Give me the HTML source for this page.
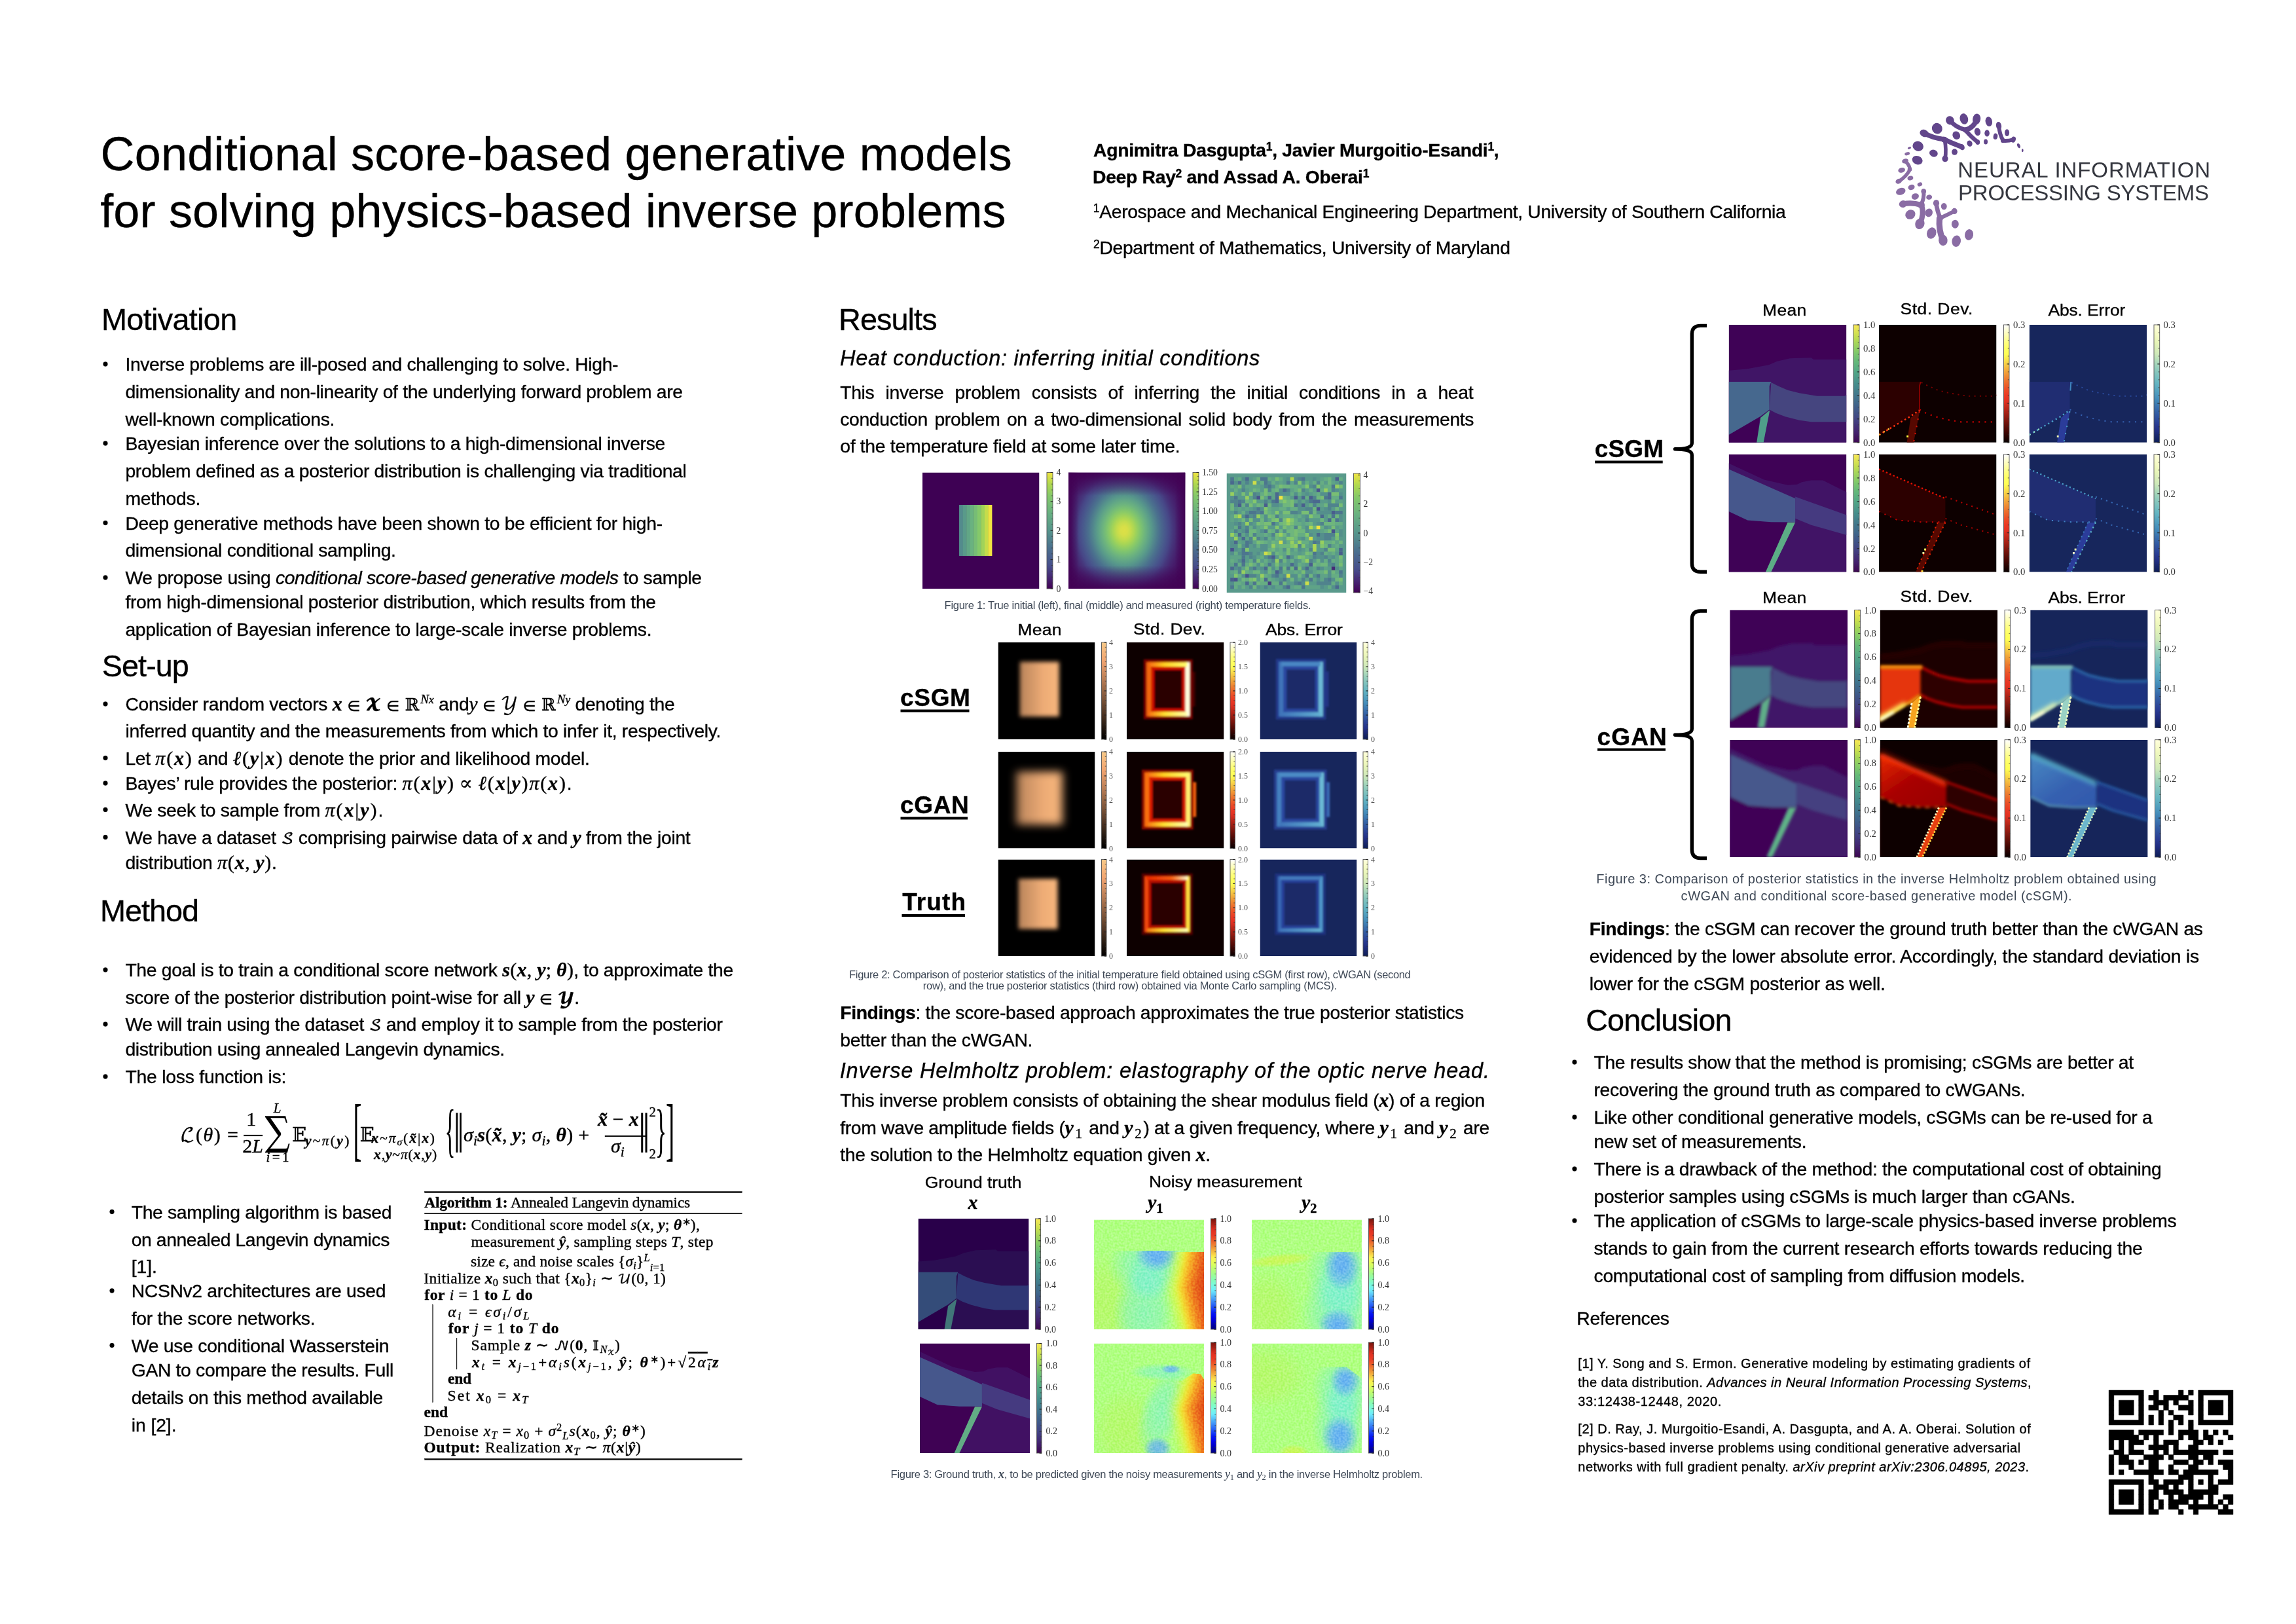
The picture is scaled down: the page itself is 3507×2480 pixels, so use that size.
<!DOCTYPE html><html lang="en"><head><meta charset="utf-8"><title>Conditional score-based generative models for solving physics-based inverse problems</title><style>html,body{margin:0;padding:0;background:#fff}body{width:3507px;height:2480px;position:relative;overflow:hidden}</style></head><body><svg width="3507" height="2480" viewBox="0 0 3507 2480" style="position:absolute;left:0;top:0;display:block" xml:space="preserve"><defs><linearGradient id="cm_viridis" x1="0" y1="1" x2="0" y2="0"><stop offset="0.0" stop-color="#3e0751"/><stop offset="0.05" stop-color="#401660"/><stop offset="0.1" stop-color="#432671"/><stop offset="0.15" stop-color="#41357a"/><stop offset="0.2" stop-color="#424483"/><stop offset="0.25" stop-color="#405186"/><stop offset="0.3" stop-color="#3f5e89"/><stop offset="0.35" stop-color="#406b8b"/><stop offset="0.4" stop-color="#41768c"/><stop offset="0.45" stop-color="#43828c"/><stop offset="0.5" stop-color="#468e8c"/><stop offset="0.55" stop-color="#4c9a89"/><stop offset="0.6" stop-color="#51a686"/><stop offset="0.65" stop-color="#5cb17f"/><stop offset="0.7" stop-color="#67bb78"/><stop offset="0.75" stop-color="#7ac66d"/><stop offset="0.8" stop-color="#8fcf63"/><stop offset="0.85" stop-color="#a8d658"/><stop offset="0.9" stop-color="#c4de50"/><stop offset="0.95" stop-color="#dee353"/><stop offset="1.0" stop-color="#f9e855"/></linearGradient><linearGradient id="cm_jet" x1="0" y1="1" x2="0" y2="0"><stop offset="0.0" stop-color="#00007b"/><stop offset="0.05" stop-color="#0000b2"/><stop offset="0.1" stop-color="#0000e9"/><stop offset="0.15" stop-color="#061af5"/><stop offset="0.2" stop-color="#204ff5"/><stop offset="0.25" stop-color="#3983f7"/><stop offset="0.3" stop-color="#53b7f9"/><stop offset="0.35" stop-color="#6debfc"/><stop offset="0.4" stop-color="#79fbdf"/><stop offset="0.45" stop-color="#88fcb5"/><stop offset="0.5" stop-color="#a1fc8f"/><stop offset="0.55" stop-color="#c0fd6e"/><stop offset="0.6" stop-color="#e4fe59"/><stop offset="0.65" stop-color="#fcf050"/><stop offset="0.7" stop-color="#f5bd41"/><stop offset="0.75" stop-color="#ef8b34"/><stop offset="0.8" stop-color="#ec5e2a"/><stop offset="0.85" stop-color="#ea3b24"/><stop offset="0.9" stop-color="#df3021"/><stop offset="0.95" stop-color="#aa2217"/><stop offset="1.0" stop-color="#75140c"/></linearGradient><linearGradient id="cm_hot" x1="0" y1="1" x2="0" y2="0"><stop offset="0.0" stop-color="#090000"/><stop offset="0.05" stop-color="#270301"/><stop offset="0.1" stop-color="#470804"/><stop offset="0.15" stop-color="#651009"/><stop offset="0.2" stop-color="#85180f"/><stop offset="0.25" stop-color="#a32015"/><stop offset="0.3" stop-color="#c2291b"/><stop offset="0.35" stop-color="#e13122"/><stop offset="0.4" stop-color="#ea3924"/><stop offset="0.45" stop-color="#eb4c27"/><stop offset="0.5" stop-color="#ec662b"/><stop offset="0.55" stop-color="#ee8332"/><stop offset="0.6" stop-color="#f1a239"/><stop offset="0.65" stop-color="#f5c242"/><stop offset="0.7" stop-color="#fae14b"/><stop offset="0.75" stop-color="#ffff55"/><stop offset="0.8" stop-color="#ffff62"/><stop offset="0.85" stop-color="#ffff80"/><stop offset="0.9" stop-color="#ffffa7"/><stop offset="0.95" stop-color="#ffffd2"/><stop offset="1.0" stop-color="#ffffff"/></linearGradient><linearGradient id="cm_copper" x1="0" y1="1" x2="0" y2="0"><stop offset="0.0" stop-color="#000000"/><stop offset="0.05" stop-color="#0f0a06"/><stop offset="0.1" stop-color="#1d140e"/><stop offset="0.15" stop-color="#2c1f15"/><stop offset="0.2" stop-color="#3c291b"/><stop offset="0.25" stop-color="#4b3222"/><stop offset="0.3" stop-color="#593d2a"/><stop offset="0.35" stop-color="#684730"/><stop offset="0.4" stop-color="#775137"/><stop offset="0.45" stop-color="#865b3f"/><stop offset="0.5" stop-color="#956645"/><stop offset="0.55" stop-color="#a4704c"/><stop offset="0.6" stop-color="#b37a54"/><stop offset="0.65" stop-color="#c2845a"/><stop offset="0.7" stop-color="#d08e61"/><stop offset="0.75" stop-color="#e09868"/><stop offset="0.8" stop-color="#efa26f"/><stop offset="0.85" stop-color="#f2ac75"/><stop offset="0.9" stop-color="#f4b57c"/><stop offset="0.95" stop-color="#f5c082"/><stop offset="1.0" stop-color="#f6c989"/></linearGradient><linearGradient id="cm_mut" x1="0" y1="1" x2="0" y2="0"><stop offset="0" stop-color="#420154"/><stop offset="0.08" stop-color="#46206e"/><stop offset="0.2" stop-color="#474f8c"/><stop offset="0.35" stop-color="#4b708e"/><stop offset="0.5" stop-color="#56958c"/><stop offset="0.65" stop-color="#68b082"/><stop offset="0.8" stop-color="#85c96a"/><stop offset="0.9" stop-color="#b0d850"/><stop offset="1" stop-color="#f0e442"/></linearGradient><linearGradient id="cm_ylgnbu" x1="0" y1="1" x2="0" y2="0"><stop offset="0.0" stop-color="#0d1d55"/><stop offset="0.05" stop-color="#18266c"/><stop offset="0.1" stop-color="#222f83"/><stop offset="0.15" stop-color="#293b92"/><stop offset="0.2" stop-color="#2e4c9b"/><stop offset="0.25" stop-color="#335da3"/><stop offset="0.3" stop-color="#3a70ad"/><stop offset="0.35" stop-color="#4185b6"/><stop offset="0.4" stop-color="#4b96bd"/><stop offset="0.45" stop-color="#57a5bf"/><stop offset="0.5" stop-color="#64b4c2"/><stop offset="0.55" stop-color="#75bdbf"/><stop offset="0.6" stop-color="#87c6bd"/><stop offset="0.65" stop-color="#9cd1bb"/><stop offset="0.7" stop-color="#b5ddba"/><stop offset="0.75" stop-color="#cee8b9"/><stop offset="0.8" stop-color="#dbeeb9"/><stop offset="0.85" stop-color="#e8f5b9"/><stop offset="0.9" stop-color="#f2f9c0"/><stop offset="0.95" stop-color="#f9fcce"/><stop offset="1.0" stop-color="#ffffdd"/></linearGradient><filter id="b1" filterUnits="userSpaceOnUse" x="-0.3" y="-0.3" width="1.6" height="1.6"><feGaussianBlur stdDeviation="0.012"/></filter><filter id="b2" filterUnits="userSpaceOnUse" x="-0.3" y="-0.3" width="1.6" height="1.6"><feGaussianBlur stdDeviation="0.022"/></filter><filter id="b3" filterUnits="userSpaceOnUse" x="-0.3" y="-0.3" width="1.6" height="1.6"><feGaussianBlur stdDeviation="0.045"/></filter><filter id="b4" filterUnits="userSpaceOnUse" x="-0.3" y="-0.3" width="1.6" height="1.6"><feGaussianBlur stdDeviation="0.08"/></filter><filter id="nz" x="0" y="0" width="100%" height="100%" color-interpolation-filters="sRGB"><feTurbulence type="fractalNoise" baseFrequency="55" numOctaves="1" seed="3"/><feColorMatrix type="matrix" values="2.6 0 0 0 -0.8  2.6 0 0 0 -0.8  2.6 0 0 0 -0.8  0 0 0 0 1"/></filter></defs><g id="figures"><svg x="1409" y="721.5" width="178.5" height="177.5" viewBox="0 0 1 1" preserveAspectRatio="none"><rect width="1" height="1" fill="#3e0154"/><rect x="0.314" y="0.279" width="0.033" height="0.439" fill="#538b8d" /><rect x="0.345" y="0.279" width="0.033" height="0.439" fill="#599a8a" /><rect x="0.376" y="0.279" width="0.033" height="0.439" fill="#61a686" /><rect x="0.407" y="0.279" width="0.033" height="0.439" fill="#6ab280" /><rect x="0.438" y="0.279" width="0.033" height="0.439" fill="#77bd75" /><rect x="0.470" y="0.279" width="0.033" height="0.439" fill="#85c96a" /><rect x="0.501" y="0.279" width="0.033" height="0.439" fill="#a1d359" /><rect x="0.532" y="0.279" width="0.033" height="0.439" fill="#c5dc4b" /><rect x="0.563" y="0.279" width="0.033" height="0.439" fill="#f0e442" /></svg><rect x="1599" y="721.5" width="9.00" height="177.50" fill="url(#cm_mut)" stroke="#555" stroke-width="0.9"/><path d="M1605.8 899.0h2.2M1605.8 890.1h2.2M1605.8 881.2h2.2M1605.8 872.4h2.2M1605.8 863.5h2.2M1605.8 854.6h2.2M1605.8 845.8h2.2M1605.8 836.9h2.2M1605.8 828.0h2.2M1605.8 819.1h2.2M1605.8 810.2h2.2M1605.8 801.4h2.2M1605.8 792.5h2.2M1605.8 783.6h2.2M1605.8 774.8h2.2M1605.8 765.9h2.2M1605.8 757.0h2.2M1605.8 748.1h2.2M1605.8 739.2h2.2M1605.8 730.4h2.2M1605.8 721.5h2.2" stroke="#333" stroke-width="0.7"/><path d="M1604.5 899.0h3.5M1604.5 854.6h3.5M1604.5 810.2h3.5M1604.5 765.9h3.5M1604.5 721.5h3.5" stroke="#222" stroke-width="0.9"/><g font-family="'Liberation Serif',serif" font-size="13.7" fill="#333"><text x="1613.5" y="903.5">0</text><text x="1613.5" y="859.1">1</text><text x="1613.5" y="814.8">2</text><text x="1613.5" y="770.4">3</text><text x="1613.5" y="726.0">4</text></g><svg x="1632" y="721.5" width="178.5" height="177.5" viewBox="0 0 1 1" preserveAspectRatio="none"><radialGradient id="f1g" cx="0" cy="0" r="0.9" gradientUnits="userSpaceOnUse" gradientTransform="translate(0.475 0.5) scale(0.8 1)"><stop offset="0.000" stop-color="#dde046"/><stop offset="0.042" stop-color="#d7df48"/><stop offset="0.083" stop-color="#c4dc4c"/><stop offset="0.125" stop-color="#aad654"/><stop offset="0.167" stop-color="#90cd63"/><stop offset="0.208" stop-color="#7cc271"/><stop offset="0.250" stop-color="#6db47e"/><stop offset="0.292" stop-color="#61a686"/><stop offset="0.333" stop-color="#57978b"/><stop offset="0.375" stop-color="#51848d"/><stop offset="0.417" stop-color="#4b728e"/><stop offset="0.458" stop-color="#49638d"/><stop offset="0.500" stop-color="#48558c"/><stop offset="0.542" stop-color="#474787"/><stop offset="0.583" stop-color="#46367c"/><stop offset="0.625" stop-color="#462973"/><stop offset="0.667" stop-color="#461e6c"/><stop offset="0.708" stop-color="#451665"/><stop offset="0.750" stop-color="#441060"/><stop offset="0.792" stop-color="#430b5c"/><stop offset="0.833" stop-color="#43085a"/><stop offset="0.875" stop-color="#430658"/><stop offset="0.917" stop-color="#420456"/><stop offset="0.958" stop-color="#420356"/><stop offset="1.000" stop-color="#420255"/></radialGradient><rect width="1" height="1" fill="url(#f1g)"/><linearGradient id="f1e0" x1="0" y1="0" x2="0" y2="0.2" gradientUnits="userSpaceOnUse"><stop offset="0" stop-color="#420154" stop-opacity="0.95"/><stop offset="1" stop-color="#420154" stop-opacity="0"/></linearGradient><rect width="1" height="1" fill="url(#f1e0)"/><linearGradient id="f1e1" x1="0" y1="1" x2="0" y2="0.8" gradientUnits="userSpaceOnUse"><stop offset="0" stop-color="#420154" stop-opacity="0.95"/><stop offset="1" stop-color="#420154" stop-opacity="0"/></linearGradient><rect width="1" height="1" fill="url(#f1e1)"/><linearGradient id="f1e2" x1="0" y1="0" x2="0.09" y2="0" gradientUnits="userSpaceOnUse"><stop offset="0" stop-color="#420154" stop-opacity="0.95"/><stop offset="1" stop-color="#420154" stop-opacity="0"/></linearGradient><rect width="1" height="1" fill="url(#f1e2)"/><linearGradient id="f1e3" x1="1" y1="0" x2="0.91" y2="0" gradientUnits="userSpaceOnUse"><stop offset="0" stop-color="#420154" stop-opacity="0.95"/><stop offset="1" stop-color="#420154" stop-opacity="0"/></linearGradient><rect width="1" height="1" fill="url(#f1e3)"/></svg><rect x="1822" y="721.5" width="9.00" height="177.50" fill="url(#cm_mut)" stroke="#555" stroke-width="0.9"/><path d="M1828.8 899.0h2.2M1828.8 893.1h2.2M1828.8 887.2h2.2M1828.8 881.2h2.2M1828.8 875.3h2.2M1828.8 869.4h2.2M1828.8 863.5h2.2M1828.8 857.6h2.2M1828.8 851.7h2.2M1828.8 845.8h2.2M1828.8 839.8h2.2M1828.8 833.9h2.2M1828.8 828.0h2.2M1828.8 822.1h2.2M1828.8 816.2h2.2M1828.8 810.2h2.2M1828.8 804.3h2.2M1828.8 798.4h2.2M1828.8 792.5h2.2M1828.8 786.6h2.2M1828.8 780.7h2.2M1828.8 774.8h2.2M1828.8 768.8h2.2M1828.8 762.9h2.2M1828.8 757.0h2.2M1828.8 751.1h2.2M1828.8 745.2h2.2M1828.8 739.2h2.2M1828.8 733.3h2.2M1828.8 727.4h2.2M1828.8 721.5h2.2" stroke="#333" stroke-width="0.7"/><path d="M1827.5 899.0h3.5M1827.5 869.4h3.5M1827.5 839.8h3.5M1827.5 810.2h3.5M1827.5 780.7h3.5M1827.5 751.1h3.5M1827.5 721.5h3.5" stroke="#222" stroke-width="0.9"/><g font-family="'Liberation Serif',serif" font-size="13.7" fill="#333"><text x="1836" y="903.5">0.00</text><text x="1836" y="873.9">0.25</text><text x="1836" y="844.4">0.50</text><text x="1836" y="814.8">0.75</text><text x="1836" y="785.2">1.00</text><text x="1836" y="755.6">1.25</text><text x="1836" y="726.0">1.50</text></g><svg x="1873.5" y="723" width="183" height="182" viewBox="0 0 1 1" preserveAspectRatio="none"><rect width="1" height="1" fill="#5a9a8c"/><path d="M0.8750 0.7812h0.0312v0.0312h-0.0312z" fill="#462a74"/><path d="M0.3438 0.9062h0.0312v0.0312h-0.0312z" fill="#473f81"/><path d="M0.7500 0.1250h0.0312v0.0312h-0.0312zM0.2500 0.1875h0.0312v0.0312h-0.0312zM0.7500 0.2812h0.0312v0.0312h-0.0312zM0.8750 0.4688h0.0312v0.0312h-0.0312zM0.0312 0.6250h0.0312v0.0312h-0.0312zM0.1562 0.8438h0.0312v0.0312h-0.0312zM0.0625 0.8750h0.0312v0.0312h-0.0312z" fill="#47518c"/><path d="M0.9062 0.0312h0.0312v0.0312h-0.0312zM0.5625 0.1875h0.0312v0.0312h-0.0312zM0.6875 0.1875h0.0312v0.0312h-0.0312zM0.0938 0.2500h0.0312v0.0312h-0.0312zM0.3125 0.2500h0.0312v0.0312h-0.0312zM0.6250 0.2500h0.0312v0.0312h-0.0312zM0.8750 0.3125h0.0312v0.0312h-0.0312zM0.9375 0.6562h0.0312v0.0312h-0.0312zM0.3750 0.6875h0.0312v0.0312h-0.0312zM0.6875 0.7500h0.0312v0.0312h-0.0312zM0.4062 0.8125h0.0312v0.0312h-0.0312zM0.0312 0.8750h0.0312v0.0312h-0.0312z" fill="#495d8d"/><path d="M0.1562 0.0312h0.0312v0.0312h-0.0312zM0.0312 0.0625h0.0312v0.0312h-0.0312zM0.0938 0.0625h0.0312v0.0312h-0.0312zM0.4688 0.1250h0.0312v0.0312h-0.0312zM0.4062 0.1562h0.0312v0.0312h-0.0312zM0.8438 0.1562h0.0312v0.0312h-0.0312zM0.3438 0.1875h0.0312v0.0312h-0.0312zM0.4062 0.1875h0.0312v0.0312h-0.0312zM0.6250 0.1875h0.0312v0.0312h-0.0312zM0.8438 0.1875h0.0312v0.0312h-0.0312zM0.4062 0.2188h0.0312v0.0312h-0.0312zM0.7188 0.2188h0.0312v0.0312h-0.0312zM0.7500 0.2188h0.0312v0.0312h-0.0312zM0.1562 0.3438h0.0312v0.0312h-0.0312zM0.7812 0.3438h0.0312v0.0312h-0.0312zM0.8438 0.3750h0.0312v0.0312h-0.0312zM0.0938 0.5000h0.0312v0.0312h-0.0312zM0.7500 0.5000h0.0312v0.0312h-0.0312zM0.1250 0.5312h0.0312v0.0312h-0.0312zM0.0625 0.5625h0.0312v0.0312h-0.0312zM0.9375 0.6250h0.0312v0.0312h-0.0312zM0.5000 0.6875h0.0312v0.0312h-0.0312zM0.1250 0.7188h0.0312v0.0312h-0.0312zM0.5312 0.7500h0.0312v0.0312h-0.0312zM0.0312 0.7812h0.0312v0.0312h-0.0312zM0.3125 0.7812h0.0312v0.0312h-0.0312zM0.5625 0.7812h0.0312v0.0312h-0.0312zM0.6562 0.7812h0.0312v0.0312h-0.0312zM0.3125 0.8750h0.0312v0.0312h-0.0312zM0.1562 0.9062h0.0312v0.0312h-0.0312zM0.5000 0.9375h0.0312v0.0312h-0.0312zM0.9062 0.9375h0.0312v0.0312h-0.0312z" fill="#4a688e"/><path d="M0.0312 0.0312h0.0312v0.0312h-0.0312zM0.2812 0.0312h0.0312v0.0312h-0.0312zM0.3125 0.0312h0.0312v0.0312h-0.0312zM0.6250 0.0312h0.0312v0.0312h-0.0312zM0.3125 0.0625h0.0312v0.0312h-0.0312zM0.5000 0.0625h0.0312v0.0312h-0.0312zM0.3438 0.0938h0.0312v0.0312h-0.0312zM0.8750 0.0938h0.0312v0.0312h-0.0312zM0.0625 0.1875h0.0312v0.0312h-0.0312zM0.8125 0.1875h0.0312v0.0312h-0.0312zM0.9375 0.1875h0.0312v0.0312h-0.0312zM0.0938 0.2188h0.0312v0.0312h-0.0312zM0.3750 0.2188h0.0312v0.0312h-0.0312zM0.6875 0.2188h0.0312v0.0312h-0.0312zM0.5625 0.2500h0.0312v0.0312h-0.0312zM0.2500 0.2812h0.0312v0.0312h-0.0312zM0.1875 0.3125h0.0312v0.0312h-0.0312zM0.2188 0.3125h0.0312v0.0312h-0.0312zM0.2812 0.3125h0.0312v0.0312h-0.0312zM0.9062 0.3125h0.0312v0.0312h-0.0312zM0.9375 0.3125h0.0312v0.0312h-0.0312zM0.8750 0.3438h0.0312v0.0312h-0.0312zM0.9062 0.3750h0.0312v0.0312h-0.0312zM0.3750 0.4062h0.0312v0.0312h-0.0312zM0.0938 0.4375h0.0312v0.0312h-0.0312zM0.1562 0.4688h0.0312v0.0312h-0.0312zM0.3125 0.4688h0.0312v0.0312h-0.0312zM0.1562 0.5625h0.0312v0.0312h-0.0312zM0.7188 0.5625h0.0312v0.0312h-0.0312zM0.1562 0.5938h0.0312v0.0312h-0.0312zM0.1250 0.6250h0.0312v0.0312h-0.0312zM0.1250 0.6562h0.0312v0.0312h-0.0312zM0.1562 0.6562h0.0312v0.0312h-0.0312zM0.7188 0.6562h0.0312v0.0312h-0.0312zM0.1250 0.6875h0.0312v0.0312h-0.0312zM0.3438 0.6875h0.0312v0.0312h-0.0312zM0.0625 0.7500h0.0312v0.0312h-0.0312zM0.1250 0.7500h0.0312v0.0312h-0.0312zM0.3438 0.7500h0.0312v0.0312h-0.0312zM0.2188 0.7812h0.0312v0.0312h-0.0312zM0.4375 0.7812h0.0312v0.0312h-0.0312zM0.5000 0.7812h0.0312v0.0312h-0.0312zM0.9375 0.8125h0.0312v0.0312h-0.0312zM0.4062 0.8438h0.0312v0.0312h-0.0312zM0.6562 0.8438h0.0312v0.0312h-0.0312zM0.7500 0.8438h0.0312v0.0312h-0.0312zM0.4688 0.8750h0.0312v0.0312h-0.0312zM0.6875 0.8750h0.0312v0.0312h-0.0312zM0.8438 0.8750h0.0312v0.0312h-0.0312zM0.2188 0.9062h0.0312v0.0312h-0.0312zM0.4375 0.9062h0.0312v0.0312h-0.0312zM0.5938 0.9062h0.0312v0.0312h-0.0312zM0.0312 0.9375h0.0312v0.0312h-0.0312zM0.6250 0.9375h0.0312v0.0312h-0.0312z" fill="#4c758e"/><path d="M0.5938 0.0312h0.0312v0.0312h-0.0312zM0.1562 0.0625h0.0312v0.0312h-0.0312zM0.5625 0.0625h0.0312v0.0312h-0.0312zM0.7500 0.0625h0.0312v0.0312h-0.0312zM0.9375 0.0625h0.0312v0.0312h-0.0312zM0.3125 0.0938h0.0312v0.0312h-0.0312zM0.7188 0.0938h0.0312v0.0312h-0.0312zM0.1250 0.1250h0.0312v0.0312h-0.0312zM0.3438 0.1250h0.0312v0.0312h-0.0312zM0.5000 0.1250h0.0312v0.0312h-0.0312zM0.6250 0.1250h0.0312v0.0312h-0.0312zM0.8750 0.1250h0.0312v0.0312h-0.0312zM0.2188 0.1562h0.0312v0.0312h-0.0312zM0.2188 0.1875h0.0312v0.0312h-0.0312zM0.7188 0.1875h0.0312v0.0312h-0.0312zM0.0312 0.2188h0.0312v0.0312h-0.0312zM0.0625 0.2188h0.0312v0.0312h-0.0312zM0.1250 0.2188h0.0312v0.0312h-0.0312zM0.3125 0.2188h0.0312v0.0312h-0.0312zM0.0625 0.2500h0.0312v0.0312h-0.0312zM0.1562 0.2500h0.0312v0.0312h-0.0312zM0.7188 0.2500h0.0312v0.0312h-0.0312zM0.8438 0.2500h0.0312v0.0312h-0.0312zM0.8750 0.2500h0.0312v0.0312h-0.0312zM0.9062 0.2500h0.0312v0.0312h-0.0312zM0.6562 0.2812h0.0312v0.0312h-0.0312zM0.6875 0.2812h0.0312v0.0312h-0.0312zM0.8438 0.2812h0.0312v0.0312h-0.0312zM0.0625 0.3125h0.0312v0.0312h-0.0312zM0.2500 0.3125h0.0312v0.0312h-0.0312zM0.5312 0.3125h0.0312v0.0312h-0.0312zM0.5625 0.3125h0.0312v0.0312h-0.0312zM0.6875 0.3125h0.0312v0.0312h-0.0312zM0.2188 0.3438h0.0312v0.0312h-0.0312zM0.4062 0.3438h0.0312v0.0312h-0.0312zM0.4375 0.3750h0.0312v0.0312h-0.0312zM0.6562 0.3750h0.0312v0.0312h-0.0312zM0.0938 0.4062h0.0312v0.0312h-0.0312zM0.7812 0.4062h0.0312v0.0312h-0.0312zM0.1562 0.4375h0.0312v0.0312h-0.0312zM0.5625 0.4375h0.0312v0.0312h-0.0312zM0.0625 0.4688h0.0312v0.0312h-0.0312zM0.4062 0.4688h0.0312v0.0312h-0.0312zM0.2188 0.5000h0.0312v0.0312h-0.0312zM0.3750 0.5000h0.0312v0.0312h-0.0312zM0.8125 0.5000h0.0312v0.0312h-0.0312zM0.8438 0.5000h0.0312v0.0312h-0.0312zM0.8750 0.5000h0.0312v0.0312h-0.0312zM0.1875 0.5312h0.0312v0.0312h-0.0312zM0.2500 0.5312h0.0312v0.0312h-0.0312zM0.3125 0.5312h0.0312v0.0312h-0.0312zM0.8125 0.5312h0.0312v0.0312h-0.0312zM0.8438 0.5312h0.0312v0.0312h-0.0312zM0.1875 0.5625h0.0312v0.0312h-0.0312zM0.7500 0.5625h0.0312v0.0312h-0.0312zM0.5938 0.5938h0.0312v0.0312h-0.0312zM0.8438 0.5938h0.0312v0.0312h-0.0312zM0.6875 0.6250h0.0312v0.0312h-0.0312zM0.8125 0.6250h0.0312v0.0312h-0.0312zM0.1875 0.6562h0.0312v0.0312h-0.0312zM0.7812 0.6562h0.0312v0.0312h-0.0312zM0.1875 0.6875h0.0312v0.0312h-0.0312zM0.7188 0.6875h0.0312v0.0312h-0.0312zM0.8125 0.6875h0.0312v0.0312h-0.0312zM0.2188 0.7188h0.0312v0.0312h-0.0312zM0.3750 0.7188h0.0312v0.0312h-0.0312zM0.4375 0.7188h0.0312v0.0312h-0.0312zM0.6875 0.7188h0.0312v0.0312h-0.0312zM0.8438 0.7188h0.0312v0.0312h-0.0312zM0.8750 0.7500h0.0312v0.0312h-0.0312zM0.0938 0.7812h0.0312v0.0312h-0.0312zM0.7500 0.7812h0.0312v0.0312h-0.0312zM0.0938 0.8125h0.0312v0.0312h-0.0312zM0.4375 0.8125h0.0312v0.0312h-0.0312zM0.1875 0.8438h0.0312v0.0312h-0.0312zM0.2188 0.8438h0.0312v0.0312h-0.0312zM0.3750 0.8438h0.0312v0.0312h-0.0312zM0.9375 0.8438h0.0312v0.0312h-0.0312zM0.6250 0.8750h0.0312v0.0312h-0.0312zM0.8125 0.8750h0.0312v0.0312h-0.0312zM0.5625 0.9062h0.0312v0.0312h-0.0312zM0.7500 0.9062h0.0312v0.0312h-0.0312zM0.7812 0.9062h0.0312v0.0312h-0.0312zM0.8125 0.9062h0.0312v0.0312h-0.0312zM0.8438 0.9062h0.0312v0.0312h-0.0312zM0.1875 0.9375h0.0312v0.0312h-0.0312zM0.3125 0.9375h0.0312v0.0312h-0.0312zM0.4688 0.9375h0.0312v0.0312h-0.0312z" fill="#50828d"/><path d="M0.1250 0.0312h0.0312v0.0312h-0.0312zM0.5000 0.0312h0.0312v0.0312h-0.0312zM0.5625 0.0312h0.0312v0.0312h-0.0312zM0.7188 0.0312h0.0312v0.0312h-0.0312zM0.0625 0.0625h0.0312v0.0312h-0.0312zM0.3438 0.0625h0.0312v0.0312h-0.0312zM0.6250 0.0625h0.0312v0.0312h-0.0312zM0.1250 0.0938h0.0312v0.0312h-0.0312zM0.3750 0.0938h0.0312v0.0312h-0.0312zM0.6875 0.0938h0.0312v0.0312h-0.0312zM0.4375 0.1250h0.0312v0.0312h-0.0312zM0.9062 0.1250h0.0312v0.0312h-0.0312zM0.2500 0.1562h0.0312v0.0312h-0.0312zM0.4375 0.1562h0.0312v0.0312h-0.0312zM0.4688 0.1562h0.0312v0.0312h-0.0312zM0.5000 0.1562h0.0312v0.0312h-0.0312zM0.5625 0.1562h0.0312v0.0312h-0.0312zM0.6562 0.1562h0.0312v0.0312h-0.0312zM0.7812 0.1562h0.0312v0.0312h-0.0312zM0.8125 0.1562h0.0312v0.0312h-0.0312zM0.9375 0.1562h0.0312v0.0312h-0.0312zM0.0312 0.1875h0.0312v0.0312h-0.0312zM0.5938 0.2188h0.0312v0.0312h-0.0312zM0.6562 0.2188h0.0312v0.0312h-0.0312zM0.8438 0.2188h0.0312v0.0312h-0.0312zM0.3750 0.2500h0.0312v0.0312h-0.0312zM0.4062 0.2500h0.0312v0.0312h-0.0312zM0.5938 0.2500h0.0312v0.0312h-0.0312zM0.2188 0.2812h0.0312v0.0312h-0.0312zM0.2812 0.2812h0.0312v0.0312h-0.0312zM0.5938 0.2812h0.0312v0.0312h-0.0312zM0.6250 0.2812h0.0312v0.0312h-0.0312zM0.8125 0.2812h0.0312v0.0312h-0.0312zM0.1562 0.3125h0.0312v0.0312h-0.0312zM0.5938 0.3125h0.0312v0.0312h-0.0312zM0.7500 0.3125h0.0312v0.0312h-0.0312zM0.7812 0.3125h0.0312v0.0312h-0.0312zM0.8125 0.3125h0.0312v0.0312h-0.0312zM0.8438 0.3125h0.0312v0.0312h-0.0312zM0.1250 0.3438h0.0312v0.0312h-0.0312zM0.1875 0.3438h0.0312v0.0312h-0.0312zM0.3125 0.3438h0.0312v0.0312h-0.0312zM0.6562 0.3438h0.0312v0.0312h-0.0312zM0.9375 0.3438h0.0312v0.0312h-0.0312zM0.1562 0.3750h0.0312v0.0312h-0.0312zM0.2188 0.3750h0.0312v0.0312h-0.0312zM0.2500 0.3750h0.0312v0.0312h-0.0312zM0.3125 0.3750h0.0312v0.0312h-0.0312zM0.9375 0.3750h0.0312v0.0312h-0.0312zM0.0625 0.4062h0.0312v0.0312h-0.0312zM0.1875 0.4062h0.0312v0.0312h-0.0312zM0.7500 0.4062h0.0312v0.0312h-0.0312zM0.2188 0.4375h0.0312v0.0312h-0.0312zM0.6562 0.4375h0.0312v0.0312h-0.0312zM0.8125 0.4375h0.0312v0.0312h-0.0312zM0.1250 0.4688h0.0312v0.0312h-0.0312zM0.2812 0.4688h0.0312v0.0312h-0.0312zM0.4688 0.4688h0.0312v0.0312h-0.0312zM0.6562 0.4688h0.0312v0.0312h-0.0312zM0.9375 0.4688h0.0312v0.0312h-0.0312zM0.1562 0.5000h0.0312v0.0312h-0.0312zM0.6875 0.5000h0.0312v0.0312h-0.0312zM0.7812 0.5000h0.0312v0.0312h-0.0312zM0.9375 0.5000h0.0312v0.0312h-0.0312zM0.6250 0.5312h0.0312v0.0312h-0.0312zM0.7500 0.5312h0.0312v0.0312h-0.0312zM0.7812 0.5312h0.0312v0.0312h-0.0312zM0.0312 0.5625h0.0312v0.0312h-0.0312zM0.0312 0.5938h0.0312v0.0312h-0.0312zM0.0625 0.5938h0.0312v0.0312h-0.0312zM0.1250 0.5938h0.0312v0.0312h-0.0312zM0.2188 0.5938h0.0312v0.0312h-0.0312zM0.2812 0.5938h0.0312v0.0312h-0.0312zM0.3125 0.5938h0.0312v0.0312h-0.0312zM0.0625 0.6250h0.0312v0.0312h-0.0312zM0.2812 0.6250h0.0312v0.0312h-0.0312zM0.3125 0.6250h0.0312v0.0312h-0.0312zM0.4688 0.6250h0.0312v0.0312h-0.0312zM0.5938 0.6250h0.0312v0.0312h-0.0312zM0.0312 0.6562h0.0312v0.0312h-0.0312zM0.0938 0.6562h0.0312v0.0312h-0.0312zM0.2500 0.6562h0.0312v0.0312h-0.0312zM0.3750 0.6562h0.0312v0.0312h-0.0312zM0.7500 0.6562h0.0312v0.0312h-0.0312zM0.2188 0.6875h0.0312v0.0312h-0.0312zM0.3125 0.6875h0.0312v0.0312h-0.0312zM0.5312 0.6875h0.0312v0.0312h-0.0312zM0.7500 0.6875h0.0312v0.0312h-0.0312zM0.7812 0.6875h0.0312v0.0312h-0.0312zM0.8750 0.6875h0.0312v0.0312h-0.0312zM0.0938 0.7188h0.0312v0.0312h-0.0312zM0.5625 0.7188h0.0312v0.0312h-0.0312zM0.7812 0.7188h0.0312v0.0312h-0.0312zM0.2500 0.7500h0.0312v0.0312h-0.0312zM0.5625 0.7500h0.0312v0.0312h-0.0312zM0.8438 0.7500h0.0312v0.0312h-0.0312zM0.0625 0.7812h0.0312v0.0312h-0.0312zM0.1875 0.7812h0.0312v0.0312h-0.0312zM0.2812 0.7812h0.0312v0.0312h-0.0312zM0.3750 0.7812h0.0312v0.0312h-0.0312zM0.6250 0.7812h0.0312v0.0312h-0.0312zM0.7812 0.7812h0.0312v0.0312h-0.0312zM0.9062 0.7812h0.0312v0.0312h-0.0312zM0.3125 0.8125h0.0312v0.0312h-0.0312zM0.6562 0.8125h0.0312v0.0312h-0.0312zM0.6875 0.8125h0.0312v0.0312h-0.0312zM0.8438 0.8125h0.0312v0.0312h-0.0312zM0.1250 0.8438h0.0312v0.0312h-0.0312zM0.4688 0.8438h0.0312v0.0312h-0.0312zM0.5312 0.8438h0.0312v0.0312h-0.0312zM0.5625 0.8438h0.0312v0.0312h-0.0312zM0.7188 0.8438h0.0312v0.0312h-0.0312zM0.8438 0.8438h0.0312v0.0312h-0.0312zM0.4375 0.8750h0.0312v0.0312h-0.0312zM0.5625 0.8750h0.0312v0.0312h-0.0312zM0.7500 0.8750h0.0312v0.0312h-0.0312zM0.8750 0.8750h0.0312v0.0312h-0.0312zM0.0312 0.9062h0.0312v0.0312h-0.0312zM0.6250 0.9062h0.0312v0.0312h-0.0312zM0.9062 0.9062h0.0312v0.0312h-0.0312zM0.2500 0.9375h0.0312v0.0312h-0.0312zM0.3750 0.9375h0.0312v0.0312h-0.0312zM0.7812 0.9375h0.0312v0.0312h-0.0312zM0.8750 0.9375h0.0312v0.0312h-0.0312z" fill="#548f8c"/><path d="M0.1875 0.0312h0.0312v0.0312h-0.0312zM0.4688 0.0312h0.0312v0.0312h-0.0312zM0.6562 0.0312h0.0312v0.0312h-0.0312zM0.6875 0.0312h0.0312v0.0312h-0.0312zM0.7500 0.0312h0.0312v0.0312h-0.0312zM0.8750 0.0312h0.0312v0.0312h-0.0312zM0.1250 0.0625h0.0312v0.0312h-0.0312zM0.1875 0.0625h0.0312v0.0312h-0.0312zM0.2500 0.0625h0.0312v0.0312h-0.0312zM0.4062 0.0625h0.0312v0.0312h-0.0312zM0.4688 0.0625h0.0312v0.0312h-0.0312zM0.6875 0.0625h0.0312v0.0312h-0.0312zM0.8125 0.0625h0.0312v0.0312h-0.0312zM0.9062 0.0625h0.0312v0.0312h-0.0312zM0.2812 0.0938h0.0312v0.0312h-0.0312zM0.0312 0.1250h0.0312v0.0312h-0.0312zM0.0938 0.1250h0.0312v0.0312h-0.0312zM0.1562 0.1250h0.0312v0.0312h-0.0312zM0.2812 0.1250h0.0312v0.0312h-0.0312zM0.6562 0.1250h0.0312v0.0312h-0.0312zM0.7188 0.1250h0.0312v0.0312h-0.0312zM0.9375 0.1250h0.0312v0.0312h-0.0312zM0.0938 0.1562h0.0312v0.0312h-0.0312zM0.1562 0.1562h0.0312v0.0312h-0.0312zM0.6250 0.1562h0.0312v0.0312h-0.0312zM0.6875 0.1562h0.0312v0.0312h-0.0312zM0.0938 0.1875h0.0312v0.0312h-0.0312zM0.1250 0.1875h0.0312v0.0312h-0.0312zM0.5312 0.1875h0.0312v0.0312h-0.0312zM0.5938 0.1875h0.0312v0.0312h-0.0312zM0.2500 0.2188h0.0312v0.0312h-0.0312zM0.2812 0.2188h0.0312v0.0312h-0.0312zM0.3438 0.2188h0.0312v0.0312h-0.0312zM0.7812 0.2188h0.0312v0.0312h-0.0312zM0.8125 0.2188h0.0312v0.0312h-0.0312zM0.9062 0.2188h0.0312v0.0312h-0.0312zM0.4375 0.2500h0.0312v0.0312h-0.0312zM0.6562 0.2500h0.0312v0.0312h-0.0312zM0.0625 0.2812h0.0312v0.0312h-0.0312zM0.1250 0.2812h0.0312v0.0312h-0.0312zM0.1875 0.2812h0.0312v0.0312h-0.0312zM0.5000 0.2812h0.0312v0.0312h-0.0312zM0.7812 0.2812h0.0312v0.0312h-0.0312zM0.8750 0.2812h0.0312v0.0312h-0.0312zM0.9375 0.2812h0.0312v0.0312h-0.0312zM0.0312 0.3125h0.0312v0.0312h-0.0312zM0.0938 0.3125h0.0312v0.0312h-0.0312zM0.4375 0.3125h0.0312v0.0312h-0.0312zM0.6250 0.3438h0.0312v0.0312h-0.0312zM0.8125 0.3438h0.0312v0.0312h-0.0312zM0.0625 0.3750h0.0312v0.0312h-0.0312zM0.5938 0.3750h0.0312v0.0312h-0.0312zM0.6875 0.3750h0.0312v0.0312h-0.0312zM0.7188 0.3750h0.0312v0.0312h-0.0312zM0.7500 0.3750h0.0312v0.0312h-0.0312zM0.8125 0.3750h0.0312v0.0312h-0.0312zM0.0312 0.4062h0.0312v0.0312h-0.0312zM0.1250 0.4062h0.0312v0.0312h-0.0312zM0.2188 0.4062h0.0312v0.0312h-0.0312zM0.4062 0.4062h0.0312v0.0312h-0.0312zM0.7188 0.4062h0.0312v0.0312h-0.0312zM0.0312 0.4375h0.0312v0.0312h-0.0312zM0.1250 0.4375h0.0312v0.0312h-0.0312zM0.3438 0.4375h0.0312v0.0312h-0.0312zM0.3750 0.4375h0.0312v0.0312h-0.0312zM0.4375 0.4375h0.0312v0.0312h-0.0312zM0.8438 0.4375h0.0312v0.0312h-0.0312zM0.9062 0.4375h0.0312v0.0312h-0.0312zM0.0938 0.4688h0.0312v0.0312h-0.0312zM0.6875 0.4688h0.0312v0.0312h-0.0312zM0.7188 0.4688h0.0312v0.0312h-0.0312zM0.7500 0.4688h0.0312v0.0312h-0.0312zM0.5000 0.5000h0.0312v0.0312h-0.0312zM0.7188 0.5000h0.0312v0.0312h-0.0312zM0.0312 0.5312h0.0312v0.0312h-0.0312zM0.0938 0.5312h0.0312v0.0312h-0.0312zM0.2812 0.5312h0.0312v0.0312h-0.0312zM0.3750 0.5312h0.0312v0.0312h-0.0312zM0.5938 0.5312h0.0312v0.0312h-0.0312zM0.7188 0.5312h0.0312v0.0312h-0.0312zM0.8750 0.5312h0.0312v0.0312h-0.0312zM0.9375 0.5312h0.0312v0.0312h-0.0312zM0.1250 0.5625h0.0312v0.0312h-0.0312zM0.4688 0.5625h0.0312v0.0312h-0.0312zM0.6875 0.5625h0.0312v0.0312h-0.0312zM0.1875 0.5938h0.0312v0.0312h-0.0312zM0.6875 0.5938h0.0312v0.0312h-0.0312zM0.7500 0.5938h0.0312v0.0312h-0.0312zM0.9375 0.5938h0.0312v0.0312h-0.0312zM0.0938 0.6250h0.0312v0.0312h-0.0312zM0.1875 0.6250h0.0312v0.0312h-0.0312zM0.2188 0.6250h0.0312v0.0312h-0.0312zM0.2500 0.6250h0.0312v0.0312h-0.0312zM0.5312 0.6250h0.0312v0.0312h-0.0312zM0.6250 0.6250h0.0312v0.0312h-0.0312zM0.7500 0.6250h0.0312v0.0312h-0.0312zM0.7812 0.6250h0.0312v0.0312h-0.0312zM0.2188 0.6562h0.0312v0.0312h-0.0312zM0.5938 0.6562h0.0312v0.0312h-0.0312zM0.9062 0.6562h0.0312v0.0312h-0.0312zM0.1562 0.6875h0.0312v0.0312h-0.0312zM0.4062 0.6875h0.0312v0.0312h-0.0312zM0.8438 0.6875h0.0312v0.0312h-0.0312zM0.1562 0.7188h0.0312v0.0312h-0.0312zM0.2812 0.7188h0.0312v0.0312h-0.0312zM0.3438 0.7188h0.0312v0.0312h-0.0312zM0.5000 0.7188h0.0312v0.0312h-0.0312zM0.5938 0.7188h0.0312v0.0312h-0.0312zM0.7188 0.7188h0.0312v0.0312h-0.0312zM0.3750 0.7500h0.0312v0.0312h-0.0312zM0.4375 0.7500h0.0312v0.0312h-0.0312zM0.5000 0.7500h0.0312v0.0312h-0.0312zM0.6562 0.7500h0.0312v0.0312h-0.0312zM0.2500 0.7812h0.0312v0.0312h-0.0312zM0.6875 0.7812h0.0312v0.0312h-0.0312zM0.8438 0.7812h0.0312v0.0312h-0.0312zM0.2812 0.8125h0.0312v0.0312h-0.0312zM0.0312 0.8438h0.0312v0.0312h-0.0312zM0.2500 0.8438h0.0312v0.0312h-0.0312zM0.4375 0.8438h0.0312v0.0312h-0.0312zM0.6250 0.8438h0.0312v0.0312h-0.0312zM0.0938 0.8750h0.0312v0.0312h-0.0312zM0.2500 0.8750h0.0312v0.0312h-0.0312zM0.4062 0.8750h0.0312v0.0312h-0.0312zM0.5000 0.8750h0.0312v0.0312h-0.0312zM0.5000 0.9062h0.0312v0.0312h-0.0312zM0.5312 0.9062h0.0312v0.0312h-0.0312zM0.6875 0.9062h0.0312v0.0312h-0.0312zM0.7188 0.9062h0.0312v0.0312h-0.0312zM0.0938 0.9375h0.0312v0.0312h-0.0312zM0.1562 0.9375h0.0312v0.0312h-0.0312zM0.2812 0.9375h0.0312v0.0312h-0.0312zM0.3438 0.9375h0.0312v0.0312h-0.0312zM0.8125 0.9375h0.0312v0.0312h-0.0312zM0.9375 0.9375h0.0312v0.0312h-0.0312z" fill="#599a8a"/><path d="M0.0625 0.0312h0.0312v0.0312h-0.0312zM0.2188 0.0312h0.0312v0.0312h-0.0312zM0.3750 0.0312h0.0312v0.0312h-0.0312zM0.7812 0.0312h0.0312v0.0312h-0.0312zM0.4375 0.0625h0.0312v0.0312h-0.0312zM0.5312 0.0625h0.0312v0.0312h-0.0312zM0.8750 0.0625h0.0312v0.0312h-0.0312zM0.0625 0.0938h0.0312v0.0312h-0.0312zM0.1562 0.0938h0.0312v0.0312h-0.0312zM0.1875 0.0938h0.0312v0.0312h-0.0312zM0.2188 0.0938h0.0312v0.0312h-0.0312zM0.2500 0.0938h0.0312v0.0312h-0.0312zM0.5938 0.0938h0.0312v0.0312h-0.0312zM0.7812 0.0938h0.0312v0.0312h-0.0312zM0.1875 0.1250h0.0312v0.0312h-0.0312zM0.5312 0.1250h0.0312v0.0312h-0.0312zM0.0625 0.1562h0.0312v0.0312h-0.0312zM0.3750 0.1562h0.0312v0.0312h-0.0312zM0.7188 0.1562h0.0312v0.0312h-0.0312zM0.1875 0.1875h0.0312v0.0312h-0.0312zM0.3125 0.1875h0.0312v0.0312h-0.0312zM0.3750 0.1875h0.0312v0.0312h-0.0312zM0.5625 0.2188h0.0312v0.0312h-0.0312zM0.6250 0.2188h0.0312v0.0312h-0.0312zM0.9375 0.2188h0.0312v0.0312h-0.0312zM0.2188 0.2500h0.0312v0.0312h-0.0312zM0.7500 0.2500h0.0312v0.0312h-0.0312zM0.7812 0.2500h0.0312v0.0312h-0.0312zM0.0938 0.2812h0.0312v0.0312h-0.0312zM0.1562 0.2812h0.0312v0.0312h-0.0312zM0.3750 0.2812h0.0312v0.0312h-0.0312zM0.4062 0.2812h0.0312v0.0312h-0.0312zM0.3750 0.3125h0.0312v0.0312h-0.0312zM0.0312 0.3438h0.0312v0.0312h-0.0312zM0.4375 0.3438h0.0312v0.0312h-0.0312zM0.5625 0.3438h0.0312v0.0312h-0.0312zM0.0312 0.3750h0.0312v0.0312h-0.0312zM0.0938 0.3750h0.0312v0.0312h-0.0312zM0.3438 0.3750h0.0312v0.0312h-0.0312zM0.6250 0.3750h0.0312v0.0312h-0.0312zM0.6250 0.4062h0.0312v0.0312h-0.0312zM0.2500 0.4375h0.0312v0.0312h-0.0312zM0.6250 0.4375h0.0312v0.0312h-0.0312zM0.9375 0.4375h0.0312v0.0312h-0.0312zM0.0312 0.4688h0.0312v0.0312h-0.0312zM0.2500 0.4688h0.0312v0.0312h-0.0312zM0.7812 0.4688h0.0312v0.0312h-0.0312zM0.9062 0.4688h0.0312v0.0312h-0.0312zM0.1250 0.5000h0.0312v0.0312h-0.0312zM0.2500 0.5000h0.0312v0.0312h-0.0312zM0.2812 0.5000h0.0312v0.0312h-0.0312zM0.3438 0.5000h0.0312v0.0312h-0.0312zM0.1562 0.5312h0.0312v0.0312h-0.0312zM0.4688 0.5312h0.0312v0.0312h-0.0312zM0.0938 0.5625h0.0312v0.0312h-0.0312zM0.2188 0.5625h0.0312v0.0312h-0.0312zM0.3438 0.5625h0.0312v0.0312h-0.0312zM0.9062 0.5625h0.0312v0.0312h-0.0312zM0.3438 0.5938h0.0312v0.0312h-0.0312zM0.6562 0.5938h0.0312v0.0312h-0.0312zM0.8750 0.5938h0.0312v0.0312h-0.0312zM0.4062 0.6250h0.0312v0.0312h-0.0312zM0.9062 0.6250h0.0312v0.0312h-0.0312zM0.2812 0.6562h0.0312v0.0312h-0.0312zM0.4688 0.6562h0.0312v0.0312h-0.0312zM0.5312 0.6562h0.0312v0.0312h-0.0312zM0.5625 0.6562h0.0312v0.0312h-0.0312zM0.6250 0.6562h0.0312v0.0312h-0.0312zM0.8438 0.6562h0.0312v0.0312h-0.0312zM0.0312 0.6875h0.0312v0.0312h-0.0312zM0.0625 0.6875h0.0312v0.0312h-0.0312zM0.0938 0.6875h0.0312v0.0312h-0.0312zM0.2500 0.6875h0.0312v0.0312h-0.0312zM0.4688 0.6875h0.0312v0.0312h-0.0312zM0.6875 0.6875h0.0312v0.0312h-0.0312zM0.9062 0.6875h0.0312v0.0312h-0.0312zM0.0625 0.7188h0.0312v0.0312h-0.0312zM0.9062 0.7188h0.0312v0.0312h-0.0312zM0.0312 0.7500h0.0312v0.0312h-0.0312zM0.3125 0.7500h0.0312v0.0312h-0.0312zM0.4688 0.7500h0.0312v0.0312h-0.0312zM0.6250 0.7500h0.0312v0.0312h-0.0312zM0.9062 0.7500h0.0312v0.0312h-0.0312zM0.1250 0.7812h0.0312v0.0312h-0.0312zM0.7188 0.7812h0.0312v0.0312h-0.0312zM0.8125 0.7812h0.0312v0.0312h-0.0312zM0.9375 0.7812h0.0312v0.0312h-0.0312zM0.0312 0.8125h0.0312v0.0312h-0.0312zM0.1875 0.8125h0.0312v0.0312h-0.0312zM0.3750 0.8125h0.0312v0.0312h-0.0312zM0.5000 0.8125h0.0312v0.0312h-0.0312zM0.5312 0.8125h0.0312v0.0312h-0.0312zM0.5938 0.8125h0.0312v0.0312h-0.0312zM0.7188 0.8125h0.0312v0.0312h-0.0312zM0.9062 0.8125h0.0312v0.0312h-0.0312zM0.3438 0.8438h0.0312v0.0312h-0.0312zM0.7812 0.8438h0.0312v0.0312h-0.0312zM0.8125 0.8438h0.0312v0.0312h-0.0312zM0.3750 0.8750h0.0312v0.0312h-0.0312zM0.5938 0.8750h0.0312v0.0312h-0.0312zM0.6562 0.8750h0.0312v0.0312h-0.0312zM0.7188 0.8750h0.0312v0.0312h-0.0312zM0.7812 0.8750h0.0312v0.0312h-0.0312zM0.1250 0.9062h0.0312v0.0312h-0.0312zM0.1875 0.9062h0.0312v0.0312h-0.0312zM0.4062 0.9375h0.0312v0.0312h-0.0312zM0.4375 0.9375h0.0312v0.0312h-0.0312zM0.5312 0.9375h0.0312v0.0312h-0.0312zM0.6562 0.9375h0.0312v0.0312h-0.0312zM0.6875 0.9375h0.0312v0.0312h-0.0312zM0.7188 0.9375h0.0312v0.0312h-0.0312zM0.7500 0.9375h0.0312v0.0312h-0.0312z" fill="#5fa387"/><path d="M0.0938 0.0312h0.0312v0.0312h-0.0312zM0.3438 0.0312h0.0312v0.0312h-0.0312zM0.4375 0.0312h0.0312v0.0312h-0.0312zM0.8125 0.0312h0.0312v0.0312h-0.0312zM0.9375 0.0312h0.0312v0.0312h-0.0312zM0.2812 0.0625h0.0312v0.0312h-0.0312zM0.3750 0.0625h0.0312v0.0312h-0.0312zM0.6562 0.0625h0.0312v0.0312h-0.0312zM0.7188 0.0625h0.0312v0.0312h-0.0312zM0.7812 0.0625h0.0312v0.0312h-0.0312zM0.0312 0.0938h0.0312v0.0312h-0.0312zM0.4062 0.0938h0.0312v0.0312h-0.0312zM0.5312 0.0938h0.0312v0.0312h-0.0312zM0.5625 0.0938h0.0312v0.0312h-0.0312zM0.6250 0.0938h0.0312v0.0312h-0.0312zM0.8125 0.0938h0.0312v0.0312h-0.0312zM0.8438 0.0938h0.0312v0.0312h-0.0312zM0.0625 0.1250h0.0312v0.0312h-0.0312zM0.2500 0.1250h0.0312v0.0312h-0.0312zM0.3750 0.1250h0.0312v0.0312h-0.0312zM0.5625 0.1250h0.0312v0.0312h-0.0312zM0.6875 0.1250h0.0312v0.0312h-0.0312zM0.7812 0.1250h0.0312v0.0312h-0.0312zM0.8438 0.1250h0.0312v0.0312h-0.0312zM0.2812 0.1562h0.0312v0.0312h-0.0312zM0.3438 0.1562h0.0312v0.0312h-0.0312zM0.5312 0.1562h0.0312v0.0312h-0.0312zM0.5938 0.1562h0.0312v0.0312h-0.0312zM0.7500 0.1562h0.0312v0.0312h-0.0312zM0.5000 0.1875h0.0312v0.0312h-0.0312zM0.6562 0.1875h0.0312v0.0312h-0.0312zM0.8750 0.1875h0.0312v0.0312h-0.0312zM0.9062 0.1875h0.0312v0.0312h-0.0312zM0.1875 0.2188h0.0312v0.0312h-0.0312zM0.1250 0.2500h0.0312v0.0312h-0.0312zM0.2812 0.2500h0.0312v0.0312h-0.0312zM0.6875 0.2500h0.0312v0.0312h-0.0312zM0.3438 0.2812h0.0312v0.0312h-0.0312zM0.4375 0.2812h0.0312v0.0312h-0.0312zM0.4688 0.2812h0.0312v0.0312h-0.0312zM0.5312 0.2812h0.0312v0.0312h-0.0312zM0.5625 0.2812h0.0312v0.0312h-0.0312zM0.1250 0.3125h0.0312v0.0312h-0.0312zM0.3438 0.3125h0.0312v0.0312h-0.0312zM0.2812 0.3438h0.0312v0.0312h-0.0312zM0.4688 0.3438h0.0312v0.0312h-0.0312zM0.5000 0.3438h0.0312v0.0312h-0.0312zM0.5312 0.3438h0.0312v0.0312h-0.0312zM0.5938 0.3438h0.0312v0.0312h-0.0312zM0.7188 0.3438h0.0312v0.0312h-0.0312zM0.7500 0.3438h0.0312v0.0312h-0.0312zM0.8438 0.3438h0.0312v0.0312h-0.0312zM0.5625 0.3750h0.0312v0.0312h-0.0312zM0.5625 0.4062h0.0312v0.0312h-0.0312zM0.5938 0.4062h0.0312v0.0312h-0.0312zM0.6562 0.4062h0.0312v0.0312h-0.0312zM0.9062 0.4062h0.0312v0.0312h-0.0312zM0.9375 0.4062h0.0312v0.0312h-0.0312zM0.0625 0.4375h0.0312v0.0312h-0.0312zM0.1875 0.4375h0.0312v0.0312h-0.0312zM0.2812 0.4375h0.0312v0.0312h-0.0312zM0.5000 0.4375h0.0312v0.0312h-0.0312zM0.7812 0.4375h0.0312v0.0312h-0.0312zM0.3750 0.4688h0.0312v0.0312h-0.0312zM0.8125 0.4688h0.0312v0.0312h-0.0312zM0.0625 0.5000h0.0312v0.0312h-0.0312zM0.3125 0.5000h0.0312v0.0312h-0.0312zM0.5938 0.5000h0.0312v0.0312h-0.0312zM0.6250 0.5000h0.0312v0.0312h-0.0312zM0.3438 0.5312h0.0312v0.0312h-0.0312zM0.4375 0.5312h0.0312v0.0312h-0.0312zM0.6562 0.5312h0.0312v0.0312h-0.0312zM0.3125 0.5625h0.0312v0.0312h-0.0312zM0.4062 0.5625h0.0312v0.0312h-0.0312zM0.5000 0.5625h0.0312v0.0312h-0.0312zM0.5625 0.5625h0.0312v0.0312h-0.0312zM0.6250 0.5625h0.0312v0.0312h-0.0312zM0.6562 0.5625h0.0312v0.0312h-0.0312zM0.8125 0.5625h0.0312v0.0312h-0.0312zM0.8438 0.5625h0.0312v0.0312h-0.0312zM0.2500 0.5938h0.0312v0.0312h-0.0312zM0.4062 0.5938h0.0312v0.0312h-0.0312zM0.9062 0.5938h0.0312v0.0312h-0.0312zM0.3438 0.6250h0.0312v0.0312h-0.0312zM0.4375 0.6250h0.0312v0.0312h-0.0312zM0.5625 0.6250h0.0312v0.0312h-0.0312zM0.6562 0.6250h0.0312v0.0312h-0.0312zM0.0625 0.6562h0.0312v0.0312h-0.0312zM0.4375 0.6562h0.0312v0.0312h-0.0312zM0.8125 0.6562h0.0312v0.0312h-0.0312zM0.8750 0.6562h0.0312v0.0312h-0.0312zM0.2812 0.6875h0.0312v0.0312h-0.0312zM0.5625 0.6875h0.0312v0.0312h-0.0312zM0.6562 0.6875h0.0312v0.0312h-0.0312zM0.0312 0.7188h0.0312v0.0312h-0.0312zM0.1875 0.7188h0.0312v0.0312h-0.0312zM0.3125 0.7188h0.0312v0.0312h-0.0312zM0.5312 0.7188h0.0312v0.0312h-0.0312zM0.8125 0.7188h0.0312v0.0312h-0.0312zM0.8750 0.7188h0.0312v0.0312h-0.0312zM0.0938 0.7500h0.0312v0.0312h-0.0312zM0.1562 0.7500h0.0312v0.0312h-0.0312zM0.2188 0.7500h0.0312v0.0312h-0.0312zM0.5938 0.7500h0.0312v0.0312h-0.0312zM0.7500 0.7500h0.0312v0.0312h-0.0312zM0.4062 0.7812h0.0312v0.0312h-0.0312zM0.0625 0.8125h0.0312v0.0312h-0.0312zM0.1562 0.8125h0.0312v0.0312h-0.0312zM0.4688 0.8125h0.0312v0.0312h-0.0312zM0.5625 0.8125h0.0312v0.0312h-0.0312zM0.7500 0.8125h0.0312v0.0312h-0.0312zM0.7812 0.8125h0.0312v0.0312h-0.0312zM0.0938 0.8438h0.0312v0.0312h-0.0312zM0.3125 0.8438h0.0312v0.0312h-0.0312zM0.8750 0.8438h0.0312v0.0312h-0.0312zM0.9062 0.8438h0.0312v0.0312h-0.0312zM0.1562 0.8750h0.0312v0.0312h-0.0312zM0.3438 0.8750h0.0312v0.0312h-0.0312zM0.0625 0.9062h0.0312v0.0312h-0.0312zM0.0938 0.9062h0.0312v0.0312h-0.0312zM0.2812 0.9062h0.0312v0.0312h-0.0312zM0.3125 0.9062h0.0312v0.0312h-0.0312zM0.3750 0.9062h0.0312v0.0312h-0.0312zM0.4062 0.9062h0.0312v0.0312h-0.0312zM0.8750 0.9062h0.0312v0.0312h-0.0312zM0.9375 0.9062h0.0312v0.0312h-0.0312zM0.0625 0.9375h0.0312v0.0312h-0.0312zM0.1250 0.9375h0.0312v0.0312h-0.0312zM0.5625 0.9375h0.0312v0.0312h-0.0312zM0.5938 0.9375h0.0312v0.0312h-0.0312zM0.8438 0.9375h0.0312v0.0312h-0.0312z" fill="#66ad83"/><path d="M0.2500 0.0312h0.0312v0.0312h-0.0312zM0.8438 0.0312h0.0312v0.0312h-0.0312zM0.8438 0.0625h0.0312v0.0312h-0.0312zM0.4688 0.0938h0.0312v0.0312h-0.0312zM0.5000 0.0938h0.0312v0.0312h-0.0312zM0.2188 0.1250h0.0312v0.0312h-0.0312zM0.4062 0.1250h0.0312v0.0312h-0.0312zM0.4688 0.1875h0.0312v0.0312h-0.0312zM0.7500 0.1875h0.0312v0.0312h-0.0312zM0.1562 0.2188h0.0312v0.0312h-0.0312zM0.4375 0.2188h0.0312v0.0312h-0.0312zM0.5000 0.2188h0.0312v0.0312h-0.0312zM0.0312 0.2500h0.0312v0.0312h-0.0312zM0.2500 0.2500h0.0312v0.0312h-0.0312zM0.3438 0.2500h0.0312v0.0312h-0.0312zM0.4688 0.2500h0.0312v0.0312h-0.0312zM0.5000 0.2500h0.0312v0.0312h-0.0312zM0.8125 0.2500h0.0312v0.0312h-0.0312zM0.0312 0.2812h0.0312v0.0312h-0.0312zM0.7188 0.2812h0.0312v0.0312h-0.0312zM0.9062 0.2812h0.0312v0.0312h-0.0312zM0.7188 0.3125h0.0312v0.0312h-0.0312zM0.3750 0.3438h0.0312v0.0312h-0.0312zM0.9062 0.3438h0.0312v0.0312h-0.0312zM0.1250 0.3750h0.0312v0.0312h-0.0312zM0.2812 0.3750h0.0312v0.0312h-0.0312zM0.7812 0.3750h0.0312v0.0312h-0.0312zM0.8750 0.3750h0.0312v0.0312h-0.0312zM0.2812 0.4062h0.0312v0.0312h-0.0312zM0.4375 0.4062h0.0312v0.0312h-0.0312zM0.6875 0.4062h0.0312v0.0312h-0.0312zM0.8125 0.4062h0.0312v0.0312h-0.0312zM0.8438 0.4062h0.0312v0.0312h-0.0312zM0.8750 0.4062h0.0312v0.0312h-0.0312zM0.5312 0.4375h0.0312v0.0312h-0.0312zM0.7188 0.4375h0.0312v0.0312h-0.0312zM0.1875 0.4688h0.0312v0.0312h-0.0312zM0.2188 0.4688h0.0312v0.0312h-0.0312zM0.3438 0.4688h0.0312v0.0312h-0.0312zM0.4375 0.4688h0.0312v0.0312h-0.0312zM0.5000 0.4688h0.0312v0.0312h-0.0312zM0.5312 0.4688h0.0312v0.0312h-0.0312zM0.5938 0.4688h0.0312v0.0312h-0.0312zM0.6250 0.4688h0.0312v0.0312h-0.0312zM0.1875 0.5000h0.0312v0.0312h-0.0312zM0.4688 0.5000h0.0312v0.0312h-0.0312zM0.5312 0.5000h0.0312v0.0312h-0.0312zM0.4062 0.5312h0.0312v0.0312h-0.0312zM0.5625 0.5312h0.0312v0.0312h-0.0312zM0.2812 0.5625h0.0312v0.0312h-0.0312zM0.3750 0.5625h0.0312v0.0312h-0.0312zM0.8750 0.5625h0.0312v0.0312h-0.0312zM0.9375 0.5625h0.0312v0.0312h-0.0312zM0.0938 0.5938h0.0312v0.0312h-0.0312zM0.4375 0.5938h0.0312v0.0312h-0.0312zM0.4688 0.5938h0.0312v0.0312h-0.0312zM0.5000 0.5938h0.0312v0.0312h-0.0312zM0.8125 0.5938h0.0312v0.0312h-0.0312zM0.3750 0.6250h0.0312v0.0312h-0.0312zM0.4062 0.6562h0.0312v0.0312h-0.0312zM0.6875 0.6562h0.0312v0.0312h-0.0312zM0.4688 0.7188h0.0312v0.0312h-0.0312zM0.6250 0.7188h0.0312v0.0312h-0.0312zM0.7500 0.7188h0.0312v0.0312h-0.0312zM0.9375 0.7188h0.0312v0.0312h-0.0312zM0.2812 0.7500h0.0312v0.0312h-0.0312zM0.7188 0.7500h0.0312v0.0312h-0.0312zM0.7812 0.7500h0.0312v0.0312h-0.0312zM0.8125 0.7500h0.0312v0.0312h-0.0312zM0.3438 0.7812h0.0312v0.0312h-0.0312zM0.4688 0.7812h0.0312v0.0312h-0.0312zM0.5312 0.7812h0.0312v0.0312h-0.0312zM0.2188 0.8125h0.0312v0.0312h-0.0312zM0.2500 0.8125h0.0312v0.0312h-0.0312zM0.3438 0.8125h0.0312v0.0312h-0.0312zM0.8750 0.8125h0.0312v0.0312h-0.0312zM0.5938 0.8438h0.0312v0.0312h-0.0312zM0.6875 0.8438h0.0312v0.0312h-0.0312zM0.1250 0.8750h0.0312v0.0312h-0.0312zM0.2812 0.8750h0.0312v0.0312h-0.0312zM0.5312 0.8750h0.0312v0.0312h-0.0312zM0.9062 0.8750h0.0312v0.0312h-0.0312zM0.2500 0.9062h0.0312v0.0312h-0.0312zM0.4688 0.9062h0.0312v0.0312h-0.0312zM0.2188 0.9375h0.0312v0.0312h-0.0312z" fill="#6fb67d"/><path d="M0.4062 0.0312h0.0312v0.0312h-0.0312zM0.0938 0.0938h0.0312v0.0312h-0.0312zM0.4375 0.0938h0.0312v0.0312h-0.0312zM0.9375 0.0938h0.0312v0.0312h-0.0312zM0.3125 0.1250h0.0312v0.0312h-0.0312zM0.5938 0.1250h0.0312v0.0312h-0.0312zM0.1250 0.1562h0.0312v0.0312h-0.0312zM0.3125 0.1562h0.0312v0.0312h-0.0312zM0.8750 0.1562h0.0312v0.0312h-0.0312zM0.9062 0.1562h0.0312v0.0312h-0.0312zM0.2812 0.1875h0.0312v0.0312h-0.0312zM0.7812 0.1875h0.0312v0.0312h-0.0312zM0.5312 0.2188h0.0312v0.0312h-0.0312zM0.8750 0.2188h0.0312v0.0312h-0.0312zM0.1875 0.2500h0.0312v0.0312h-0.0312zM0.5312 0.2500h0.0312v0.0312h-0.0312zM0.9375 0.2500h0.0312v0.0312h-0.0312zM0.3125 0.3125h0.0312v0.0312h-0.0312zM0.4688 0.3125h0.0312v0.0312h-0.0312zM0.5000 0.3125h0.0312v0.0312h-0.0312zM0.6250 0.3125h0.0312v0.0312h-0.0312zM0.6562 0.3125h0.0312v0.0312h-0.0312zM0.3438 0.3438h0.0312v0.0312h-0.0312zM0.1875 0.3750h0.0312v0.0312h-0.0312zM0.3750 0.3750h0.0312v0.0312h-0.0312zM0.4688 0.3750h0.0312v0.0312h-0.0312zM0.2500 0.4062h0.0312v0.0312h-0.0312zM0.3125 0.4062h0.0312v0.0312h-0.0312zM0.3438 0.4062h0.0312v0.0312h-0.0312zM0.4688 0.4062h0.0312v0.0312h-0.0312zM0.5312 0.4062h0.0312v0.0312h-0.0312zM0.4688 0.4375h0.0312v0.0312h-0.0312zM0.5938 0.4375h0.0312v0.0312h-0.0312zM0.8750 0.4375h0.0312v0.0312h-0.0312zM0.5625 0.4688h0.0312v0.0312h-0.0312zM0.8438 0.4688h0.0312v0.0312h-0.0312zM0.4062 0.5000h0.0312v0.0312h-0.0312zM0.5625 0.5000h0.0312v0.0312h-0.0312zM0.9062 0.5312h0.0312v0.0312h-0.0312zM0.2500 0.5625h0.0312v0.0312h-0.0312zM0.5000 0.6250h0.0312v0.0312h-0.0312zM0.8438 0.6250h0.0312v0.0312h-0.0312zM0.8750 0.6250h0.0312v0.0312h-0.0312zM0.5000 0.6562h0.0312v0.0312h-0.0312zM0.6562 0.6562h0.0312v0.0312h-0.0312zM0.4375 0.6875h0.0312v0.0312h-0.0312zM0.6250 0.6875h0.0312v0.0312h-0.0312zM0.9375 0.6875h0.0312v0.0312h-0.0312zM0.2500 0.7188h0.0312v0.0312h-0.0312zM0.1875 0.7500h0.0312v0.0312h-0.0312zM0.4062 0.7500h0.0312v0.0312h-0.0312zM0.9375 0.7500h0.0312v0.0312h-0.0312zM0.1562 0.7812h0.0312v0.0312h-0.0312zM0.5938 0.7812h0.0312v0.0312h-0.0312zM0.6250 0.8125h0.0312v0.0312h-0.0312zM0.8125 0.8125h0.0312v0.0312h-0.0312zM0.1875 0.8750h0.0312v0.0312h-0.0312zM0.9375 0.8750h0.0312v0.0312h-0.0312z" fill="#79be74"/><path d="M0.5938 0.0625h0.0312v0.0312h-0.0312zM0.6562 0.0938h0.0312v0.0312h-0.0312zM0.7500 0.0938h0.0312v0.0312h-0.0312zM0.1875 0.1562h0.0312v0.0312h-0.0312zM0.2188 0.2188h0.0312v0.0312h-0.0312zM0.4688 0.2188h0.0312v0.0312h-0.0312zM0.3125 0.2812h0.0312v0.0312h-0.0312zM0.4062 0.3125h0.0312v0.0312h-0.0312zM0.0625 0.3438h0.0312v0.0312h-0.0312zM0.6875 0.3438h0.0312v0.0312h-0.0312zM0.4062 0.3750h0.0312v0.0312h-0.0312zM0.5312 0.3750h0.0312v0.0312h-0.0312zM0.3125 0.4375h0.0312v0.0312h-0.0312zM0.4062 0.4375h0.0312v0.0312h-0.0312zM0.6562 0.5000h0.0312v0.0312h-0.0312zM0.9062 0.5000h0.0312v0.0312h-0.0312zM0.2188 0.5312h0.0312v0.0312h-0.0312zM0.5000 0.5312h0.0312v0.0312h-0.0312zM0.5312 0.5312h0.0312v0.0312h-0.0312zM0.5312 0.5938h0.0312v0.0312h-0.0312zM0.6250 0.5938h0.0312v0.0312h-0.0312zM0.7812 0.5938h0.0312v0.0312h-0.0312zM0.1562 0.6250h0.0312v0.0312h-0.0312zM0.5938 0.6875h0.0312v0.0312h-0.0312zM0.0625 0.8438h0.0312v0.0312h-0.0312zM0.2188 0.8750h0.0312v0.0312h-0.0312z" fill="#83c76c"/><path d="M0.9062 0.0938h0.0312v0.0312h-0.0312zM0.8125 0.1250h0.0312v0.0312h-0.0312zM0.0312 0.1562h0.0312v0.0312h-0.0312zM0.1562 0.1875h0.0312v0.0312h-0.0312zM0.2500 0.3438h0.0312v0.0312h-0.0312zM0.1562 0.4062h0.0312v0.0312h-0.0312zM0.5000 0.4062h0.0312v0.0312h-0.0312zM0.0312 0.5000h0.0312v0.0312h-0.0312zM0.4375 0.5000h0.0312v0.0312h-0.0312zM0.0625 0.5312h0.0312v0.0312h-0.0312zM0.5312 0.5625h0.0312v0.0312h-0.0312zM0.5938 0.5625h0.0312v0.0312h-0.0312zM0.7812 0.5625h0.0312v0.0312h-0.0312zM0.3750 0.5938h0.0312v0.0312h-0.0312zM0.5625 0.5938h0.0312v0.0312h-0.0312zM0.3438 0.6562h0.0312v0.0312h-0.0312zM0.4062 0.7188h0.0312v0.0312h-0.0312zM0.6562 0.7188h0.0312v0.0312h-0.0312zM0.1250 0.8125h0.0312v0.0312h-0.0312zM0.2812 0.8438h0.0312v0.0312h-0.0312z" fill="#97cf5f"/><path d="M0.5312 0.0312h0.0312v0.0312h-0.0312zM0.0938 0.3438h0.0312v0.0312h-0.0312zM0.5000 0.3750h0.0312v0.0312h-0.0312zM0.6875 0.4375h0.0312v0.0312h-0.0312zM0.7188 0.5938h0.0312v0.0312h-0.0312zM0.7188 0.6250h0.0312v0.0312h-0.0312z" fill="#aed751"/><path d="M0.2188 0.0625h0.0312v0.0312h-0.0312zM0.6875 0.5312h0.0312v0.0312h-0.0312zM0.4375 0.5625h0.0312v0.0312h-0.0312zM0.3125 0.6562h0.0312v0.0312h-0.0312zM0.5000 0.8438h0.0312v0.0312h-0.0312zM0.6562 0.9062h0.0312v0.0312h-0.0312z" fill="#cede49"/><path d="M0.4375 0.1875h0.0312v0.0312h-0.0312zM0.7500 0.4375h0.0312v0.0312h-0.0312z" fill="#f0e442"/></svg><rect x="2067.5" y="723" width="10.00" height="182.00" fill="url(#cm_mut)" stroke="#555" stroke-width="0.9"/><path d="M2075.3 905.0h2.2M2075.3 893.6h2.2M2075.3 882.2h2.2M2075.3 870.9h2.2M2075.3 859.5h2.2M2075.3 848.1h2.2M2075.3 836.8h2.2M2075.3 825.4h2.2M2075.3 814.0h2.2M2075.3 802.6h2.2M2075.3 791.2h2.2M2075.3 779.9h2.2M2075.3 768.5h2.2M2075.3 757.1h2.2M2075.3 745.8h2.2M2075.3 734.4h2.2M2075.3 723.0h2.2" stroke="#333" stroke-width="0.7"/><path d="M2074.0 902.7h3.5M2074.0 858.4h3.5M2074.0 814.0h3.5M2074.0 769.6h3.5M2074.0 725.3h3.5" stroke="#222" stroke-width="0.9"/><g font-family="'Liberation Serif',serif" font-size="13.7" fill="#333"><text x="2082.5" y="907.2">−4</text><text x="2082.5" y="862.9">−2</text><text x="2082.5" y="818.5">0</text><text x="2082.5" y="774.1">2</text><text x="2082.5" y="729.8">4</text></g><svg x="1524.5" y="981" width="148" height="148" viewBox="0 0 1 1" preserveAspectRatio="none"><rect width="1" height="1" fill="#000"/><linearGradient id="cpg" x1="0" y1="0" x2="1" y2="0"><stop offset="0" stop-color="#b8835a"/><stop offset="0.6" stop-color="#eeac76"/><stop offset="1" stop-color="#f7b67c"/></linearGradient><rect x="0.225" y="0.200" width="0.405" height="0.565" fill="url(#cpg)" filter="url(#b2)"/></svg><rect x="1682.5" y="981" width="7.50" height="148.00" fill="url(#cm_copper)" stroke="#555" stroke-width="0.9"/><path d="M1687.8 1129.0h2.2M1687.8 1121.6h2.2M1687.8 1114.2h2.2M1687.8 1106.8h2.2M1687.8 1099.4h2.2M1687.8 1092.0h2.2M1687.8 1084.6h2.2M1687.8 1077.2h2.2M1687.8 1069.8h2.2M1687.8 1062.4h2.2M1687.8 1055.0h2.2M1687.8 1047.6h2.2M1687.8 1040.2h2.2M1687.8 1032.8h2.2M1687.8 1025.4h2.2M1687.8 1018.0h2.2M1687.8 1010.6h2.2M1687.8 1003.2h2.2M1687.8 995.8h2.2M1687.8 988.4h2.2M1687.8 981.0h2.2" stroke="#333" stroke-width="0.7"/><path d="M1686.5 1129.0h3.5M1686.5 1092.0h3.5M1686.5 1055.0h3.5M1686.5 1018.0h3.5M1686.5 981.0h3.5" stroke="#222" stroke-width="0.9"/><g font-family="'Liberation Serif',serif" font-size="12" fill="#555"><text x="1694" y="1133.0">0</text><text x="1694" y="1096.0">1</text><text x="1694" y="1059.0">2</text><text x="1694" y="1022.0">3</text><text x="1694" y="985.0">4</text></g><svg x="1721" y="981" width="148.5" height="148" viewBox="0 0 1 1" preserveAspectRatio="none"><linearGradient id="hg1" x1="0" y1="0" x2="1" y2="0"><stop offset="0" stop-color="#f87010"/><stop offset="0.4" stop-color="#ffd020"/><stop offset="1" stop-color="#ffff70"/></linearGradient><linearGradient id="hg2" x1="0" y1="0" x2="1" y2="0"><stop offset="0" stop-color="#f87810"/><stop offset="0.4" stop-color="#ffe030"/><stop offset="1" stop-color="#ffffb0"/></linearGradient><linearGradient id="hg3" x1="0" y1="0" x2="1" y2="0"><stop offset="0" stop-color="#e82800"/><stop offset="0.6" stop-color="#f86010"/><stop offset="1" stop-color="#ffffd0"/></linearGradient><linearGradient id="bg1" x1="0" y1="0" x2="1" y2="0"><stop offset="0" stop-color="#3f74ba"/><stop offset="1" stop-color="#62b0d2"/></linearGradient><rect width="1" height="1" fill="#0d0000"/><g filter="url(#b1)"><rect x="0.648" y="0.305" width="0.060" height="0.357" fill="#3a0000" /><rect x="0.175" y="0.175" width="0.503" height="0.617" fill="#7a0400" /><rect x="0.205" y="0.205" width="0.443" height="0.557" fill="#cc1000" /><rect x="0.205" y="0.205" width="0.046" height="0.557" fill="#f06810" /><rect x="0.602" y="0.205" width="0.046" height="0.557" fill="#ffffe0" /><rect x="0.233" y="0.205" width="0.388" height="0.046" fill="url(#hg1)" /><rect x="0.233" y="0.716" width="0.388" height="0.046" fill="url(#hg2)" /><rect x="0.285" y="0.285" width="0.283" height="0.397" fill="#2a0000" /></g></svg><rect x="1879" y="981" width="7.50" height="148.00" fill="url(#cm_hot)" stroke="#555" stroke-width="0.9"/><path d="M1884.3 1129.0h2.2M1884.3 1121.6h2.2M1884.3 1114.2h2.2M1884.3 1106.8h2.2M1884.3 1099.4h2.2M1884.3 1092.0h2.2M1884.3 1084.6h2.2M1884.3 1077.2h2.2M1884.3 1069.8h2.2M1884.3 1062.4h2.2M1884.3 1055.0h2.2M1884.3 1047.6h2.2M1884.3 1040.2h2.2M1884.3 1032.8h2.2M1884.3 1025.4h2.2M1884.3 1018.0h2.2M1884.3 1010.6h2.2M1884.3 1003.2h2.2M1884.3 995.8h2.2M1884.3 988.4h2.2M1884.3 981.0h2.2" stroke="#333" stroke-width="0.7"/><path d="M1883.0 1129.0h3.5M1883.0 1092.0h3.5M1883.0 1055.0h3.5M1883.0 1018.0h3.5M1883.0 981.0h3.5" stroke="#222" stroke-width="0.9"/><g font-family="'Liberation Serif',serif" font-size="12" fill="#555"><text x="1891" y="1133.0">0.0</text><text x="1891" y="1096.0">0.5</text><text x="1891" y="1059.0">1.0</text><text x="1891" y="1022.0">1.5</text><text x="1891" y="985.0">2.0</text></g><svg x="1924.5" y="981" width="148" height="148" viewBox="0 0 1 1" preserveAspectRatio="none"><rect width="1" height="1" fill="#17265c"/><g filter="url(#b1)"><rect x="0.650" y="0.300" width="0.060" height="0.365" fill="#203684" /><rect x="0.165" y="0.170" width="0.515" height="0.625" fill="#22388a" /><rect x="0.195" y="0.200" width="0.455" height="0.565" fill="#2a46a0" /><rect x="0.195" y="0.200" width="0.046" height="0.565" fill="#3f74ba" /><rect x="0.604" y="0.200" width="0.046" height="0.565" fill="#6cbad6" /><rect x="0.223" y="0.200" width="0.400" height="0.046" fill="#4a88c4" /><rect x="0.223" y="0.719" width="0.400" height="0.046" fill="url(#bg1)" /><rect x="0.275" y="0.280" width="0.295" height="0.405" fill="#1b2968" /></g></svg><rect x="2082" y="981" width="7.50" height="148.00" fill="url(#cm_ylgnbu)" stroke="#555" stroke-width="0.9"/><path d="M2087.3 1129.0h2.2M2087.3 1121.6h2.2M2087.3 1114.2h2.2M2087.3 1106.8h2.2M2087.3 1099.4h2.2M2087.3 1092.0h2.2M2087.3 1084.6h2.2M2087.3 1077.2h2.2M2087.3 1069.8h2.2M2087.3 1062.4h2.2M2087.3 1055.0h2.2M2087.3 1047.6h2.2M2087.3 1040.2h2.2M2087.3 1032.8h2.2M2087.3 1025.4h2.2M2087.3 1018.0h2.2M2087.3 1010.6h2.2M2087.3 1003.2h2.2M2087.3 995.8h2.2M2087.3 988.4h2.2M2087.3 981.0h2.2" stroke="#333" stroke-width="0.7"/><path d="M2086.0 1129.0h3.5M2086.0 1092.0h3.5M2086.0 1055.0h3.5M2086.0 1018.0h3.5M2086.0 981.0h3.5" stroke="#222" stroke-width="0.9"/><g font-family="'Liberation Serif',serif" font-size="12" fill="#555"><text x="2094" y="1133.0">0</text><text x="2094" y="1096.0">1</text><text x="2094" y="1059.0">2</text><text x="2094" y="1022.0">3</text><text x="2094" y="985.0">4</text></g><svg x="1524.5" y="1148" width="148" height="147.5" viewBox="0 0 1 1" preserveAspectRatio="none"><rect width="1" height="1" fill="#000"/><linearGradient id="cpg" x1="0" y1="0" x2="1" y2="0"><stop offset="0" stop-color="#b8835a"/><stop offset="0.6" stop-color="#eeac76"/><stop offset="1" stop-color="#f7b67c"/></linearGradient><rect x="0.190" y="0.205" width="0.475" height="0.550" fill="url(#cpg)" filter="url(#b3)"/></svg><rect x="1682.5" y="1148" width="7.50" height="147.50" fill="url(#cm_copper)" stroke="#555" stroke-width="0.9"/><path d="M1687.8 1295.5h2.2M1687.8 1288.1h2.2M1687.8 1280.8h2.2M1687.8 1273.4h2.2M1687.8 1266.0h2.2M1687.8 1258.6h2.2M1687.8 1251.2h2.2M1687.8 1243.9h2.2M1687.8 1236.5h2.2M1687.8 1229.1h2.2M1687.8 1221.8h2.2M1687.8 1214.4h2.2M1687.8 1207.0h2.2M1687.8 1199.6h2.2M1687.8 1192.2h2.2M1687.8 1184.9h2.2M1687.8 1177.5h2.2M1687.8 1170.1h2.2M1687.8 1162.8h2.2M1687.8 1155.4h2.2M1687.8 1148.0h2.2" stroke="#333" stroke-width="0.7"/><path d="M1686.5 1295.5h3.5M1686.5 1258.6h3.5M1686.5 1221.8h3.5M1686.5 1184.9h3.5M1686.5 1148.0h3.5" stroke="#222" stroke-width="0.9"/><g font-family="'Liberation Serif',serif" font-size="12" fill="#555"><text x="1694" y="1299.5">0</text><text x="1694" y="1262.6">1</text><text x="1694" y="1225.7">2</text><text x="1694" y="1188.8">3</text><text x="1694" y="1152.0">4</text></g><svg x="1721" y="1148" width="148.5" height="147.5" viewBox="0 0 1 1" preserveAspectRatio="none"><rect width="1" height="1" fill="#0d0000"/><g filter="url(#b1)"><rect x="0.655" y="0.315" width="0.060" height="0.360" fill="#f06010" /><rect x="0.155" y="0.185" width="0.530" height="0.620" fill="#8a0800" /><rect x="0.185" y="0.215" width="0.470" height="0.560" fill="#d81400" /><rect x="0.185" y="0.215" width="0.046" height="0.560" fill="#f87010" /><rect x="0.609" y="0.215" width="0.046" height="0.560" fill="#fff070" /><rect x="0.213" y="0.215" width="0.415" height="0.046" fill="url(#hg1)" /><rect x="0.213" y="0.729" width="0.415" height="0.046" fill="url(#hg2)" /><rect x="0.265" y="0.295" width="0.310" height="0.400" fill="#2a0000" /></g></svg><rect x="1879" y="1148" width="7.50" height="147.50" fill="url(#cm_hot)" stroke="#555" stroke-width="0.9"/><path d="M1884.3 1295.5h2.2M1884.3 1288.1h2.2M1884.3 1280.8h2.2M1884.3 1273.4h2.2M1884.3 1266.0h2.2M1884.3 1258.6h2.2M1884.3 1251.2h2.2M1884.3 1243.9h2.2M1884.3 1236.5h2.2M1884.3 1229.1h2.2M1884.3 1221.8h2.2M1884.3 1214.4h2.2M1884.3 1207.0h2.2M1884.3 1199.6h2.2M1884.3 1192.2h2.2M1884.3 1184.9h2.2M1884.3 1177.5h2.2M1884.3 1170.1h2.2M1884.3 1162.8h2.2M1884.3 1155.4h2.2M1884.3 1148.0h2.2" stroke="#333" stroke-width="0.7"/><path d="M1883.0 1295.5h3.5M1883.0 1258.6h3.5M1883.0 1221.8h3.5M1883.0 1184.9h3.5M1883.0 1148.0h3.5" stroke="#222" stroke-width="0.9"/><g font-family="'Liberation Serif',serif" font-size="12" fill="#555"><text x="1891" y="1299.5">0.0</text><text x="1891" y="1262.6">0.5</text><text x="1891" y="1225.7">1.0</text><text x="1891" y="1188.8">1.5</text><text x="1891" y="1152.0">2.0</text></g><svg x="1924.5" y="1148" width="148" height="147.5" viewBox="0 0 1 1" preserveAspectRatio="none"><rect width="1" height="1" fill="#17265c"/><g filter="url(#b1)"><rect x="0.660" y="0.315" width="0.060" height="0.360" fill="#3a6cb6" /><rect x="0.145" y="0.185" width="0.545" height="0.620" fill="#253e90" /><rect x="0.175" y="0.215" width="0.485" height="0.560" fill="#2a46a0" /><rect x="0.175" y="0.215" width="0.046" height="0.560" fill="#4580c0" /><rect x="0.614" y="0.215" width="0.046" height="0.560" fill="#6cbad6" /><rect x="0.203" y="0.215" width="0.430" height="0.046" fill="#4c8cc6" /><rect x="0.203" y="0.729" width="0.430" height="0.046" fill="url(#bg1)" /><rect x="0.255" y="0.295" width="0.325" height="0.400" fill="#1b2968" /></g></svg><rect x="2082" y="1148" width="7.50" height="147.50" fill="url(#cm_ylgnbu)" stroke="#555" stroke-width="0.9"/><path d="M2087.3 1295.5h2.2M2087.3 1288.1h2.2M2087.3 1280.8h2.2M2087.3 1273.4h2.2M2087.3 1266.0h2.2M2087.3 1258.6h2.2M2087.3 1251.2h2.2M2087.3 1243.9h2.2M2087.3 1236.5h2.2M2087.3 1229.1h2.2M2087.3 1221.8h2.2M2087.3 1214.4h2.2M2087.3 1207.0h2.2M2087.3 1199.6h2.2M2087.3 1192.2h2.2M2087.3 1184.9h2.2M2087.3 1177.5h2.2M2087.3 1170.1h2.2M2087.3 1162.8h2.2M2087.3 1155.4h2.2M2087.3 1148.0h2.2" stroke="#333" stroke-width="0.7"/><path d="M2086.0 1295.5h3.5M2086.0 1258.6h3.5M2086.0 1221.8h3.5M2086.0 1184.9h3.5M2086.0 1148.0h3.5" stroke="#222" stroke-width="0.9"/><g font-family="'Liberation Serif',serif" font-size="12" fill="#555"><text x="2094" y="1299.5">0</text><text x="2094" y="1262.6">1</text><text x="2094" y="1225.7">2</text><text x="2094" y="1188.8">3</text><text x="2094" y="1152.0">4</text></g><svg x="1524.5" y="1312.5" width="148" height="147.5" viewBox="0 0 1 1" preserveAspectRatio="none"><rect width="1" height="1" fill="#000"/><linearGradient id="cpg" x1="0" y1="0" x2="1" y2="0"><stop offset="0" stop-color="#b8835a"/><stop offset="0.6" stop-color="#eeac76"/><stop offset="1" stop-color="#f7b67c"/></linearGradient><rect x="0.210" y="0.200" width="0.405" height="0.520" fill="url(#cpg)" filter="url(#b2)"/></svg><rect x="1682.5" y="1312.5" width="7.50" height="147.50" fill="url(#cm_copper)" stroke="#555" stroke-width="0.9"/><path d="M1687.8 1460.0h2.2M1687.8 1452.6h2.2M1687.8 1445.2h2.2M1687.8 1437.9h2.2M1687.8 1430.5h2.2M1687.8 1423.1h2.2M1687.8 1415.8h2.2M1687.8 1408.4h2.2M1687.8 1401.0h2.2M1687.8 1393.6h2.2M1687.8 1386.2h2.2M1687.8 1378.9h2.2M1687.8 1371.5h2.2M1687.8 1364.1h2.2M1687.8 1356.8h2.2M1687.8 1349.4h2.2M1687.8 1342.0h2.2M1687.8 1334.6h2.2M1687.8 1327.2h2.2M1687.8 1319.9h2.2M1687.8 1312.5h2.2" stroke="#333" stroke-width="0.7"/><path d="M1686.5 1460.0h3.5M1686.5 1423.1h3.5M1686.5 1386.2h3.5M1686.5 1349.4h3.5M1686.5 1312.5h3.5" stroke="#222" stroke-width="0.9"/><g font-family="'Liberation Serif',serif" font-size="12" fill="#555"><text x="1694" y="1464.0">0</text><text x="1694" y="1427.1">1</text><text x="1694" y="1390.2">2</text><text x="1694" y="1353.3">3</text><text x="1694" y="1316.5">4</text></g><svg x="1721" y="1312.5" width="148.5" height="147.5" viewBox="0 0 1 1" preserveAspectRatio="none"><rect width="1" height="1" fill="#0d0000"/><g filter="url(#b1)"><rect x="0.155" y="0.145" width="0.523" height="0.635" fill="#5a0200" /><rect x="0.185" y="0.175" width="0.463" height="0.575" fill="#b80c00" /><rect x="0.185" y="0.175" width="0.036" height="0.575" fill="#f04808" /><rect x="0.612" y="0.175" width="0.036" height="0.575" fill="#ffe040" /><rect x="0.207" y="0.175" width="0.420" height="0.036" fill="url(#hg3)" /><rect x="0.207" y="0.714" width="0.420" height="0.036" fill="url(#hg2)" /><rect x="0.251" y="0.241" width="0.331" height="0.443" fill="#2a0000" /></g></svg><rect x="1879" y="1312.5" width="7.50" height="147.50" fill="url(#cm_hot)" stroke="#555" stroke-width="0.9"/><path d="M1884.3 1460.0h2.2M1884.3 1452.6h2.2M1884.3 1445.2h2.2M1884.3 1437.9h2.2M1884.3 1430.5h2.2M1884.3 1423.1h2.2M1884.3 1415.8h2.2M1884.3 1408.4h2.2M1884.3 1401.0h2.2M1884.3 1393.6h2.2M1884.3 1386.2h2.2M1884.3 1378.9h2.2M1884.3 1371.5h2.2M1884.3 1364.1h2.2M1884.3 1356.8h2.2M1884.3 1349.4h2.2M1884.3 1342.0h2.2M1884.3 1334.6h2.2M1884.3 1327.2h2.2M1884.3 1319.9h2.2M1884.3 1312.5h2.2" stroke="#333" stroke-width="0.7"/><path d="M1883.0 1460.0h3.5M1883.0 1423.1h3.5M1883.0 1386.2h3.5M1883.0 1349.4h3.5M1883.0 1312.5h3.5" stroke="#222" stroke-width="0.9"/><g font-family="'Liberation Serif',serif" font-size="12" fill="#555"><text x="1891" y="1464.0">0.0</text><text x="1891" y="1427.1">0.5</text><text x="1891" y="1390.2">1.0</text><text x="1891" y="1353.3">1.5</text><text x="1891" y="1316.5">2.0</text></g><svg x="1924.5" y="1312.5" width="148" height="147.5" viewBox="0 0 1 1" preserveAspectRatio="none"><rect width="1" height="1" fill="#17265c"/><g filter="url(#b1)"><rect x="0.155" y="0.145" width="0.523" height="0.635" fill="#1f3280" /><rect x="0.185" y="0.175" width="0.463" height="0.575" fill="#26409a" /><rect x="0.185" y="0.175" width="0.036" height="0.575" fill="#3868b4" /><rect x="0.612" y="0.175" width="0.036" height="0.575" fill="#5098ca" /><rect x="0.207" y="0.175" width="0.420" height="0.036" fill="#447cbe" /><rect x="0.207" y="0.714" width="0.420" height="0.036" fill="url(#bg1)" /><rect x="0.251" y="0.241" width="0.331" height="0.443" fill="#1b2968" /></g></svg><rect x="2082" y="1312.5" width="7.50" height="147.50" fill="url(#cm_ylgnbu)" stroke="#555" stroke-width="0.9"/><path d="M2087.3 1460.0h2.2M2087.3 1452.6h2.2M2087.3 1445.2h2.2M2087.3 1437.9h2.2M2087.3 1430.5h2.2M2087.3 1423.1h2.2M2087.3 1415.8h2.2M2087.3 1408.4h2.2M2087.3 1401.0h2.2M2087.3 1393.6h2.2M2087.3 1386.2h2.2M2087.3 1378.9h2.2M2087.3 1371.5h2.2M2087.3 1364.1h2.2M2087.3 1356.8h2.2M2087.3 1349.4h2.2M2087.3 1342.0h2.2M2087.3 1334.6h2.2M2087.3 1327.2h2.2M2087.3 1319.9h2.2M2087.3 1312.5h2.2" stroke="#333" stroke-width="0.7"/><path d="M2086.0 1460.0h3.5M2086.0 1423.1h3.5M2086.0 1386.2h3.5M2086.0 1349.4h3.5M2086.0 1312.5h3.5" stroke="#222" stroke-width="0.9"/><g font-family="'Liberation Serif',serif" font-size="12" fill="#555"><text x="2094" y="1464.0">0</text><text x="2094" y="1427.1">1</text><text x="2094" y="1390.2">2</text><text x="2094" y="1353.3">3</text><text x="2094" y="1316.5">4</text></g><svg x="1402.5" y="1861" width="169" height="169" viewBox="0 0 1 1" preserveAspectRatio="none"><rect width="1" height="1" fill="#29004a"/><g ><polygon points="0.000,0.388 0.150,0.375 0.340,0.340 0.410,0.310 0.520,0.285 0.700,0.280 0.720,0.295 1.000,0.295 1.000,1.000 0.000,1.000" fill="#2b0e52" /><polygon points="0.000,0.935 0.265,0.780 0.237,1.000 0.000,1.000" fill="#29004a" /><polygon points="0.360,0.490 0.420,0.520 0.500,0.555 0.600,0.580 0.750,0.605 0.985,0.605 1.000,0.595 1.000,0.825 0.700,0.825 0.600,0.810 0.480,0.780 0.400,0.750 0.345,0.720" fill="#2f3775" /><polygon points="0.000,0.484 0.360,0.484 0.345,0.520 0.345,0.720 0.265,0.780 0.000,0.935" fill="#344c79" /></g><polygon points="0.335,0.735 0.348,0.728 0.295,1.000 0.237,1.000 0.270,0.790" fill="#417679" /></svg><rect x="1581.5" y="1861" width="8.00" height="169.00" fill="url(#cm_viridis)" stroke="#555" stroke-width="0.9"/><path d="M1587.3 2030.0h2.2M1587.3 2021.5h2.2M1587.3 2013.1h2.2M1587.3 2004.7h2.2M1587.3 1996.2h2.2M1587.3 1987.8h2.2M1587.3 1979.3h2.2M1587.3 1970.8h2.2M1587.3 1962.4h2.2M1587.3 1954.0h2.2M1587.3 1945.5h2.2M1587.3 1937.0h2.2M1587.3 1928.6h2.2M1587.3 1920.2h2.2M1587.3 1911.7h2.2M1587.3 1903.2h2.2M1587.3 1894.8h2.2M1587.3 1886.3h2.2M1587.3 1877.9h2.2M1587.3 1869.5h2.2M1587.3 1861.0h2.2" stroke="#333" stroke-width="0.7"/><path d="M1586.0 2030.0h3.5M1586.0 1996.2h3.5M1586.0 1962.4h3.5M1586.0 1928.6h3.5M1586.0 1894.8h3.5M1586.0 1861.0h3.5" stroke="#222" stroke-width="0.9"/><g font-family="'Liberation Serif',serif" font-size="14" fill="#333"><text x="1595.5" y="2034.6">0.0</text><text x="1595.5" y="2000.8">0.2</text><text x="1595.5" y="1967.0">0.4</text><text x="1595.5" y="1933.2">0.6</text><text x="1595.5" y="1899.4">0.8</text><text x="1595.5" y="1865.6">1.0</text></g><svg x="1405" y="2051.5" width="168" height="167.5" viewBox="0 0 1 1" preserveAspectRatio="none"><rect width="1" height="1" fill="#3f0254"/><g ><polygon points="0.000,0.075 0.300,0.215 0.500,0.260 0.580,0.255 0.620,0.235 0.700,0.220 0.800,0.220 0.880,0.260 1.000,0.320 1.000,1.000 0.000,1.000" fill="#411163" /><polygon points="0.000,0.485 0.160,0.560 0.360,0.575 0.500,0.578 0.313,1.000 0.000,1.000" fill="#3f0254" /><polygon points="0.565,0.360 1.000,0.515 1.000,0.685 0.700,0.600 0.565,0.545" fill="#453a80" /><polygon points="0.000,0.125 0.565,0.375 0.565,0.575 0.360,0.575 0.160,0.560 0.000,0.485" fill="#46578c" /></g><polygon points="0.500,0.578 0.565,0.578 0.360,1.000 0.313,1.000" fill="#62ad85" /></svg><rect x="1583.5" y="2051.5" width="7.50" height="167.50" fill="url(#cm_viridis)" stroke="#555" stroke-width="0.9"/><path d="M1588.8 2219.0h2.2M1588.8 2210.6h2.2M1588.8 2202.2h2.2M1588.8 2193.9h2.2M1588.8 2185.5h2.2M1588.8 2177.1h2.2M1588.8 2168.8h2.2M1588.8 2160.4h2.2M1588.8 2152.0h2.2M1588.8 2143.6h2.2M1588.8 2135.2h2.2M1588.8 2126.9h2.2M1588.8 2118.5h2.2M1588.8 2110.1h2.2M1588.8 2101.8h2.2M1588.8 2093.4h2.2M1588.8 2085.0h2.2M1588.8 2076.6h2.2M1588.8 2068.2h2.2M1588.8 2059.9h2.2M1588.8 2051.5h2.2" stroke="#333" stroke-width="0.7"/><path d="M1587.5 2219.0h3.5M1587.5 2185.5h3.5M1587.5 2152.0h3.5M1587.5 2118.5h3.5M1587.5 2085.0h3.5M1587.5 2051.5h3.5" stroke="#222" stroke-width="0.9"/><g font-family="'Liberation Serif',serif" font-size="14" fill="#333"><text x="1597.5" y="2223.6">0.0</text><text x="1597.5" y="2190.1">0.2</text><text x="1597.5" y="2156.6">0.4</text><text x="1597.5" y="2123.1">0.6</text><text x="1597.5" y="2089.6">0.8</text><text x="1597.5" y="2056.1">1.0</text></g><svg x="1671" y="1862.5" width="168" height="167.5" viewBox="0 0 1 1" preserveAspectRatio="none"><rect width="1" height="1" fill="#b0ff82"/><radialGradient id="y1ac"><stop offset="0" stop-color="#7ef0d4" stop-opacity="0.62"/><stop offset="0.55" stop-color="#7ef0d4" stop-opacity="0.46"/><stop offset="1" stop-color="#7ef0d4" stop-opacity="0"/></radialGradient><radialGradient id="y1ab"><stop offset="0" stop-color="#68b2f2" stop-opacity="0.9"/><stop offset="0.55" stop-color="#68b2f2" stop-opacity="0.68"/><stop offset="1" stop-color="#68b2f2" stop-opacity="0"/></radialGradient><radialGradient id="y1ay"><stop offset="0" stop-color="#d8f448" stop-opacity="0.7"/><stop offset="0.55" stop-color="#d8f448" stop-opacity="0.52"/><stop offset="1" stop-color="#d8f448" stop-opacity="0"/></radialGradient><radialGradient id="y1ag"><stop offset="0" stop-color="#bcf660" stop-opacity="0.6"/><stop offset="0.55" stop-color="#bcf660" stop-opacity="0.45"/><stop offset="1" stop-color="#bcf660" stop-opacity="0"/></radialGradient><ellipse cx="0.1" cy="0.8" rx="0.35" ry="0.5" fill="url(#y1ag)" /><clipPath id="y1acl"><rect x="0" y="0.285" width="1" height="0.72"/></clipPath><g clip-path="url(#y1acl)"><ellipse cx="0.5" cy="0.42" rx="0.38" ry="0.32" fill="url(#y1ac)" /><ellipse cx="0.45" cy="0.85" rx="0.28" ry="0.42" fill="url(#y1ac)" /><ellipse cx="0.5" cy="0.5" rx="0.2" ry="0.25" fill="url(#y1ac)" /><ellipse cx="0.57" cy="0.31" rx="0.2" ry="0.17" fill="url(#y1ab)" /><ellipse cx="0.57" cy="0.32" rx="0.1" ry="0.1" fill="url(#y1ab)" /></g><clipPath id="y1acw"><rect x="0" y="0.295" width="1" height="0.71"/></clipPath><g clip-path="url(#y1acw)"><polygon points="0.86,0.2 1.05,0.2 1.05,1.1 0.88,1.1 0.77,0.62" fill="#e2f544" transform="translate(-0.075 0)" filter="url(#b3)" opacity="0.95"/><polygon points="0.86,0.2 1.05,0.2 1.05,1.1 0.88,1.1 0.77,0.62" fill="#f4dc30" transform="translate(-0.01 0)" filter="url(#b2)"/><polygon points="0.86,0.2 1.05,0.2 1.05,1.1 0.88,1.1 0.77,0.62" fill="#f6ac28" transform="translate(0.035 0)" filter="url(#b2)"/><polygon points="0.86,0.2 1.05,0.2 1.05,1.1 0.88,1.1 0.77,0.62" fill="#f08020" transform="translate(0.085 0)" filter="url(#b2)"/><polygon points="0.86,0.2 1.05,0.2 1.05,1.1 0.88,1.1 0.77,0.62" fill="#e65c1a" transform="translate(0.14 0)" filter="url(#b2)"/><polygon points="0.86,0.2 1.05,0.2 1.05,1.1 0.88,1.1 0.77,0.62" fill="#dc4416" transform="translate(0.2 0)" filter="url(#b2)"/></g><rect width="1" height="1" filter="url(#nz)" style="mix-blend-mode:overlay" opacity="0.17"/></svg><rect x="1849.5" y="1861.0" width="8.00" height="169.00" fill="url(#cm_jet)" stroke="#555" stroke-width="0.9"/><path d="M1855.3 2030.0h2.2M1855.3 2021.5h2.2M1855.3 2013.1h2.2M1855.3 2004.7h2.2M1855.3 1996.2h2.2M1855.3 1987.8h2.2M1855.3 1979.3h2.2M1855.3 1970.8h2.2M1855.3 1962.4h2.2M1855.3 1954.0h2.2M1855.3 1945.5h2.2M1855.3 1937.0h2.2M1855.3 1928.6h2.2M1855.3 1920.2h2.2M1855.3 1911.7h2.2M1855.3 1903.2h2.2M1855.3 1894.8h2.2M1855.3 1886.3h2.2M1855.3 1877.9h2.2M1855.3 1869.5h2.2M1855.3 1861.0h2.2" stroke="#333" stroke-width="0.7"/><path d="M1854.0 2030.0h3.5M1854.0 1996.2h3.5M1854.0 1962.4h3.5M1854.0 1928.6h3.5M1854.0 1894.8h3.5M1854.0 1861.0h3.5" stroke="#222" stroke-width="0.9"/><g font-family="'Liberation Serif',serif" font-size="14" fill="#333"><text x="1863.5" y="2034.6">0.0</text><text x="1863.5" y="2000.8">0.2</text><text x="1863.5" y="1967.0">0.4</text><text x="1863.5" y="1933.2">0.6</text><text x="1863.5" y="1899.4">0.8</text><text x="1863.5" y="1865.6">1.0</text></g><svg x="1912" y="1862.5" width="168" height="167.5" viewBox="0 0 1 1" preserveAspectRatio="none"><rect width="1" height="1" fill="#b0ff82"/><radialGradient id="y2ac"><stop offset="0" stop-color="#7ef0d4" stop-opacity="0.62"/><stop offset="0.55" stop-color="#7ef0d4" stop-opacity="0.46"/><stop offset="1" stop-color="#7ef0d4" stop-opacity="0"/></radialGradient><radialGradient id="y2ab"><stop offset="0" stop-color="#68b2f2" stop-opacity="0.9"/><stop offset="0.55" stop-color="#68b2f2" stop-opacity="0.68"/><stop offset="1" stop-color="#68b2f2" stop-opacity="0"/></radialGradient><radialGradient id="y2ay"><stop offset="0" stop-color="#d8f448" stop-opacity="0.7"/><stop offset="0.55" stop-color="#d8f448" stop-opacity="0.52"/><stop offset="1" stop-color="#d8f448" stop-opacity="0"/></radialGradient><radialGradient id="y2ag"><stop offset="0" stop-color="#bcf660" stop-opacity="0.6"/><stop offset="0.55" stop-color="#bcf660" stop-opacity="0.45"/><stop offset="1" stop-color="#bcf660" stop-opacity="0"/></radialGradient><ellipse cx="0.25" cy="0.37" rx="0.32" ry="0.06" fill="url(#y2ay)" transform="rotate(-6 .25 .37)"/><ellipse cx="0.15" cy="0.85" rx="0.3" ry="0.4" fill="url(#y2ag)" /><clipPath id="y2acl"><rect x="0" y="0.295" width="1" height="0.72"/></clipPath><g clip-path="url(#y2acl)"><ellipse cx="0.82" cy="0.5" rx="0.34" ry="0.4" fill="url(#y2ac)" /><ellipse cx="0.78" cy="0.85" rx="0.34" ry="0.4" fill="url(#y2ac)" /><ellipse cx="0.8" cy="0.65" rx="0.2" ry="0.4" fill="url(#y2ac)" /><ellipse cx="0.82" cy="0.43" rx="0.17" ry="0.22" fill="url(#y2ab)" /><ellipse cx="0.82" cy="0.4" rx="0.09" ry="0.12" fill="url(#y2ab)" /></g><ellipse cx="0.78" cy="0.95" rx="0.18" ry="0.14" fill="url(#y2ab)" /><ellipse cx="0.78" cy="0.97" rx="0.1" ry="0.08" fill="url(#y2ab)" /><rect width="1" height="1" filter="url(#nz)" style="mix-blend-mode:overlay" opacity="0.17"/></svg><rect x="2090.5" y="1861.0" width="8.00" height="169.00" fill="url(#cm_jet)" stroke="#555" stroke-width="0.9"/><path d="M2096.3 2030.0h2.2M2096.3 2021.5h2.2M2096.3 2013.1h2.2M2096.3 2004.7h2.2M2096.3 1996.2h2.2M2096.3 1987.8h2.2M2096.3 1979.3h2.2M2096.3 1970.8h2.2M2096.3 1962.4h2.2M2096.3 1954.0h2.2M2096.3 1945.5h2.2M2096.3 1937.0h2.2M2096.3 1928.6h2.2M2096.3 1920.2h2.2M2096.3 1911.7h2.2M2096.3 1903.2h2.2M2096.3 1894.8h2.2M2096.3 1886.3h2.2M2096.3 1877.9h2.2M2096.3 1869.5h2.2M2096.3 1861.0h2.2" stroke="#333" stroke-width="0.7"/><path d="M2095.0 2030.0h3.5M2095.0 1996.2h3.5M2095.0 1962.4h3.5M2095.0 1928.6h3.5M2095.0 1894.8h3.5M2095.0 1861.0h3.5" stroke="#222" stroke-width="0.9"/><g font-family="'Liberation Serif',serif" font-size="14" fill="#333"><text x="2104.5" y="2034.6">0.0</text><text x="2104.5" y="2000.8">0.2</text><text x="2104.5" y="1967.0">0.4</text><text x="2104.5" y="1933.2">0.6</text><text x="2104.5" y="1899.4">0.8</text><text x="2104.5" y="1865.6">1.0</text></g><svg x="1671" y="2051.5" width="168" height="167.5" viewBox="0 0 1 1" preserveAspectRatio="none"><rect width="1" height="1" fill="#b0ff82"/><radialGradient id="y1bc"><stop offset="0" stop-color="#7ef0d4" stop-opacity="0.62"/><stop offset="0.55" stop-color="#7ef0d4" stop-opacity="0.46"/><stop offset="1" stop-color="#7ef0d4" stop-opacity="0"/></radialGradient><radialGradient id="y1bb"><stop offset="0" stop-color="#68b2f2" stop-opacity="0.9"/><stop offset="0.55" stop-color="#68b2f2" stop-opacity="0.68"/><stop offset="1" stop-color="#68b2f2" stop-opacity="0"/></radialGradient><radialGradient id="y1by"><stop offset="0" stop-color="#d8f448" stop-opacity="0.7"/><stop offset="0.55" stop-color="#d8f448" stop-opacity="0.52"/><stop offset="1" stop-color="#d8f448" stop-opacity="0"/></radialGradient><radialGradient id="y1bg"><stop offset="0" stop-color="#bcf660" stop-opacity="0.6"/><stop offset="0.55" stop-color="#bcf660" stop-opacity="0.45"/><stop offset="1" stop-color="#bcf660" stop-opacity="0"/></radialGradient><ellipse cx="0.28" cy="0.8" rx="0.3" ry="0.4" fill="url(#y1bg)" /><ellipse cx="0.62" cy="0.26" rx="0.3" ry="0.08" fill="url(#y1bc)" /><ellipse cx="0.7" cy="0.235" rx="0.09" ry="0.04" fill="url(#y1bb)" /><ellipse cx="0.62" cy="0.62" rx="0.2" ry="0.42" fill="url(#y1bc)" transform="rotate(20 .62 .62)"/><ellipse cx="0.58" cy="0.96" rx="0.13" ry="0.11" fill="url(#y1bb)" /><clipPath id="y1bcw"><polygon points="0,0.34 0.8,0.34 0.9,0.275 0.97,0.28 1,0.33 1,1 0,1"/></clipPath><g clip-path="url(#y1bcw)"><polygon points="0.92,0.2 1.05,0.2 1.05,1.1 0.9,1.1 0.79,0.6" fill="#e2f544" transform="translate(-0.075 0)" filter="url(#b3)" opacity="0.95"/><polygon points="0.92,0.2 1.05,0.2 1.05,1.1 0.9,1.1 0.79,0.6" fill="#f4dc30" transform="translate(-0.01 0)" filter="url(#b2)"/><polygon points="0.92,0.2 1.05,0.2 1.05,1.1 0.9,1.1 0.79,0.6" fill="#f6ac28" transform="translate(0.035 0)" filter="url(#b2)"/><polygon points="0.92,0.2 1.05,0.2 1.05,1.1 0.9,1.1 0.79,0.6" fill="#f08020" transform="translate(0.085 0)" filter="url(#b2)"/><polygon points="0.92,0.2 1.05,0.2 1.05,1.1 0.9,1.1 0.79,0.6" fill="#e65c1a" transform="translate(0.14 0)" filter="url(#b2)"/><polygon points="0.92,0.2 1.05,0.2 1.05,1.1 0.9,1.1 0.79,0.6" fill="#dc4416" transform="translate(0.2 0)" filter="url(#b2)"/></g><rect width="1" height="1" filter="url(#nz)" style="mix-blend-mode:overlay" opacity="0.17"/></svg><rect x="1849.5" y="2050.0" width="8.00" height="169.00" fill="url(#cm_jet)" stroke="#555" stroke-width="0.9"/><path d="M1855.3 2219.0h2.2M1855.3 2210.6h2.2M1855.3 2202.1h2.2M1855.3 2193.7h2.2M1855.3 2185.2h2.2M1855.3 2176.8h2.2M1855.3 2168.3h2.2M1855.3 2159.8h2.2M1855.3 2151.4h2.2M1855.3 2142.9h2.2M1855.3 2134.5h2.2M1855.3 2126.1h2.2M1855.3 2117.6h2.2M1855.3 2109.2h2.2M1855.3 2100.7h2.2M1855.3 2092.2h2.2M1855.3 2083.8h2.2M1855.3 2075.3h2.2M1855.3 2066.9h2.2M1855.3 2058.4h2.2M1855.3 2050.0h2.2" stroke="#333" stroke-width="0.7"/><path d="M1854.0 2219.0h3.5M1854.0 2185.2h3.5M1854.0 2151.4h3.5M1854.0 2117.6h3.5M1854.0 2083.8h3.5M1854.0 2050.0h3.5" stroke="#222" stroke-width="0.9"/><g font-family="'Liberation Serif',serif" font-size="14" fill="#333"><text x="1863.5" y="2223.6">0.0</text><text x="1863.5" y="2189.8">0.2</text><text x="1863.5" y="2156.0">0.4</text><text x="1863.5" y="2122.2">0.6</text><text x="1863.5" y="2088.4">0.8</text><text x="1863.5" y="2054.6">1.0</text></g><svg x="1912" y="2051.5" width="168" height="167.5" viewBox="0 0 1 1" preserveAspectRatio="none"><rect width="1" height="1" fill="#b0ff82"/><radialGradient id="y2bc"><stop offset="0" stop-color="#7ef0d4" stop-opacity="0.62"/><stop offset="0.55" stop-color="#7ef0d4" stop-opacity="0.46"/><stop offset="1" stop-color="#7ef0d4" stop-opacity="0"/></radialGradient><radialGradient id="y2bb"><stop offset="0" stop-color="#68b2f2" stop-opacity="0.9"/><stop offset="0.55" stop-color="#68b2f2" stop-opacity="0.68"/><stop offset="1" stop-color="#68b2f2" stop-opacity="0"/></radialGradient><radialGradient id="y2by"><stop offset="0" stop-color="#d8f448" stop-opacity="0.7"/><stop offset="0.55" stop-color="#d8f448" stop-opacity="0.52"/><stop offset="1" stop-color="#d8f448" stop-opacity="0"/></radialGradient><radialGradient id="y2bg"><stop offset="0" stop-color="#bcf660" stop-opacity="0.6"/><stop offset="0.55" stop-color="#bcf660" stop-opacity="0.45"/><stop offset="1" stop-color="#bcf660" stop-opacity="0"/></radialGradient><ellipse cx="0.12" cy="0.3" rx="0.4" ry="0.3" fill="url(#y2bg)" /><ellipse cx="0.38" cy="0.99" rx="0.14" ry="0.07" fill="url(#y2by)" /><clipPath id="y2bcl"><polygon points="0,0.215 0.86,0.215 1,0.32 1,1 0,1"/></clipPath><g clip-path="url(#y2bcl)"><ellipse cx="0.84" cy="0.4" rx="0.3" ry="0.32" fill="url(#y2bc)" /><ellipse cx="0.8" cy="0.75" rx="0.26" ry="0.42" fill="url(#y2bc)" /><ellipse cx="0.82" cy="0.6" rx="0.15" ry="0.4" fill="url(#y2bc)" /><ellipse cx="0.85" cy="0.34" rx="0.14" ry="0.16" fill="url(#y2bb)" /><ellipse cx="0.85" cy="0.33" rx="0.07" ry="0.08" fill="url(#y2bb)" /></g><ellipse cx="0.8" cy="0.85" rx="0.17" ry="0.2" fill="url(#y2bb)" /><ellipse cx="0.8" cy="0.85" rx="0.1" ry="0.13" fill="url(#y2bb)" /><rect width="1" height="1" filter="url(#nz)" style="mix-blend-mode:overlay" opacity="0.17"/></svg><rect x="2090.5" y="2050.0" width="8.00" height="169.00" fill="url(#cm_jet)" stroke="#555" stroke-width="0.9"/><path d="M2096.3 2219.0h2.2M2096.3 2210.6h2.2M2096.3 2202.1h2.2M2096.3 2193.7h2.2M2096.3 2185.2h2.2M2096.3 2176.8h2.2M2096.3 2168.3h2.2M2096.3 2159.8h2.2M2096.3 2151.4h2.2M2096.3 2142.9h2.2M2096.3 2134.5h2.2M2096.3 2126.1h2.2M2096.3 2117.6h2.2M2096.3 2109.2h2.2M2096.3 2100.7h2.2M2096.3 2092.2h2.2M2096.3 2083.8h2.2M2096.3 2075.3h2.2M2096.3 2066.9h2.2M2096.3 2058.4h2.2M2096.3 2050.0h2.2" stroke="#333" stroke-width="0.7"/><path d="M2095.0 2219.0h3.5M2095.0 2185.2h3.5M2095.0 2151.4h3.5M2095.0 2117.6h3.5M2095.0 2083.8h3.5M2095.0 2050.0h3.5" stroke="#222" stroke-width="0.9"/><g font-family="'Liberation Serif',serif" font-size="14" fill="#333"><text x="2104.5" y="2223.6">0.0</text><text x="2104.5" y="2189.8">0.2</text><text x="2104.5" y="2156.0">0.4</text><text x="2104.5" y="2122.2">0.6</text><text x="2104.5" y="2088.4">0.8</text><text x="2104.5" y="2054.6">1.0</text></g><svg x="2640.6" y="496" width="179.8" height="179.79999999999995" viewBox="0 0 1 1" preserveAspectRatio="none"><rect width="1" height="1" fill="#3f0256"/><g ><polygon points="0.000,0.388 0.150,0.375 0.340,0.340 0.410,0.310 0.520,0.285 0.700,0.280 0.720,0.295 1.000,0.295 1.000,1.000 0.000,1.000" fill="#401566" /><polygon points="0.000,0.935 0.265,0.780 0.237,1.000 0.000,1.000" fill="#3f0256" /><polygon points="0.360,0.490 0.420,0.520 0.500,0.555 0.600,0.580 0.750,0.605 0.985,0.605 1.000,0.595 1.000,0.825 0.700,0.825 0.600,0.810 0.480,0.780 0.400,0.750 0.345,0.720" fill="#45457f" /><polygon points="0.000,0.484 0.360,0.484 0.345,0.520 0.345,0.720 0.265,0.780 0.000,0.935" fill="#46688e" /></g><polygon points="0.335,0.735 0.348,0.728 0.295,1.000 0.237,1.000 0.270,0.790" fill="#4f9e8a" /></svg><rect x="2831" y="496" width="9.00" height="179.80" fill="url(#cm_viridis)" stroke="#555" stroke-width="0.9"/><path d="M2837.8 675.8h2.2M2837.8 666.8h2.2M2837.8 657.8h2.2M2837.8 648.8h2.2M2837.8 639.8h2.2M2837.8 630.8h2.2M2837.8 621.9h2.2M2837.8 612.9h2.2M2837.8 603.9h2.2M2837.8 594.9h2.2M2837.8 585.9h2.2M2837.8 576.9h2.2M2837.8 567.9h2.2M2837.8 558.9h2.2M2837.8 549.9h2.2M2837.8 541.0h2.2M2837.8 532.0h2.2M2837.8 523.0h2.2M2837.8 514.0h2.2M2837.8 505.0h2.2M2837.8 496.0h2.2" stroke="#333" stroke-width="0.7"/><path d="M2836.5 675.8h3.5M2836.5 639.8h3.5M2836.5 603.9h3.5M2836.5 567.9h3.5M2836.5 532.0h3.5M2836.5 496.0h3.5" stroke="#222" stroke-width="0.9"/><g font-family="'Liberation Serif',serif" font-size="14.7" fill="#333"><text x="2846" y="680.7">0.0</text><text x="2846" y="644.7">0.2</text><text x="2846" y="608.7">0.4</text><text x="2846" y="572.8">0.6</text><text x="2846" y="536.8">0.8</text><text x="2846" y="500.9">1.0</text></g><svg x="2870" y="496" width="179.5" height="179.79999999999995" viewBox="0 0 1 1" preserveAspectRatio="none"><rect width="1" height="1" fill="#0d0000"/><polygon points="0.000,0.484 0.360,0.484 0.345,0.520 0.345,0.720 0.265,0.780 0.000,0.935" fill="#2c0000" /><polygon points="0.335,0.735 0.348,0.728 0.295,1.000 0.237,1.000 0.270,0.790" fill="#560800" /><polyline points="0.360,0.490 0.420,0.520 0.500,0.555 0.600,0.580 0.750,0.605 0.985,0.605 1.000,0.595" fill="none" stroke="#7a0000" stroke-width="0.01" stroke-dasharray="0.012 0.035" /><polyline points="0.345,0.720 0.400,0.750 0.480,0.780 0.600,0.810 0.700,0.825 1.000,0.825" fill="none" stroke="#c40000" stroke-width="0.012" stroke-dasharray="0.012 0.04" /><polyline points="0.000,0.935 0.265,0.780 0.345,0.725" fill="none" stroke="#ff3010" stroke-width="0.014" stroke-dasharray="0.014 0.022" /><polyline points="0.000,0.935 0.100,0.875" fill="none" stroke="#ffb030" stroke-width="0.014" stroke-dasharray="0.014 0.03" /><polyline points="0.355,0.484 0.345,0.520 0.345,0.720" fill="none" stroke="#8a0000" stroke-width="0.01" /><polyline points="0.345,0.735 0.295,1.000" fill="none" stroke="#d01000" stroke-width="0.012" stroke-dasharray="0.012 0.05" /><rect x="0.235" y="0.94" width="0.016" height="0.016" fill="#ffff40"/></svg><rect x="3060.5" y="496" width="8.50" height="179.80" fill="url(#cm_hot)" stroke="#555" stroke-width="0.9"/><path d="M3066.8 675.8h2.2M3066.8 663.8h2.2M3066.8 651.8h2.2M3066.8 639.8h2.2M3066.8 627.9h2.2M3066.8 615.9h2.2M3066.8 603.9h2.2M3066.8 591.9h2.2M3066.8 579.9h2.2M3066.8 567.9h2.2M3066.8 555.9h2.2M3066.8 543.9h2.2M3066.8 532.0h2.2M3066.8 520.0h2.2M3066.8 508.0h2.2M3066.8 496.0h2.2" stroke="#333" stroke-width="0.7"/><path d="M3065.5 675.8h3.5M3065.5 615.9h3.5M3065.5 555.9h3.5M3065.5 496.0h3.5" stroke="#222" stroke-width="0.9"/><g font-family="'Liberation Serif',serif" font-size="14.7" fill="#333"><text x="3075" y="680.7">0.0</text><text x="3075" y="620.7">0.1</text><text x="3075" y="560.8">0.2</text><text x="3075" y="500.9">0.3</text></g><svg x="3099.6" y="496" width="179.4" height="179.79999999999995" viewBox="0 0 1 1" preserveAspectRatio="none"><rect width="1" height="1" fill="#17265c"/><polygon points="0.000,0.484 0.360,0.484 0.345,0.520 0.345,0.720 0.265,0.780 0.000,0.935" fill="#202d72" /><polygon points="0.335,0.735 0.348,0.728 0.295,1.000 0.237,1.000 0.270,0.790" fill="#2b3c9a" /><polyline points="0.360,0.490 0.420,0.520 0.500,0.555 0.600,0.580 0.750,0.605 0.985,0.605 1.000,0.595" fill="none" stroke="#2a4a9c" stroke-width="0.01" stroke-dasharray="0.012 0.035" /><polyline points="0.345,0.720 0.400,0.750 0.480,0.780 0.600,0.810 0.700,0.825 1.000,0.825" fill="none" stroke="#3560b0" stroke-width="0.011" stroke-dasharray="0.012 0.04" /><polyline points="0.000,0.935 0.265,0.780 0.345,0.725" fill="none" stroke="#4aa0c8" stroke-width="0.013" stroke-dasharray="0.013 0.024" /><polyline points="0.000,0.935 0.100,0.875" fill="none" stroke="#8fd8c0" stroke-width="0.013" stroke-dasharray="0.013 0.03" /><polyline points="0.355,0.484 0.350,0.560" fill="none" stroke="#3f86c0" stroke-width="0.011" /><polyline points="0.345,0.735 0.295,1.000" fill="none" stroke="#4aa0c8" stroke-width="0.011" stroke-dasharray="0.012 0.05" /><rect x="0.235" y="0.94" width="0.016" height="0.016" fill="#f0f8b0"/></svg><rect x="3290" y="496" width="8.70" height="179.80" fill="url(#cm_ylgnbu)" stroke="#555" stroke-width="0.9"/><path d="M3296.5 675.8h2.2M3296.5 663.8h2.2M3296.5 651.8h2.2M3296.5 639.8h2.2M3296.5 627.9h2.2M3296.5 615.9h2.2M3296.5 603.9h2.2M3296.5 591.9h2.2M3296.5 579.9h2.2M3296.5 567.9h2.2M3296.5 555.9h2.2M3296.5 543.9h2.2M3296.5 532.0h2.2M3296.5 520.0h2.2M3296.5 508.0h2.2M3296.5 496.0h2.2" stroke="#333" stroke-width="0.7"/><path d="M3295.2 675.8h3.5M3295.2 615.9h3.5M3295.2 555.9h3.5M3295.2 496.0h3.5" stroke="#222" stroke-width="0.9"/><g font-family="'Liberation Serif',serif" font-size="14.7" fill="#333"><text x="3304.5" y="680.7">0.0</text><text x="3304.5" y="620.7">0.1</text><text x="3304.5" y="560.8">0.2</text><text x="3304.5" y="500.9">0.3</text></g><svg x="2640.6" y="694" width="179.8" height="179.5" viewBox="0 0 1 1" preserveAspectRatio="none"><rect width="1" height="1" fill="#3f0256"/><g ><polygon points="0.000,0.075 0.300,0.215 0.500,0.260 0.580,0.255 0.620,0.235 0.700,0.220 0.800,0.220 0.880,0.260 1.000,0.320 1.000,1.000 0.000,1.000" fill="#411466" /><polygon points="0.000,0.485 0.160,0.560 0.360,0.575 0.500,0.578 0.313,1.000 0.000,1.000" fill="#3f0256" /><polygon points="0.565,0.360 1.000,0.515 1.000,0.685 0.700,0.600 0.565,0.545" fill="#453a80" /><polygon points="0.000,0.125 0.565,0.375 0.565,0.575 0.360,0.575 0.160,0.560 0.000,0.485" fill="#46578c" /></g><polygon points="0.500,0.578 0.565,0.578 0.360,1.000 0.313,1.000" fill="#5cad86" /></svg><rect x="2831" y="694" width="9.00" height="179.50" fill="url(#cm_viridis)" stroke="#555" stroke-width="0.9"/><path d="M2837.8 873.5h2.2M2837.8 864.5h2.2M2837.8 855.5h2.2M2837.8 846.6h2.2M2837.8 837.6h2.2M2837.8 828.6h2.2M2837.8 819.6h2.2M2837.8 810.7h2.2M2837.8 801.7h2.2M2837.8 792.7h2.2M2837.8 783.8h2.2M2837.8 774.8h2.2M2837.8 765.8h2.2M2837.8 756.8h2.2M2837.8 747.9h2.2M2837.8 738.9h2.2M2837.8 729.9h2.2M2837.8 720.9h2.2M2837.8 712.0h2.2M2837.8 703.0h2.2M2837.8 694.0h2.2" stroke="#333" stroke-width="0.7"/><path d="M2836.5 873.5h3.5M2836.5 837.6h3.5M2836.5 801.7h3.5M2836.5 765.8h3.5M2836.5 729.9h3.5M2836.5 694.0h3.5" stroke="#222" stroke-width="0.9"/><g font-family="'Liberation Serif',serif" font-size="14.7" fill="#333"><text x="2846" y="878.4">0.0</text><text x="2846" y="842.5">0.2</text><text x="2846" y="806.6">0.4</text><text x="2846" y="770.7">0.6</text><text x="2846" y="734.8">0.8</text><text x="2846" y="698.9">1.0</text></g><svg x="2870" y="694" width="179.5" height="179.5" viewBox="0 0 1 1" preserveAspectRatio="none"><rect width="1" height="1" fill="#0d0000"/><polygon points="0.000,0.125 0.565,0.375 0.565,0.575 0.360,0.575 0.160,0.560 0.000,0.485" fill="#2c0000" /><polygon points="0.500,0.578 0.565,0.578 0.360,1.000 0.313,1.000" fill="#560800" /><polyline points="0.000,0.125 0.565,0.375" fill="none" stroke="#e81000" stroke-width="0.013" stroke-dasharray="0.013 0.02" /><polyline points="0.565,0.360 1.000,0.515" fill="none" stroke="#b00000" stroke-width="0.011" stroke-dasharray="0.012 0.035" /><polyline points="0.000,0.485 0.160,0.560 0.360,0.575 0.565,0.575" fill="none" stroke="#c00000" stroke-width="0.011" stroke-dasharray="0.012 0.04" /><polyline points="0.565,0.545 0.700,0.600 1.000,0.685" fill="none" stroke="#a00000" stroke-width="0.011" stroke-dasharray="0.012 0.035" /><polyline points="0.500,0.578 0.313,1.000" fill="none" stroke="#e02000" stroke-width="0.012" stroke-dasharray="0.012 0.03" /><polyline points="0.565,0.578 0.360,1.000" fill="none" stroke="#e02000" stroke-width="0.012" stroke-dasharray="0.012 0.03" /><rect x="0.385" y="0.8" width="0.016" height="0.016" fill="#ffff60"/><rect x="0.37" y="0.83" width="0.016" height="0.016" fill="#ffffa0"/><rect x="0.36" y="0.985" width="0.016" height="0.016" fill="#ffe040"/></svg><rect x="3060.5" y="694" width="8.50" height="179.50" fill="url(#cm_hot)" stroke="#555" stroke-width="0.9"/><path d="M3066.8 873.5h2.2M3066.8 861.5h2.2M3066.8 849.6h2.2M3066.8 837.6h2.2M3066.8 825.6h2.2M3066.8 813.7h2.2M3066.8 801.7h2.2M3066.8 789.7h2.2M3066.8 777.8h2.2M3066.8 765.8h2.2M3066.8 753.8h2.2M3066.8 741.9h2.2M3066.8 729.9h2.2M3066.8 717.9h2.2M3066.8 706.0h2.2M3066.8 694.0h2.2" stroke="#333" stroke-width="0.7"/><path d="M3065.5 873.5h3.5M3065.5 813.7h3.5M3065.5 753.8h3.5M3065.5 694.0h3.5" stroke="#222" stroke-width="0.9"/><g font-family="'Liberation Serif',serif" font-size="14.7" fill="#333"><text x="3075" y="878.4">0.0</text><text x="3075" y="818.5">0.1</text><text x="3075" y="758.7">0.2</text><text x="3075" y="698.9">0.3</text></g><svg x="3099.6" y="694" width="179.4" height="179.5" viewBox="0 0 1 1" preserveAspectRatio="none"><rect width="1" height="1" fill="#17265c"/><polygon points="0.000,0.125 0.565,0.375 0.565,0.575 0.360,0.575 0.160,0.560 0.000,0.485" fill="#202d72" /><polygon points="0.500,0.578 0.565,0.578 0.360,1.000 0.313,1.000" fill="#2b3c9a" /><polyline points="0.000,0.125 0.565,0.375" fill="none" stroke="#4aa0c8" stroke-width="0.012" stroke-dasharray="0.012 0.022" /><polyline points="0.565,0.360 1.000,0.515" fill="none" stroke="#3568b4" stroke-width="0.011" stroke-dasharray="0.012 0.035" /><polyline points="0.000,0.485 0.160,0.560 0.360,0.575 0.565,0.575" fill="none" stroke="#3f80c0" stroke-width="0.011" stroke-dasharray="0.012 0.04" /><polyline points="0.565,0.545 0.700,0.600 1.000,0.685" fill="none" stroke="#3568b4" stroke-width="0.011" stroke-dasharray="0.012 0.035" /><polyline points="0.500,0.578 0.313,1.000" fill="none" stroke="#3c78bc" stroke-width="0.011" stroke-dasharray="0.012 0.03" /><polyline points="0.565,0.578 0.360,1.000" fill="none" stroke="#5cb8c8" stroke-width="0.012" stroke-dasharray="0.012 0.03" /><rect x="0.385" y="0.8" width="0.016" height="0.016" fill="#f0f8b0"/><rect x="0.37" y="0.83" width="0.016" height="0.016" fill="#ffffd0"/></svg><rect x="3290" y="694" width="8.70" height="179.50" fill="url(#cm_ylgnbu)" stroke="#555" stroke-width="0.9"/><path d="M3296.5 873.5h2.2M3296.5 861.5h2.2M3296.5 849.6h2.2M3296.5 837.6h2.2M3296.5 825.6h2.2M3296.5 813.7h2.2M3296.5 801.7h2.2M3296.5 789.7h2.2M3296.5 777.8h2.2M3296.5 765.8h2.2M3296.5 753.8h2.2M3296.5 741.9h2.2M3296.5 729.9h2.2M3296.5 717.9h2.2M3296.5 706.0h2.2M3296.5 694.0h2.2" stroke="#333" stroke-width="0.7"/><path d="M3295.2 873.5h3.5M3295.2 813.7h3.5M3295.2 753.8h3.5M3295.2 694.0h3.5" stroke="#222" stroke-width="0.9"/><g font-family="'Liberation Serif',serif" font-size="14.7" fill="#333"><text x="3304.5" y="878.4">0.0</text><text x="3304.5" y="818.5">0.1</text><text x="3304.5" y="758.7">0.2</text><text x="3304.5" y="698.9">0.3</text></g><svg x="2642.2" y="931.6" width="179.8" height="179.80000000000007" viewBox="0 0 1 1" preserveAspectRatio="none"><rect width="1" height="1" fill="#3f0256"/><g filter="url(#b1)"><polygon points="0.000,0.388 0.150,0.375 0.340,0.340 0.410,0.310 0.520,0.285 0.700,0.280 0.720,0.295 1.000,0.295 1.000,1.000 0.000,1.000" fill="#411668" /><polygon points="0.000,0.935 0.265,0.780 0.237,1.000 0.000,1.000" fill="#3f0256" /><polygon points="0.360,0.490 0.420,0.520 0.500,0.555 0.600,0.580 0.750,0.605 0.985,0.605 1.000,0.595 1.000,0.825 0.700,0.825 0.600,0.810 0.480,0.780 0.400,0.750 0.345,0.720" fill="#45477f" /><polygon points="0.000,0.484 0.360,0.484 0.345,0.520 0.345,0.720 0.265,0.780 0.000,0.935" fill="#4a7c8e" /></g><polygon points="0.335,0.735 0.348,0.728 0.295,1.000 0.237,1.000 0.270,0.790" fill="#5fae88" filter="url(#b1)"/></svg><rect x="2832.6" y="931.6" width="9.00" height="179.80" fill="url(#cm_viridis)" stroke="#555" stroke-width="0.9"/><path d="M2839.4 1111.4h2.2M2839.4 1102.4h2.2M2839.4 1093.4h2.2M2839.4 1084.4h2.2M2839.4 1075.4h2.2M2839.4 1066.5h2.2M2839.4 1057.5h2.2M2839.4 1048.5h2.2M2839.4 1039.5h2.2M2839.4 1030.5h2.2M2839.4 1021.5h2.2M2839.4 1012.5h2.2M2839.4 1003.5h2.2M2839.4 994.5h2.2M2839.4 985.5h2.2M2839.4 976.6h2.2M2839.4 967.6h2.2M2839.4 958.6h2.2M2839.4 949.6h2.2M2839.4 940.6h2.2M2839.4 931.6h2.2" stroke="#333" stroke-width="0.7"/><path d="M2838.1 1111.4h3.5M2838.1 1075.4h3.5M2838.1 1039.5h3.5M2838.1 1003.5h3.5M2838.1 967.6h3.5M2838.1 931.6h3.5" stroke="#222" stroke-width="0.9"/><g font-family="'Liberation Serif',serif" font-size="14.7" fill="#333"><text x="2847.6" y="1116.3">0.0</text><text x="2847.6" y="1080.3">0.2</text><text x="2847.6" y="1044.3">0.4</text><text x="2847.6" y="1008.4">0.6</text><text x="2847.6" y="972.4">0.8</text><text x="2847.6" y="936.5">1.0</text></g><svg x="2871.6" y="931.6" width="179.5" height="179.80000000000007" viewBox="0 0 1 1" preserveAspectRatio="none"><rect width="1" height="1" fill="#0d0000"/><polygon points="0.000,0.388 0.150,0.375 0.340,0.340 0.410,0.310 0.520,0.285 0.700,0.280 0.720,0.295 1.000,0.295 1.000,1.000 0.000,1.000" fill="#1c0000" filter="url(#b2)"/><polygon points="0.000,0.935 0.265,0.780 0.237,1.000 0.000,1.000" fill="#0d0000" filter="url(#b1)"/><polygon points="0.360,0.490 0.420,0.520 0.500,0.555 0.600,0.580 0.750,0.605 0.985,0.605 1.000,0.595 1.000,0.825 0.700,0.825 0.600,0.810 0.480,0.780 0.400,0.750 0.345,0.720" fill="#2e0000" filter="url(#b1)"/><polygon points="0.000,0.484 0.360,0.484 0.345,0.520 0.345,0.720 0.265,0.780 0.000,0.935" fill="#e5360a" filter="url(#b1)"/><polyline points="0.360,0.490 0.420,0.520 0.500,0.555 0.600,0.580 0.750,0.605 0.985,0.605 1.000,0.595" fill="none" stroke="#d00800" stroke-width="0.02" filter="url(#b1)"/><polyline points="0.345,0.720 0.400,0.750 0.480,0.780 0.600,0.810 0.700,0.825 1.000,0.825" fill="none" stroke="#d00800" stroke-width="0.02" filter="url(#b1)"/><polyline points="0.000,0.388 0.150,0.375 0.340,0.340 0.410,0.310 0.520,0.285 0.700,0.280 0.720,0.295 1.000,0.295" fill="none" stroke="#3a0000" stroke-width="0.02" filter="url(#b2)"/><polyline points="0.000,0.484 0.360,0.484" fill="none" stroke="#ff9a10" stroke-width="0.03" filter="url(#b1)"/><polyline points="0.000,0.935 0.265,0.780 0.345,0.725" fill="none" stroke="#ff9a10" stroke-width="0.03" filter="url(#b1)"/><polyline points="0.000,0.925 0.220,0.800" fill="none" stroke="#ffe860" stroke-width="0.05" filter="url(#b2)"/><polyline points="0.000,0.935 0.120,0.870" fill="none" stroke="#ffffd0" stroke-width="0.03" filter="url(#b1)"/><polygon points="0.000,0.960 0.255,0.800 0.225,1.000 0.000,1.000" fill="#0d0000" filter="url(#b1)"/><polygon points="0.335,0.735 0.348,0.728 0.295,1.000 0.237,1.000 0.270,0.790" fill="#f8a420" /><polyline points="0.270,0.790 0.237,1.000" fill="none" stroke="#ffffe0" stroke-width="0.016" stroke-dasharray="0.02 0.012" /><polyline points="0.345,0.735 0.295,1.000" fill="none" stroke="#ffff90" stroke-width="0.016" stroke-dasharray="0.02 0.012" /></svg><rect x="3062.1" y="931.6" width="8.50" height="179.80" fill="url(#cm_hot)" stroke="#555" stroke-width="0.9"/><path d="M3068.4 1111.4h2.2M3068.4 1099.4h2.2M3068.4 1087.4h2.2M3068.4 1075.4h2.2M3068.4 1063.5h2.2M3068.4 1051.5h2.2M3068.4 1039.5h2.2M3068.4 1027.5h2.2M3068.4 1015.5h2.2M3068.4 1003.5h2.2M3068.4 991.5h2.2M3068.4 979.5h2.2M3068.4 967.6h2.2M3068.4 955.6h2.2M3068.4 943.6h2.2M3068.4 931.6h2.2" stroke="#333" stroke-width="0.7"/><path d="M3067.1 1111.4h3.5M3067.1 1051.5h3.5M3067.1 991.5h3.5M3067.1 931.6h3.5" stroke="#222" stroke-width="0.9"/><g font-family="'Liberation Serif',serif" font-size="14.7" fill="#333"><text x="3076.6" y="1116.3">0.0</text><text x="3076.6" y="1056.3">0.1</text><text x="3076.6" y="996.4">0.2</text><text x="3076.6" y="936.5">0.3</text></g><svg x="3101.2" y="931.6" width="179.4" height="179.80000000000007" viewBox="0 0 1 1" preserveAspectRatio="none"><rect width="1" height="1" fill="#16255a"/><polygon points="0.360,0.490 0.420,0.520 0.500,0.555 0.600,0.580 0.750,0.605 0.985,0.605 1.000,0.595 1.000,0.825 0.700,0.825 0.600,0.810 0.480,0.780 0.400,0.750 0.345,0.720" fill="#1b3280" filter="url(#b1)"/><polygon points="0.000,0.484 0.360,0.484 0.345,0.520 0.345,0.720 0.265,0.780 0.000,0.935" fill="#62aacb" filter="url(#b1)"/><polyline points="0.360,0.490 0.420,0.520 0.500,0.555 0.600,0.580 0.750,0.605 0.985,0.605 1.000,0.595" fill="none" stroke="#2f74b8" stroke-width="0.018" filter="url(#b1)"/><polyline points="0.345,0.720 0.400,0.750 0.480,0.780 0.600,0.810 0.700,0.825 1.000,0.825" fill="none" stroke="#2f74b8" stroke-width="0.018" filter="url(#b1)"/><polyline points="0.000,0.388 0.150,0.375 0.340,0.340 0.410,0.310 0.520,0.285 0.700,0.280 0.720,0.295 1.000,0.295" fill="none" stroke="#1c3384" stroke-width="0.015" filter="url(#b2)"/><polyline points="0.000,0.484 0.360,0.484" fill="none" stroke="#8fd3c0" stroke-width="0.025" filter="url(#b1)"/><polyline points="0.000,0.935 0.265,0.780 0.345,0.725" fill="none" stroke="#9cd6c2" stroke-width="0.03" filter="url(#b1)"/><polyline points="0.000,0.925 0.220,0.800" fill="none" stroke="#dcf0b8" stroke-width="0.045" filter="url(#b2)"/><polyline points="0.000,0.935 0.120,0.870" fill="none" stroke="#ffffd8" stroke-width="0.028" filter="url(#b1)"/><polygon points="0.000,0.960 0.255,0.800 0.225,1.000 0.000,1.000" fill="#16255a" filter="url(#b1)"/><polygon points="0.335,0.735 0.348,0.728 0.295,1.000 0.237,1.000 0.270,0.790" fill="#9ad2c4" /><polyline points="0.270,0.790 0.237,1.000" fill="none" stroke="#ffffd8" stroke-width="0.016" stroke-dasharray="0.02 0.012" /><polyline points="0.345,0.735 0.295,1.000" fill="none" stroke="#eef8c0" stroke-width="0.016" stroke-dasharray="0.02 0.012" /></svg><rect x="3291.6" y="931.6" width="8.70" height="179.80" fill="url(#cm_ylgnbu)" stroke="#555" stroke-width="0.9"/><path d="M3298.1 1111.4h2.2M3298.1 1099.4h2.2M3298.1 1087.4h2.2M3298.1 1075.4h2.2M3298.1 1063.5h2.2M3298.1 1051.5h2.2M3298.1 1039.5h2.2M3298.1 1027.5h2.2M3298.1 1015.5h2.2M3298.1 1003.5h2.2M3298.1 991.5h2.2M3298.1 979.5h2.2M3298.1 967.6h2.2M3298.1 955.6h2.2M3298.1 943.6h2.2M3298.1 931.6h2.2" stroke="#333" stroke-width="0.7"/><path d="M3296.8 1111.4h3.5M3296.8 1051.5h3.5M3296.8 991.5h3.5M3296.8 931.6h3.5" stroke="#222" stroke-width="0.9"/><g font-family="'Liberation Serif',serif" font-size="14.7" fill="#333"><text x="3306.1" y="1116.3">0.0</text><text x="3306.1" y="1056.3">0.1</text><text x="3306.1" y="996.4">0.2</text><text x="3306.1" y="936.5">0.3</text></g><svg x="2642.2" y="1129.7" width="179.8" height="179.29999999999995" viewBox="0 0 1 1" preserveAspectRatio="none"><rect width="1" height="1" fill="#3f0256"/><g filter="url(#b1)"><polygon points="0.000,0.075 0.300,0.215 0.500,0.260 0.580,0.255 0.620,0.235 0.700,0.220 0.800,0.220 0.880,0.260 1.000,0.320 1.000,1.000 0.000,1.000" fill="#421a6a" /><polygon points="0.000,0.485 0.160,0.560 0.360,0.575 0.500,0.578 0.313,1.000 0.000,1.000" fill="#3f0256" /><polygon points="0.565,0.360 1.000,0.515 1.000,0.685 0.700,0.600 0.565,0.545" fill="#453f80" /><polygon points="0.000,0.125 0.565,0.375 0.565,0.575 0.360,0.575 0.160,0.560 0.000,0.485" fill="#46588c" /></g><polygon points="0.500,0.578 0.565,0.578 0.360,1.000 0.313,1.000" fill="#5fb487" filter="url(#b1)"/></svg><rect x="2832.6" y="1129.7" width="9.00" height="179.30" fill="url(#cm_viridis)" stroke="#555" stroke-width="0.9"/><path d="M2839.4 1309.0h2.2M2839.4 1300.0h2.2M2839.4 1291.1h2.2M2839.4 1282.1h2.2M2839.4 1273.1h2.2M2839.4 1264.2h2.2M2839.4 1255.2h2.2M2839.4 1246.2h2.2M2839.4 1237.3h2.2M2839.4 1228.3h2.2M2839.4 1219.3h2.2M2839.4 1210.4h2.2M2839.4 1201.4h2.2M2839.4 1192.5h2.2M2839.4 1183.5h2.2M2839.4 1174.5h2.2M2839.4 1165.6h2.2M2839.4 1156.6h2.2M2839.4 1147.6h2.2M2839.4 1138.7h2.2M2839.4 1129.7h2.2" stroke="#333" stroke-width="0.7"/><path d="M2838.1 1309.0h3.5M2838.1 1273.1h3.5M2838.1 1237.3h3.5M2838.1 1201.4h3.5M2838.1 1165.6h3.5M2838.1 1129.7h3.5" stroke="#222" stroke-width="0.9"/><g font-family="'Liberation Serif',serif" font-size="14.7" fill="#333"><text x="2847.6" y="1313.9">0.0</text><text x="2847.6" y="1278.0">0.2</text><text x="2847.6" y="1242.1">0.4</text><text x="2847.6" y="1206.3">0.6</text><text x="2847.6" y="1170.4">0.8</text><text x="2847.6" y="1134.6">1.0</text></g><svg x="2871.6" y="1129.7" width="179.5" height="179.29999999999995" viewBox="0 0 1 1" preserveAspectRatio="none"><rect width="1" height="1" fill="#0d0000"/><polygon points="0.000,0.075 0.300,0.215 0.500,0.260 0.580,0.255 0.620,0.235 0.700,0.220 0.800,0.220 0.880,0.260 1.000,0.320 1.000,1.000 0.000,1.000" fill="#1c0000" filter="url(#b2)"/><polygon points="0.000,0.485 0.160,0.560 0.360,0.575 0.500,0.578 0.313,1.000 0.000,1.000" fill="#0d0000" filter="url(#b1)"/><polygon points="0.565,0.360 1.000,0.515 1.000,0.685 0.700,0.600 0.565,0.545" fill="#2e0000" filter="url(#b1)"/><linearGradient id="gbS" x1="0" y1="0.1" x2="0.4" y2="0.7" gradientUnits="userSpaceOnUse"><stop offset="0" stop-color="#f03008"/><stop offset="0.5" stop-color="#a80000"/><stop offset="1" stop-color="#980000"/></linearGradient><polygon points="0.000,0.125 0.565,0.375 0.565,0.575 0.360,0.575 0.160,0.560 0.000,0.485" fill="url(#gbS)" filter="url(#b1)"/><polyline points="0.000,0.125 0.565,0.375" fill="none" stroke="#ff3808" stroke-width="0.04" filter="url(#b2)"/><polyline points="0.565,0.360 1.000,0.515" fill="none" stroke="#c00400" stroke-width="0.018" filter="url(#b1)"/><polyline points="0.565,0.545 0.700,0.600 1.000,0.685" fill="none" stroke="#c00400" stroke-width="0.018" filter="url(#b1)"/><polyline points="0.000,0.075 0.300,0.215 0.500,0.260 0.580,0.255 0.620,0.235 0.700,0.220 0.800,0.220 0.880,0.260 1.000,0.320" fill="none" stroke="#300000" stroke-width="0.02" filter="url(#b2)"/><polyline points="0.000,0.485 0.160,0.560 0.360,0.575 0.565,0.575" fill="none" stroke="#f06818" stroke-width="0.012" stroke-dasharray="0.04 0.04" filter="url(#b1)"/><polygon points="0.500,0.578 0.565,0.578 0.360,1.000 0.313,1.000" fill="#e84010" /><polyline points="0.500,0.578 0.313,1.000" fill="none" stroke="#ffffc0" stroke-width="0.016" stroke-dasharray="0.014 0.014" /><polyline points="0.565,0.578 0.360,1.000" fill="none" stroke="#ffd040" stroke-width="0.016" stroke-dasharray="0.014 0.014" /></svg><rect x="3062.1" y="1129.7" width="8.50" height="179.30" fill="url(#cm_hot)" stroke="#555" stroke-width="0.9"/><path d="M3068.4 1309.0h2.2M3068.4 1297.0h2.2M3068.4 1285.1h2.2M3068.4 1273.1h2.2M3068.4 1261.2h2.2M3068.4 1249.2h2.2M3068.4 1237.3h2.2M3068.4 1225.3h2.2M3068.4 1213.4h2.2M3068.4 1201.4h2.2M3068.4 1189.5h2.2M3068.4 1177.5h2.2M3068.4 1165.6h2.2M3068.4 1153.6h2.2M3068.4 1141.7h2.2M3068.4 1129.7h2.2" stroke="#333" stroke-width="0.7"/><path d="M3067.1 1309.0h3.5M3067.1 1249.2h3.5M3067.1 1189.5h3.5M3067.1 1129.7h3.5" stroke="#222" stroke-width="0.9"/><g font-family="'Liberation Serif',serif" font-size="14.7" fill="#333"><text x="3076.6" y="1313.9">0.0</text><text x="3076.6" y="1254.1">0.1</text><text x="3076.6" y="1194.3">0.2</text><text x="3076.6" y="1134.6">0.3</text></g><svg x="3101.2" y="1129.7" width="179.4" height="179.29999999999995" viewBox="0 0 1 1" preserveAspectRatio="none"><rect width="1" height="1" fill="#16255a"/><polygon points="0.565,0.360 1.000,0.515 1.000,0.685 0.700,0.600 0.565,0.545" fill="#1b3280" filter="url(#b1)"/><linearGradient id="gbA" x1="0" y1="0.1" x2="0.4" y2="0.7" gradientUnits="userSpaceOnUse"><stop offset="0" stop-color="#4a8cc4"/><stop offset="0.6" stop-color="#3560b0"/><stop offset="1" stop-color="#3258ac"/></linearGradient><polygon points="0.000,0.125 0.565,0.375 0.565,0.575 0.360,0.575 0.160,0.560 0.000,0.485" fill="url(#gbA)" filter="url(#b1)"/><polyline points="0.000,0.125 0.565,0.375" fill="none" stroke="#58b4cc" stroke-width="0.035" filter="url(#b2)"/><polyline points="0.565,0.360 1.000,0.515" fill="none" stroke="#2c68b2" stroke-width="0.016" filter="url(#b1)"/><polyline points="0.565,0.545 0.700,0.600 1.000,0.685" fill="none" stroke="#2c68b2" stroke-width="0.016" filter="url(#b1)"/><polyline points="0.000,0.485 0.160,0.560 0.360,0.575 0.565,0.575" fill="none" stroke="#6cb8d0" stroke-width="0.012" filter="url(#b1)"/><polygon points="0.500,0.578 0.565,0.578 0.360,1.000 0.313,1.000" fill="#6cb6cc" /><polyline points="0.500,0.578 0.313,1.000" fill="none" stroke="#f0f8c0" stroke-width="0.014" stroke-dasharray="0.014 0.014" /><polyline points="0.565,0.578 0.360,1.000" fill="none" stroke="#d0ecc0" stroke-width="0.014" stroke-dasharray="0.014 0.014" /></svg><rect x="3291.6" y="1129.7" width="8.70" height="179.30" fill="url(#cm_ylgnbu)" stroke="#555" stroke-width="0.9"/><path d="M3298.1 1309.0h2.2M3298.1 1297.0h2.2M3298.1 1285.1h2.2M3298.1 1273.1h2.2M3298.1 1261.2h2.2M3298.1 1249.2h2.2M3298.1 1237.3h2.2M3298.1 1225.3h2.2M3298.1 1213.4h2.2M3298.1 1201.4h2.2M3298.1 1189.5h2.2M3298.1 1177.5h2.2M3298.1 1165.6h2.2M3298.1 1153.6h2.2M3298.1 1141.7h2.2M3298.1 1129.7h2.2" stroke="#333" stroke-width="0.7"/><path d="M3296.8 1309.0h3.5M3296.8 1249.2h3.5M3296.8 1189.5h3.5M3296.8 1129.7h3.5" stroke="#222" stroke-width="0.9"/><g font-family="'Liberation Serif',serif" font-size="14.7" fill="#333"><text x="3306.1" y="1313.9">0.0</text><text x="3306.1" y="1254.1">0.1</text><text x="3306.1" y="1194.3">0.2</text><text x="3306.1" y="1134.6">0.3</text></g><path d="M2607 497.4 H2597.3 Q2584.3 497.4 2584.3 510.4 V676.8 Q2584.3 685.8 2558.5 685.8 Q2584.3 685.8 2584.3 694.8 V860.2 Q2584.3 873.2 2597.3 873.2 H2607" fill="none" stroke="#000" stroke-width="5.4" stroke-linejoin="round"/><path d="M2607 933 H2597.3 Q2584.3 933 2584.3 946 V1113.3 Q2584.3 1122.3 2558.5 1122.3 Q2584.3 1122.3 2584.3 1131.3 V1297.5 Q2584.3 1310.5 2597.3 1310.5 H2607" fill="none" stroke="#000" stroke-width="5.4" stroke-linejoin="round"/><filter id="goo" filterUnits="userSpaceOnUse" x="0" y="0" width="1700" height="1700" color-interpolation-filters="sRGB"><feGaussianBlur stdDeviation="9" result="b"/><feColorMatrix in="b" type="matrix" values="1 0 0 0 0  0 1 0 0 0  0 0 1 0 0  0 0 0 24 -10.5"/></filter><g transform="translate(2885 165) scale(0.13546)"><g fill="#62468b" stroke="#62468b" stroke-width="0"><ellipse cx="848" cy="122" rx="46" ry="62" transform="rotate(-15 848 122)"/><ellipse cx="990" cy="125" rx="44" ry="62" transform="rotate(10 990 125)"/><ellipse cx="1128" cy="152" rx="38" ry="55" transform="rotate(-10 1128 152)"/><ellipse cx="1240" cy="200" rx="30" ry="45" transform="rotate(-10 1240 200)"/><ellipse cx="1333" cy="278" rx="26" ry="40"/><ellipse cx="1000" cy="268" rx="34" ry="45" transform="rotate(-10 1000 268)"/><ellipse cx="1108" cy="283" rx="28" ry="38"/><ellipse cx="1203" cy="320" rx="24" ry="35" transform="rotate(10 1203 320)"/><ellipse cx="1093" cy="380" rx="22" ry="30"/><ellipse cx="912" cy="400" rx="30" ry="35" transform="rotate(-20 912 400)"/><ellipse cx="762" cy="308" rx="42" ry="48" transform="rotate(-30 762 308)"/><ellipse cx="545" cy="230" rx="58" ry="62" transform="rotate(-30 545 230)"/><ellipse cx="400" cy="285" rx="52" ry="40" transform="rotate(25 400 285)"/><ellipse cx="330" cy="430" rx="62" ry="55" transform="rotate(25 330 430)"/><ellipse cx="505" cy="510" rx="48" ry="40" transform="rotate(20 505 510)"/><ellipse cx="742" cy="495" rx="33" ry="35"/><ellipse cx="322" cy="588" rx="60" ry="48" transform="rotate(20 322 588)"/><ellipse cx="1465" cy="425" rx="16" ry="28" transform="rotate(-20 1465 425)"/><ellipse cx="1508" cy="478" rx="10" ry="18"/><ellipse cx="690" cy="140" rx="46" ry="50" transform="rotate(-30 690 140)"/><ellipse cx="825" cy="440" rx="28" ry="36" transform="rotate(-30 825 440)"/><ellipse cx="635" cy="572" rx="34" ry="36"/><ellipse cx="1003" cy="385" rx="24" ry="28"/><ellipse cx="1405" cy="355" rx="26" ry="34" transform="rotate(20 1405 355)"/><ellipse cx="868" cy="248" rx="34" ry="30"/><ellipse cx="625" cy="355" rx="36" ry="32"/><ellipse cx="1288" cy="365" rx="26" ry="26"/><path d="M690 140Q760 225 865 245" fill="none" stroke-width="49" stroke-linecap="round" stroke-linejoin="round"/><path d="M865 245Q950 230 990 135" fill="none" stroke-width="55" stroke-linecap="round" stroke-linejoin="round"/><path d="M865 250Q930 330 1003 383" fill="none" stroke-width="47" stroke-linecap="round" stroke-linejoin="round"/><path d="M400 285Q500 340 620 352" fill="none" stroke-width="55" stroke-linecap="round" stroke-linejoin="round"/><path d="M620 352Q720 400 822 438" fill="none" stroke-width="55" stroke-linecap="round" stroke-linejoin="round"/><path d="M632 365Q650 470 636 570" fill="none" stroke-width="42" stroke-linecap="round" stroke-linejoin="round"/><path d="M1240 198Q1250 300 1288 365" fill="none" stroke-width="44" stroke-linecap="round" stroke-linejoin="round"/><path d="M1288 368Q1350 372 1402 356" fill="none" stroke-width="44" stroke-linecap="round" stroke-linejoin="round"/></g><g fill="#8a6ca4" stroke="#8a6ca4" stroke-width="0"><ellipse cx="232" cy="450" rx="20" ry="12" transform="rotate(-20 232 450)" fill="#7a5b99"/><ellipse cx="208" cy="515" rx="30" ry="18" transform="rotate(-15 208 515)"/><ellipse cx="145" cy="700" rx="40" ry="28" transform="rotate(-15 145 700)"/><ellipse cx="243" cy="790" rx="33" ry="25" transform="rotate(-15 243 790)"/><ellipse cx="350" cy="860" rx="28" ry="22" transform="rotate(-20 350 860)"/><ellipse cx="255" cy="893" rx="38" ry="30" transform="rotate(-20 255 893)"/><ellipse cx="135" cy="940" rx="55" ry="38" transform="rotate(-20 135 940)"/><ellipse cx="298" cy="997" rx="42" ry="35" transform="rotate(-20 298 997)"/><ellipse cx="455" cy="1005" rx="33" ry="28" transform="rotate(-10 455 1005)"/><ellipse cx="622" cy="1108" rx="33" ry="38"/><ellipse cx="452" cy="1180" rx="42" ry="48" transform="rotate(20 452 1180)"/><ellipse cx="243" cy="1200" rx="58" ry="52" transform="rotate(-30 243 1200)"/><ellipse cx="748" cy="1308" rx="40" ry="48"/><ellipse cx="482" cy="1410" rx="52" ry="65" transform="rotate(20 482 1410)"/><ellipse cx="762" cy="1500" rx="50" ry="65" transform="rotate(10 762 1500)"/><ellipse cx="905" cy="1428" rx="48" ry="62" transform="rotate(10 905 1428)"/><ellipse cx="185" cy="597" rx="36" ry="26" transform="rotate(-15 185 597)"/><ellipse cx="112" cy="825" rx="36" ry="28" transform="rotate(-20 112 825)"/><ellipse cx="160" cy="1082" rx="44" ry="40" transform="rotate(-20 160 1082)"/><ellipse cx="393" cy="940" rx="28" ry="30"/><ellipse cx="350" cy="1305" rx="52" ry="62" transform="rotate(20 350 1305)"/><ellipse cx="535" cy="1072" rx="34" ry="38"/><ellipse cx="740" cy="1162" rx="32" ry="34"/><ellipse cx="612" cy="1490" rx="50" ry="62" transform="rotate(-5 612 1490)"/><ellipse cx="365" cy="1092" rx="40" ry="40"/><ellipse cx="578" cy="1240" rx="36" ry="36"/><ellipse cx="236" cy="690" rx="24" ry="26"/><path d="M185 598Q232 640 240 692Q200 770 115 825" fill="none" stroke-width="39" stroke-linecap="round" stroke-linejoin="round"/><path d="M160 1082Q260 1060 362 1092" fill="none" stroke-width="60" stroke-linecap="round" stroke-linejoin="round"/><path d="M365 1090Q402 1010 393 942" fill="none" stroke-width="44" stroke-linecap="round" stroke-linejoin="round"/><path d="M372 1100Q400 1200 352 1300" fill="none" stroke-width="60" stroke-linecap="round" stroke-linejoin="round"/><path d="M535 1072Q545 1160 580 1240" fill="none" stroke-width="49" stroke-linecap="round" stroke-linejoin="round"/><path d="M580 1240Q670 1200 738 1164" fill="none" stroke-width="44" stroke-linecap="round" stroke-linejoin="round"/><path d="M572 1242Q560 1380 612 1490" fill="none" stroke-width="68" stroke-linecap="round" stroke-linejoin="round"/></g></g><path d="M3221.2 2123.0h53.1v7.59h-53.1zM3289.5 2123.0h7.6v7.59h-7.6zM3327.4 2123.0h7.6v7.59h-7.6zM3342.6 2123.0h7.6v7.59h-7.6zM3357.8 2123.0h53.1v7.59h-53.1zM3221.2 2130.6h7.6v7.59h-7.6zM3266.7 2130.6h7.6v7.59h-7.6zM3281.9 2130.6h15.2v7.59h-15.2zM3304.7 2130.6h37.9v7.59h-37.9zM3357.8 2130.6h7.6v7.59h-7.6zM3403.3 2130.6h7.6v7.59h-7.6zM3221.2 2138.2h7.6v7.59h-7.6zM3236.4 2138.2h22.8v7.59h-22.8zM3266.7 2138.2h7.6v7.59h-7.6zM3289.5 2138.2h22.8v7.59h-22.8zM3319.8 2138.2h7.6v7.59h-7.6zM3342.6 2138.2h7.6v7.59h-7.6zM3357.8 2138.2h7.6v7.59h-7.6zM3373.0 2138.2h22.8v7.59h-22.8zM3403.3 2138.2h7.6v7.59h-7.6zM3221.2 2145.8h7.6v7.59h-7.6zM3236.4 2145.8h22.8v7.59h-22.8zM3266.7 2145.8h7.6v7.59h-7.6zM3281.9 2145.8h15.2v7.59h-15.2zM3304.7 2145.8h7.6v7.59h-7.6zM3327.4 2145.8h22.8v7.59h-22.8zM3357.8 2145.8h7.6v7.59h-7.6zM3373.0 2145.8h22.8v7.59h-22.8zM3403.3 2145.8h7.6v7.59h-7.6zM3221.2 2153.4h7.6v7.59h-7.6zM3236.4 2153.4h22.8v7.59h-22.8zM3266.7 2153.4h7.6v7.59h-7.6zM3297.1 2153.4h7.6v7.59h-7.6zM3312.3 2153.4h7.6v7.59h-7.6zM3342.6 2153.4h7.6v7.59h-7.6zM3357.8 2153.4h7.6v7.59h-7.6zM3373.0 2153.4h22.8v7.59h-22.8zM3403.3 2153.4h7.6v7.59h-7.6zM3221.2 2160.9h7.6v7.59h-7.6zM3266.7 2160.9h7.6v7.59h-7.6zM3281.9 2160.9h7.6v7.59h-7.6zM3297.1 2160.9h7.6v7.59h-7.6zM3319.8 2160.9h15.2v7.59h-15.2zM3357.8 2160.9h7.6v7.59h-7.6zM3403.3 2160.9h7.6v7.59h-7.6zM3221.2 2168.5h53.1v7.59h-53.1zM3281.9 2168.5h7.6v7.59h-7.6zM3297.1 2168.5h7.6v7.59h-7.6zM3312.3 2168.5h7.6v7.59h-7.6zM3327.4 2168.5h7.6v7.59h-7.6zM3342.6 2168.5h7.6v7.59h-7.6zM3357.8 2168.5h53.1v7.59h-53.1zM3312.3 2176.1h7.6v7.59h-7.6zM3342.6 2176.1h7.6v7.59h-7.6zM3221.2 2183.7h37.9v7.59h-37.9zM3266.7 2183.7h37.9v7.59h-37.9zM3312.3 2183.7h7.6v7.59h-7.6zM3327.4 2183.7h30.4v7.59h-30.4zM3365.4 2183.7h7.6v7.59h-7.6zM3380.5 2183.7h7.6v7.59h-7.6zM3395.7 2183.7h7.6v7.59h-7.6zM3221.2 2191.3h45.5v7.59h-45.5zM3274.3 2191.3h7.6v7.59h-7.6zM3289.5 2191.3h7.6v7.59h-7.6zM3327.4 2191.3h7.6v7.59h-7.6zM3342.6 2191.3h15.2v7.59h-15.2zM3365.4 2191.3h15.2v7.59h-15.2zM3403.3 2191.3h7.6v7.59h-7.6zM3221.2 2198.9h7.6v7.59h-7.6zM3236.4 2198.9h7.6v7.59h-7.6zM3251.6 2198.9h22.8v7.59h-22.8zM3289.5 2198.9h7.6v7.59h-7.6zM3304.7 2198.9h22.8v7.59h-22.8zM3350.2 2198.9h15.2v7.59h-15.2zM3373.0 2198.9h7.6v7.59h-7.6zM3388.1 2198.9h7.6v7.59h-7.6zM3221.2 2206.5h7.6v7.59h-7.6zM3236.4 2206.5h7.6v7.59h-7.6zM3251.6 2206.5h7.6v7.59h-7.6zM3281.9 2206.5h30.4v7.59h-30.4zM3319.8 2206.5h7.6v7.59h-7.6zM3342.6 2206.5h15.2v7.59h-15.2zM3228.8 2214.1h15.2v7.59h-15.2zM3251.6 2214.1h22.8v7.59h-22.8zM3289.5 2214.1h7.6v7.59h-7.6zM3304.7 2214.1h7.6v7.59h-7.6zM3319.8 2214.1h68.3v7.59h-68.3zM3395.7 2214.1h15.2v7.59h-15.2zM3221.2 2221.6h7.6v7.59h-7.6zM3236.4 2221.6h15.2v7.59h-15.2zM3274.3 2221.6h30.4v7.59h-30.4zM3312.3 2221.6h7.6v7.59h-7.6zM3342.6 2221.6h15.2v7.59h-15.2zM3365.4 2221.6h15.2v7.59h-15.2zM3221.2 2229.2h7.6v7.59h-7.6zM3236.4 2229.2h22.8v7.59h-22.8zM3266.7 2229.2h7.6v7.59h-7.6zM3281.9 2229.2h15.2v7.59h-15.2zM3319.8 2229.2h22.8v7.59h-22.8zM3350.2 2229.2h15.2v7.59h-15.2zM3373.0 2229.2h7.6v7.59h-7.6zM3388.1 2229.2h22.8v7.59h-22.8zM3221.2 2236.8h7.6v7.59h-7.6zM3251.6 2236.8h7.6v7.59h-7.6zM3281.9 2236.8h15.2v7.59h-15.2zM3312.3 2236.8h7.6v7.59h-7.6zM3342.6 2236.8h15.2v7.59h-15.2zM3395.7 2236.8h15.2v7.59h-15.2zM3221.2 2244.4h7.6v7.59h-7.6zM3236.4 2244.4h7.6v7.59h-7.6zM3259.1 2244.4h45.5v7.59h-45.5zM3312.3 2244.4h15.2v7.59h-15.2zM3335.0 2244.4h53.1v7.59h-53.1zM3403.3 2244.4h7.6v7.59h-7.6zM3281.9 2252.0h7.6v7.59h-7.6zM3327.4 2252.0h22.8v7.59h-22.8zM3373.0 2252.0h7.6v7.59h-7.6zM3403.3 2252.0h7.6v7.59h-7.6zM3221.2 2259.6h53.1v7.59h-53.1zM3281.9 2259.6h15.2v7.59h-15.2zM3304.7 2259.6h30.4v7.59h-30.4zM3342.6 2259.6h7.6v7.59h-7.6zM3357.8 2259.6h7.6v7.59h-7.6zM3373.0 2259.6h7.6v7.59h-7.6zM3388.1 2259.6h22.8v7.59h-22.8zM3221.2 2267.2h7.6v7.59h-7.6zM3266.7 2267.2h7.6v7.59h-7.6zM3289.5 2267.2h22.8v7.59h-22.8zM3319.8 2267.2h7.6v7.59h-7.6zM3342.6 2267.2h7.6v7.59h-7.6zM3373.0 2267.2h15.2v7.59h-15.2zM3221.2 2274.8h7.6v7.59h-7.6zM3236.4 2274.8h22.8v7.59h-22.8zM3266.7 2274.8h7.6v7.59h-7.6zM3281.9 2274.8h15.2v7.59h-15.2zM3304.7 2274.8h30.4v7.59h-30.4zM3342.6 2274.8h45.5v7.59h-45.5zM3221.2 2282.3h7.6v7.59h-7.6zM3236.4 2282.3h22.8v7.59h-22.8zM3266.7 2282.3h7.6v7.59h-7.6zM3281.9 2282.3h15.2v7.59h-15.2zM3312.3 2282.3h7.6v7.59h-7.6zM3327.4 2282.3h37.9v7.59h-37.9zM3373.0 2282.3h7.6v7.59h-7.6zM3395.7 2282.3h15.2v7.59h-15.2zM3221.2 2289.9h7.6v7.59h-7.6zM3236.4 2289.9h22.8v7.59h-22.8zM3266.7 2289.9h7.6v7.59h-7.6zM3281.9 2289.9h7.6v7.59h-7.6zM3297.1 2289.9h7.6v7.59h-7.6zM3312.3 2289.9h30.4v7.59h-30.4zM3350.2 2289.9h7.6v7.59h-7.6zM3373.0 2289.9h7.6v7.59h-7.6zM3388.1 2289.9h7.6v7.59h-7.6zM3403.3 2289.9h7.6v7.59h-7.6zM3221.2 2297.5h7.6v7.59h-7.6zM3266.7 2297.5h7.6v7.59h-7.6zM3281.9 2297.5h7.6v7.59h-7.6zM3297.1 2297.5h7.6v7.59h-7.6zM3312.3 2297.5h15.2v7.59h-15.2zM3342.6 2297.5h45.5v7.59h-45.5zM3395.7 2297.5h7.6v7.59h-7.6zM3221.2 2305.1h53.1v7.59h-53.1zM3281.9 2305.1h15.2v7.59h-15.2zM3327.4 2305.1h7.6v7.59h-7.6zM3350.2 2305.1h7.6v7.59h-7.6zM3388.1 2305.1h22.8v7.59h-22.8z" fill="#000" stroke="#000" stroke-width="0.5" stroke-linejoin="round"/></g><g id="text" fill="#000" stroke="#000" stroke-width="0.35"><text x="153.62" y="259.90" font-family="'Liberation Sans',sans-serif" font-size="72" style="letter-spacing:0.184px;">Conditional score-based generative models</text><text x="153.20" y="347.30" font-family="'Liberation Sans',sans-serif" font-size="72" style="letter-spacing:0.166px;">for solving physics-based inverse problems</text><text x="1670.00" y="239.00" font-family="'Liberation Sans',sans-serif" font-size="28.3" font-weight="bold" style="letter-spacing:-0.289px;">Agnimitra Dasgupta<tspan baseline-shift="9" font-size="62%">1</tspan>, Javier Murgoitio-Esandi<tspan baseline-shift="9" font-size="62%">1</tspan>,</text><text x="1669.00" y="280.00" font-family="'Liberation Sans',sans-serif" font-size="28.3" font-weight="bold" style="letter-spacing:-0.298px;">Deep Ray<tspan baseline-shift="9" font-size="62%">2</tspan> and Assad A. Oberai<tspan baseline-shift="9" font-size="62%">1</tspan></text><text x="1669.84" y="333.00" font-family="'Liberation Sans',sans-serif" font-size="28.3" style="letter-spacing:-0.358px;"><tspan baseline-shift="9" font-size="62%">1</tspan>Aerospace and Mechanical Engineering Department, University of Southern California</text><text x="1670.00" y="388.00" font-family="'Liberation Sans',sans-serif" font-size="28.3" style="letter-spacing:-0.327px;"><tspan baseline-shift="9" font-size="62%">2</tspan>Department of Mathematics, University of Maryland</text><text x="155.00" y="504.10" font-family="'Liberation Sans',sans-serif" font-size="46.8" style="letter-spacing:-0.678px;">Motivation</text><text x="155.81" y="1033.00" font-family="'Liberation Sans',sans-serif" font-size="46.8" style="letter-spacing:-0.958px;">Set-up</text><text x="153.00" y="1406.50" font-family="'Liberation Sans',sans-serif" font-size="46.8" style="letter-spacing:-1.000px;">Method</text><text x="1281.00" y="504.00" font-family="'Liberation Sans',sans-serif" font-size="46.8" style="letter-spacing:-0.917px;">Results</text><text x="2422.24" y="1574.00" font-family="'Liberation Sans',sans-serif" font-size="46.8" style="letter-spacing:-0.927px;">Conclusion</text><text x="2408.34" y="2023.00" font-family="'Liberation Sans',sans-serif" font-size="28.3" style="letter-spacing:-0.340px;">References</text><text x="191.40" y="566.00" font-family="'Liberation Sans',sans-serif" font-size="28.3" style="letter-spacing:-0.340px;">Inverse problems are ill-posed and challenging to solve. High-</text><text x="191.40" y="608.00" font-family="'Liberation Sans',sans-serif" font-size="28.3" style="letter-spacing:-0.332px;">dimensionality and non-linearity of the underlying forward problem are</text><text x="191.40" y="650.00" font-family="'Liberation Sans',sans-serif" font-size="28.3" style="letter-spacing:-0.294px;">well-known complications.</text><text x="191.40" y="687.00" font-family="'Liberation Sans',sans-serif" font-size="28.3" style="letter-spacing:-0.324px;">Bayesian inference over the solutions to a high-dimensional inverse</text><text x="191.40" y="729.00" font-family="'Liberation Sans',sans-serif" font-size="28.3" style="letter-spacing:-0.321px;">problem defined as a posterior distribution is challenging via traditional</text><text x="191.40" y="771.00" font-family="'Liberation Sans',sans-serif" font-size="28.3" style="letter-spacing:-0.195px;">methods.</text><text x="191.40" y="808.50" font-family="'Liberation Sans',sans-serif" font-size="28.3" style="letter-spacing:-0.319px;">Deep generative methods have been shown to be efficient for high-</text><text x="191.40" y="850.00" font-family="'Liberation Sans',sans-serif" font-size="28.3" style="letter-spacing:-0.299px;">dimensional conditional sampling.</text><text x="191.40" y="892.00" font-family="'Liberation Sans',sans-serif" font-size="28.3" style="letter-spacing:-0.347px;">We propose using <tspan font-style="italic">conditional score-based generative models</tspan> to sample</text><text x="191.40" y="929.00" font-family="'Liberation Sans',sans-serif" font-size="28.3" style="letter-spacing:-0.318px;">from high-dimensional posterior distribution, which results from the</text><text x="191.40" y="971.00" font-family="'Liberation Sans',sans-serif" font-size="28.3" style="letter-spacing:-0.309px;">application of Bayesian inference to large-scale inverse problems.</text><text x="191.40" y="1085.00" font-family="'Liberation Sans',sans-serif" font-size="28.3" style="letter-spacing:-0.320px;">Consider random vectors <tspan font-family="'Liberation Serif',serif" font-style="italic" font-weight="bold" font-size="30" style="letter-spacing:-0.136px">x</tspan> <tspan font-family="'DejaVu Math TeX Gyre','DejaVu Serif',serif" font-size="25" style="letter-spacing:-0.136px">∈</tspan> <tspan font-family="'DejaVu Math TeX Gyre','DejaVu Serif',serif" font-size="24" style="letter-spacing:-0.136px">𝓧</tspan> <tspan font-family="'DejaVu Math TeX Gyre','DejaVu Serif',serif" font-size="25" style="letter-spacing:-0.136px">∈</tspan> <tspan font-family="'DejaVu Math TeX Gyre','DejaVu Serif',serif" font-size="26" style="letter-spacing:-0.136px">ℝ</tspan><tspan baseline-shift="11" font-size="68%"><tspan font-family="'Liberation Serif',serif" font-style="italic" style="letter-spacing:-0.136px">N</tspan><tspan font-family="'Liberation Serif',serif" font-style="italic" font-size="90%" style="letter-spacing:-0.136px">x</tspan></tspan> and<tspan font-family="'Liberation Serif',serif" font-style="italic" font-size="30" style="letter-spacing:-0.136px">y</tspan> <tspan font-family="'DejaVu Math TeX Gyre','DejaVu Serif',serif" font-size="25" style="letter-spacing:-0.136px">∈</tspan> <tspan font-family="'DejaVu Math TeX Gyre','DejaVu Serif',serif" font-size="27" style="letter-spacing:-0.136px">𝒴</tspan> <tspan font-family="'DejaVu Math TeX Gyre','DejaVu Serif',serif" font-size="25" style="letter-spacing:-0.136px">∈</tspan> <tspan font-family="'DejaVu Math TeX Gyre','DejaVu Serif',serif" font-size="26" style="letter-spacing:-0.136px">ℝ</tspan><tspan baseline-shift="11" font-size="68%"><tspan font-family="'Liberation Serif',serif" font-style="italic" style="letter-spacing:-0.136px">N</tspan><tspan font-family="'Liberation Serif',serif" font-style="italic" font-size="90%" style="letter-spacing:-0.136px">y</tspan></tspan> denoting the</text><text x="191.40" y="1126.00" font-family="'Liberation Sans',sans-serif" font-size="28.3" style="letter-spacing:-0.294px;">inferred quantity and the measurements from which to infer it, respectively.</text><text x="191.40" y="1167.50" font-family="'Liberation Sans',sans-serif" font-size="28.3" style="letter-spacing:-0.320px;">Let <tspan font-family="'Liberation Serif',serif" font-style="italic" font-size="30" style="letter-spacing:1.775px">π</tspan><tspan font-family="'Liberation Serif',serif" font-size="30" style="letter-spacing:1.775px">(</tspan><tspan font-family="'Liberation Serif',serif" font-style="italic" font-weight="bold" font-size="30" style="letter-spacing:1.775px">x</tspan><tspan font-family="'Liberation Serif',serif" font-size="30" style="letter-spacing:1.775px">)</tspan> and <tspan font-family="'Liberation Serif',serif" font-style="italic" font-size="30" style="letter-spacing:1.775px">ℓ</tspan><tspan font-family="'Liberation Serif',serif" font-size="30" style="letter-spacing:1.775px">(</tspan><tspan font-family="'Liberation Serif',serif" font-style="italic" font-weight="bold" font-size="30" style="letter-spacing:1.775px">y</tspan><tspan font-family="'Liberation Serif',serif" font-size="30" style="letter-spacing:1.775px">|</tspan><tspan font-family="'Liberation Serif',serif" font-style="italic" font-weight="bold" font-size="30" style="letter-spacing:1.775px">x</tspan><tspan font-family="'Liberation Serif',serif" font-size="30" style="letter-spacing:1.775px">)</tspan> denote the prior and likelihood model.</text><text x="191.40" y="1206.00" font-family="'Liberation Sans',sans-serif" font-size="28.3" style="letter-spacing:-0.320px;">Bayes’ rule provides the posterior: <tspan font-family="'Liberation Serif',serif" font-style="italic" font-size="30" style="letter-spacing:1.838px">π</tspan><tspan font-family="'Liberation Serif',serif" font-size="30" style="letter-spacing:1.838px">(</tspan><tspan font-family="'Liberation Serif',serif" font-style="italic" font-weight="bold" font-size="30" style="letter-spacing:1.838px">x</tspan><tspan font-family="'Liberation Serif',serif" font-size="30" style="letter-spacing:1.838px">|</tspan><tspan font-family="'Liberation Serif',serif" font-style="italic" font-weight="bold" font-size="30" style="letter-spacing:1.838px">y</tspan><tspan font-family="'Liberation Serif',serif" font-size="30" style="letter-spacing:1.838px">)</tspan> <tspan font-family="'DejaVu Math TeX Gyre','DejaVu Serif',serif" font-size="30" style="letter-spacing:1.838px">∝</tspan> <tspan font-family="'Liberation Serif',serif" font-style="italic" font-size="30" style="letter-spacing:1.838px">ℓ</tspan><tspan font-family="'Liberation Serif',serif" font-size="30" style="letter-spacing:1.838px">(</tspan><tspan font-family="'Liberation Serif',serif" font-style="italic" font-weight="bold" font-size="30" style="letter-spacing:1.838px">x</tspan><tspan font-family="'Liberation Serif',serif" font-size="30" style="letter-spacing:1.838px">|</tspan><tspan font-family="'Liberation Serif',serif" font-style="italic" font-weight="bold" font-size="30" style="letter-spacing:1.838px">y</tspan><tspan font-family="'Liberation Serif',serif" font-size="30" style="letter-spacing:1.838px">)</tspan><tspan font-family="'Liberation Serif',serif" font-style="italic" font-size="30" style="letter-spacing:1.838px">π</tspan><tspan font-family="'Liberation Serif',serif" font-size="30" style="letter-spacing:1.838px">(</tspan><tspan font-family="'Liberation Serif',serif" font-style="italic" font-weight="bold" font-size="30" style="letter-spacing:1.838px">x</tspan><tspan font-family="'Liberation Serif',serif" font-size="30" style="letter-spacing:1.838px">)</tspan>.</text><text x="191.40" y="1246.50" font-family="'Liberation Sans',sans-serif" font-size="28.3" style="letter-spacing:-0.320px;">We seek to sample from <tspan font-family="'Liberation Serif',serif" font-style="italic" font-size="30" style="letter-spacing:1.939px">π</tspan><tspan font-family="'Liberation Serif',serif" font-size="30" style="letter-spacing:1.939px">(</tspan><tspan font-family="'Liberation Serif',serif" font-style="italic" font-weight="bold" font-size="30" style="letter-spacing:1.939px">x</tspan><tspan font-family="'Liberation Serif',serif" font-size="30" style="letter-spacing:1.939px">|</tspan><tspan font-family="'Liberation Serif',serif" font-style="italic" font-weight="bold" font-size="30" style="letter-spacing:1.939px">y</tspan><tspan font-family="'Liberation Serif',serif" font-size="30" style="letter-spacing:1.939px">)</tspan>.</text><text x="191.40" y="1288.50" font-family="'Liberation Sans',sans-serif" font-size="28.3" style="letter-spacing:-0.297px;">We have a dataset <tspan font-family="'DejaVu Math TeX Gyre','DejaVu Serif',serif" font-size="25">𝒮</tspan> comprising pairwise data of <tspan font-family="'Liberation Serif',serif" font-style="italic" font-weight="bold" font-size="30">x</tspan> and <tspan font-family="'Liberation Serif',serif" font-style="italic" font-weight="bold" font-size="30">y</tspan> from the joint</text><text x="191.40" y="1326.50" font-family="'Liberation Sans',sans-serif" font-size="28.3" style="letter-spacing:-0.320px;">distribution <tspan font-family="'Liberation Serif',serif" font-style="italic" font-size="30" style="letter-spacing:0.792px">π</tspan><tspan font-family="'Liberation Serif',serif" font-size="30" style="letter-spacing:0.792px">(</tspan><tspan font-family="'Liberation Serif',serif" font-style="italic" font-weight="bold" font-size="30" style="letter-spacing:0.792px">x</tspan><tspan font-family="'Liberation Serif',serif" font-size="30" style="letter-spacing:0.792px">,</tspan> <tspan font-family="'Liberation Serif',serif" font-style="italic" font-weight="bold" font-size="30" style="letter-spacing:0.792px">y</tspan><tspan font-family="'Liberation Serif',serif" font-size="30" style="letter-spacing:0.792px">)</tspan>.</text><text x="191.40" y="1491.00" font-family="'Liberation Sans',sans-serif" font-size="28.3" style="letter-spacing:-0.320px;">The goal is to train a conditional score network <tspan font-family="'Liberation Serif',serif" font-style="italic" font-weight="bold" font-size="30" style="letter-spacing:0.325px">s</tspan><tspan font-family="'Liberation Serif',serif" font-size="30" style="letter-spacing:0.325px">(</tspan><tspan font-family="'Liberation Serif',serif" font-style="italic" font-weight="bold" font-size="30" style="letter-spacing:0.325px">x</tspan><tspan font-family="'Liberation Serif',serif" font-size="30" style="letter-spacing:0.325px">,</tspan> <tspan font-family="'Liberation Serif',serif" font-style="italic" font-weight="bold" font-size="30" style="letter-spacing:0.325px">y</tspan><tspan font-family="'Liberation Serif',serif" font-size="30" style="letter-spacing:0.325px">;</tspan> <tspan font-family="'Liberation Serif',serif" font-style="italic" font-weight="bold" font-size="30" style="letter-spacing:0.325px">θ</tspan><tspan font-family="'Liberation Serif',serif" font-size="30" style="letter-spacing:0.325px">)</tspan>, to approximate the</text><text x="191.40" y="1533.00" font-family="'Liberation Sans',sans-serif" font-size="28.3" style="letter-spacing:-0.341px;">score of the posterior distribution point-wise for all <tspan font-family="'Liberation Serif',serif" font-style="italic" font-weight="bold" font-size="30">y</tspan> <tspan font-family="'DejaVu Math TeX Gyre','DejaVu Serif',serif" font-size="25">∈</tspan> <tspan font-family="'DejaVu Math TeX Gyre','DejaVu Serif',serif" font-size="24">𝓨</tspan>.</text><text x="191.40" y="1574.00" font-family="'Liberation Sans',sans-serif" font-size="28.3" style="letter-spacing:-0.350px;">We will train using the dataset <tspan font-family="'DejaVu Math TeX Gyre','DejaVu Serif',serif" font-size="25">𝒮</tspan> and employ it to sample from the posterior</text><text x="191.40" y="1612.00" font-family="'Liberation Sans',sans-serif" font-size="28.3" style="letter-spacing:-0.331px;">distribution using annealed Langevin dynamics.</text><text x="191.40" y="1654.00" font-family="'Liberation Sans',sans-serif" font-size="28.3" style="letter-spacing:-0.203px;">The loss function is:</text><text x="200.70" y="1860.50" font-family="'Liberation Sans',sans-serif" font-size="28.3" style="letter-spacing:-0.322px;">The sampling algorithm is based</text><text x="200.70" y="1902.50" font-family="'Liberation Sans',sans-serif" font-size="28.3" style="letter-spacing:-0.400px;">on annealed Langevin dynamics</text><text x="200.70" y="1943.50" font-family="'Liberation Sans',sans-serif" font-size="28.3" style="letter-spacing:-0.055px;">[1].</text><text x="200.70" y="1981.00" font-family="'Liberation Sans',sans-serif" font-size="28.3" style="letter-spacing:-0.329px;">NCSNv2 architectures are used</text><text x="200.70" y="2023.00" font-family="'Liberation Sans',sans-serif" font-size="28.3" style="letter-spacing:-0.244px;">for the score networks.</text><text x="200.70" y="2064.50" font-family="'Liberation Sans',sans-serif" font-size="28.3" style="letter-spacing:-0.248px;">We use conditional Wasserstein</text><text x="200.70" y="2102.00" font-family="'Liberation Sans',sans-serif" font-size="28.3" style="letter-spacing:-0.322px;">GAN to compare the results. Full</text><text x="200.70" y="2144.00" font-family="'Liberation Sans',sans-serif" font-size="28.3" style="letter-spacing:-0.331px;">details on this method available</text><text x="200.70" y="2186.00" font-family="'Liberation Sans',sans-serif" font-size="28.3" style="letter-spacing:-0.060px;">in [2].</text><text x="1283.00" y="558.00" font-family="'Liberation Sans',sans-serif" font-size="32.5" font-style="italic" style="letter-spacing:0.739px;">Heat conduction: inferring initial conditions</text><text x="1283.20" y="608.50" font-family="'Liberation Sans',sans-serif" font-size="28.3" style="letter-spacing:-0.320px;word-spacing:9.590px;">This inverse problem consists of inferring the initial conditions in a heat</text><text x="1283.20" y="649.50" font-family="'Liberation Sans',sans-serif" font-size="28.3" style="letter-spacing:-0.320px;word-spacing:2.987px;">conduction problem on a two-dimensional solid body from the measurements</text><text x="1283.20" y="691.00" font-family="'Liberation Sans',sans-serif" font-size="28.3" style="letter-spacing:-0.284px;">of the temperature field at some later time.</text><text x="1442.61" y="929.80" font-family="'Liberation Sans',sans-serif" font-size="16.5" fill="#3e4856" stroke="none" style="letter-spacing:-0.296px;">Figure 1: True initial (left), final (middle) and measured (right) temperature fields.</text><text transform="translate(1554.50 970.00) scale(1.08 1)" font-family="'Liberation Sans',sans-serif" font-size="24.5" style="letter-spacing:0.272px;">Mean</text><text transform="translate(1731.04 969.00) scale(1.08 1)" font-family="'Liberation Sans',sans-serif" font-size="24.5" style="letter-spacing:0.362px;">Std. Dev.</text><text transform="translate(1932.92 970.00) scale(1.08 1)" font-family="'Liberation Sans',sans-serif" font-size="24.5" style="letter-spacing:-0.122px;">Abs. Error</text><text x="1375.11" y="1077.50" font-family="'Liberation Sans',sans-serif" font-size="37" font-weight="bold" style="letter-spacing:0.652px;">cSGM</text><rect x="1375.5" y="1083.5" width="105.0" height="4" fill="#000" stroke="none"/><text x="1375.11" y="1241.50" font-family="'Liberation Sans',sans-serif" font-size="37" font-weight="bold" style="letter-spacing:0.630px;">cGAN</text><rect x="1375.5" y="1247.5" width="102.5" height="4" fill="#000" stroke="none"/><text x="1378.22" y="1390.00" font-family="'Liberation Sans',sans-serif" font-size="37" font-weight="bold" style="letter-spacing:1.096px;">Truth</text><rect x="1377.5" y="1396.0" width="96.5" height="4" fill="#000" stroke="none"/><text x="1297.11" y="1493.70" font-family="'Liberation Sans',sans-serif" font-size="16.5" fill="#3e4856" stroke="none" style="letter-spacing:-0.326px;">Figure 2: Comparison of posterior statistics of the initial temperature field obtained using cSGM (first row), cWGAN (second</text><text x="1409.83" y="1510.90" font-family="'Liberation Sans',sans-serif" font-size="16.5" fill="#3e4856" stroke="none" style="letter-spacing:-0.309px;">row), and the true posterior statistics (third row) obtained via Monte Carlo sampling (MCS).</text><text x="1283.20" y="1556.00" font-family="'Liberation Sans',sans-serif" font-size="28.3" style="letter-spacing:-0.332px;"><tspan font-weight="bold">Findings</tspan>: the score-based approach approximates the true posterior statistics</text><text x="1283.20" y="1598.00" font-family="'Liberation Sans',sans-serif" font-size="28.3" style="letter-spacing:-0.294px;">better than the cWGAN.</text><text x="1282.74" y="1646.00" font-family="'Liberation Sans',sans-serif" font-size="32.5" font-style="italic" style="letter-spacing:0.838px;">Inverse Helmholtz problem: elastography of the optic nerve head.</text><text x="1283.20" y="1690.00" font-family="'Liberation Sans',sans-serif" font-size="28.3" style="letter-spacing:-0.316px;">This inverse problem consists of obtaining the shear modulus field (<tspan font-family="'Liberation Serif',serif" font-style="italic" font-weight="bold" font-size="30">x</tspan>) of a region</text><text x="1283.20" y="1732.00" font-family="'Liberation Sans',sans-serif" font-size="28.3" style="letter-spacing:-0.320px;">from wave amplitude fields (<tspan font-family="'Liberation Serif',serif" font-style="italic" font-weight="bold" font-size="30" style="letter-spacing:2.725px">y</tspan><tspan baseline-shift="-6" font-size="21"><tspan font-family="'Liberation Serif',serif" style="letter-spacing:2.725px">1</tspan></tspan> and <tspan font-family="'Liberation Serif',serif" font-style="italic" font-weight="bold" font-size="30" style="letter-spacing:2.725px">y</tspan><tspan baseline-shift="-6" font-size="21"><tspan font-family="'Liberation Serif',serif" style="letter-spacing:2.725px">2</tspan></tspan>) at a given frequency, where <tspan font-family="'Liberation Serif',serif" font-style="italic" font-weight="bold" font-size="30" style="letter-spacing:2.725px">y</tspan><tspan baseline-shift="-6" font-size="21"><tspan font-family="'Liberation Serif',serif" style="letter-spacing:2.725px">1</tspan></tspan> and <tspan font-family="'Liberation Serif',serif" font-style="italic" font-weight="bold" font-size="30" style="letter-spacing:2.725px">y</tspan><tspan baseline-shift="-6" font-size="21"><tspan font-family="'Liberation Serif',serif" style="letter-spacing:2.725px">2</tspan></tspan> are</text><text x="1283.20" y="1773.00" font-family="'Liberation Sans',sans-serif" font-size="28.3" style="letter-spacing:-0.302px;">the solution to the Helmholtz equation given <tspan font-family="'Liberation Serif',serif" font-style="italic" font-weight="bold" font-size="30">x</tspan>.</text><text transform="translate(1412.80 1814.00) scale(1.08 1)" font-family="'Liberation Sans',sans-serif" font-size="24.5" style="letter-spacing:-0.061px;">Ground truth</text><text transform="translate(1755.00 1813.00) scale(1.08 1)" font-family="'Liberation Sans',sans-serif" font-size="24.5" style="letter-spacing:-0.054px;">Noisy measurement</text><text x="1478.38" y="1846.00" font-family="'Liberation Serif',serif" font-size="30" font-weight="bold" font-style="italic">x</text><text x="1753.00" y="1846.00" font-family="'Liberation Serif',serif" font-size="30" font-weight="bold" font-style="italic">y<tspan baseline-shift="-6" font-size="68%"><tspan font-style="normal">1</tspan></tspan></text><text x="1988.00" y="1846.00" font-family="'Liberation Serif',serif" font-size="30" font-weight="bold" font-style="italic">y<tspan baseline-shift="-6" font-size="68%"><tspan font-style="normal">2</tspan></tspan></text><text x="1360.61" y="2257.00" font-family="'Liberation Sans',sans-serif" font-size="16.5" fill="#3e4856" stroke="none" style="letter-spacing:-0.297px;">Figure 3: Ground truth, <tspan font-family="'Liberation Serif',serif" font-style="italic" font-weight="bold" font-size="18">x</tspan>, to be predicted given the noisy measurements <tspan font-family="'Liberation Serif',serif" font-style="italic" font-size="18">y</tspan><tspan baseline-shift="-3" font-size="12.5"><tspan font-family="'Liberation Serif',serif">1</tspan></tspan> and <tspan font-family="'Liberation Serif',serif" font-style="italic" font-size="18">y</tspan><tspan baseline-shift="-3" font-size="12.5"><tspan font-family="'Liberation Serif',serif">2</tspan></tspan> in the inverse Helmholtz problem.</text><text transform="translate(2692.00 481.50) scale(1.08 1)" font-family="'Liberation Sans',sans-serif" font-size="24.5" style="letter-spacing:0.333px;">Mean</text><text transform="translate(2902.53 480.00) scale(1.08 1)" font-family="'Liberation Sans',sans-serif" font-size="24.5" style="letter-spacing:0.455px;">Std. Dev.</text><text transform="translate(3128.43 481.50) scale(1.08 1)" font-family="'Liberation Sans',sans-serif" font-size="24.5" style="letter-spacing:-0.122px;">Abs. Error</text><text transform="translate(2692.00 920.50) scale(1.08 1)" font-family="'Liberation Sans',sans-serif" font-size="24.5" style="letter-spacing:0.333px;">Mean</text><text transform="translate(2902.53 919.00) scale(1.08 1)" font-family="'Liberation Sans',sans-serif" font-size="24.5" style="letter-spacing:0.455px;">Std. Dev.</text><text transform="translate(3128.43 920.50) scale(1.08 1)" font-family="'Liberation Sans',sans-serif" font-size="24.5" style="letter-spacing:-0.122px;">Abs. Error</text><text x="2435.81" y="698.40" font-family="'Liberation Sans',sans-serif" font-size="37" font-weight="bold" style="letter-spacing:0.152px;">cSGM</text><rect x="2436.2" y="703.5" width="103.5" height="4" fill="#000" stroke="none"/><text x="2439.61" y="1137.60" font-family="'Liberation Sans',sans-serif" font-size="37" font-weight="bold" style="letter-spacing:1.130px;">cGAN</text><rect x="2440.0" y="1142.7" width="104.0" height="4" fill="#000" stroke="none"/><text x="2438.34" y="1349.00" font-family="'Liberation Sans',sans-serif" font-size="20" fill="#3e4856" stroke="none" style="letter-spacing:0.470px;">Figure 3: Comparison of posterior statistics in the inverse Helmholtz problem obtained using</text><text x="2567.62" y="1374.70" font-family="'Liberation Sans',sans-serif" font-size="20" fill="#3e4856" stroke="none" style="letter-spacing:0.529px;">cWGAN and conditional score-based generative model (cSGM).</text><text x="2427.80" y="1428.00" font-family="'Liberation Sans',sans-serif" font-size="28.3" style="letter-spacing:-0.335px;"><tspan font-weight="bold">Findings</tspan>: the cSGM can recover the ground truth better than the cWGAN as</text><text x="2427.80" y="1470.00" font-family="'Liberation Sans',sans-serif" font-size="28.3" style="letter-spacing:-0.261px;">evidenced by the lower absolute error. Accordingly, the standard deviation is</text><text x="2427.80" y="1512.00" font-family="'Liberation Sans',sans-serif" font-size="28.3" style="letter-spacing:-0.285px;">lower for the cSGM posterior as well.</text><text x="2434.50" y="1632.00" font-family="'Liberation Sans',sans-serif" font-size="28.3" style="letter-spacing:-0.331px;">The results show that the method is promising; cSGMs are better at</text><text x="2434.50" y="1674.00" font-family="'Liberation Sans',sans-serif" font-size="28.3" style="letter-spacing:-0.316px;">recovering the ground truth as compared to cWGANs.</text><text x="2434.50" y="1716.00" font-family="'Liberation Sans',sans-serif" font-size="28.3" style="letter-spacing:-0.343px;">Like other conditional generative models, cSGMs can be re-used for a</text><text x="2434.50" y="1753.00" font-family="'Liberation Sans',sans-serif" font-size="28.3" style="letter-spacing:-0.298px;">new set of measurements.</text><text x="2434.50" y="1795.00" font-family="'Liberation Sans',sans-serif" font-size="28.3" style="letter-spacing:-0.312px;">There is a drawback of the method: the computational cost of obtaining</text><text x="2434.50" y="1837.00" font-family="'Liberation Sans',sans-serif" font-size="28.3" style="letter-spacing:-0.327px;">posterior samples using cSGMs is much larger than cGANs.</text><text x="2434.50" y="1874.00" font-family="'Liberation Sans',sans-serif" font-size="28.3" style="letter-spacing:-0.341px;">The application of cSGMs to large-scale physics-based inverse problems</text><text x="2434.50" y="1916.00" font-family="'Liberation Sans',sans-serif" font-size="28.3" style="letter-spacing:-0.294px;">stands to gain from the current research efforts towards reducing the</text><text x="2434.50" y="1957.50" font-family="'Liberation Sans',sans-serif" font-size="28.3" style="letter-spacing:-0.269px;">computational cost of sampling from diffusion models.</text><text x="2410.30" y="2089.00" font-family="'Liberation Sans',sans-serif" font-size="20" style="letter-spacing:0.531px;">[1] Y. Song and S. Ermon. Generative modeling by estimating gradients of</text><text x="2410.30" y="2118.00" font-family="'Liberation Sans',sans-serif" font-size="20" style="letter-spacing:0.491px;">the data distribution. <tspan font-style="italic">Advances in Neural Information Processing Systems</tspan>,</text><text x="2410.30" y="2146.50" font-family="'Liberation Sans',sans-serif" font-size="20" style="letter-spacing:0.610px;">33:12438-12448, 2020.</text><text x="2410.30" y="2188.50" font-family="'Liberation Sans',sans-serif" font-size="20" style="letter-spacing:0.531px;">[2] D. Ray, J. Murgoitio-Esandi, A. Dasgupta, and A. A. Oberai. Solution of</text><text x="2410.30" y="2217.50" font-family="'Liberation Sans',sans-serif" font-size="20" style="letter-spacing:0.475px;">physics-based inverse problems using conditional generative adversarial</text><text x="2410.30" y="2247.00" font-family="'Liberation Sans',sans-serif" font-size="20" style="letter-spacing:0.495px;">networks with full gradient penalty. <tspan font-style="italic">arXiv preprint arXiv:2306.04895, 2023</tspan>.</text><text x="648.29" y="1844.00" font-family="'Liberation Serif',serif" font-size="23.5" style="letter-spacing:-0.240px;"><tspan font-weight="bold">Algorithm 1:</tspan> Annealed Langevin dynamics</text><text x="647.50" y="1877.50" font-family="'Liberation Serif',serif" font-size="23.5" style="letter-spacing:0.292px;"><tspan font-weight="bold">Input:</tspan> Conditional score model <tspan font-family="'Liberation Serif',serif" font-style="italic">s</tspan>(<tspan font-family="'Liberation Serif',serif" font-style="italic" font-weight="bold">x</tspan>, <tspan font-family="'Liberation Serif',serif" font-style="italic" font-weight="bold">y</tspan>; <tspan font-family="'Liberation Serif',serif" font-style="italic" font-weight="bold">θ</tspan><tspan baseline-shift="7" font-size="70%">∗</tspan>),</text><text x="719.50" y="1903.50" font-family="'Liberation Serif',serif" font-size="23.5" style="letter-spacing:0.250px;">measurement <tspan font-family="'Liberation Serif',serif" font-style="italic" font-weight="bold">ŷ</tspan>, sampling steps <tspan font-family="'Liberation Serif',serif" font-style="italic">T</tspan>, step</text><text x="719.00" y="1934.00" font-family="'Liberation Serif',serif" font-size="23.5" style="letter-spacing:0.167px;">size <tspan font-family="'Liberation Serif',serif" font-style="italic">ϵ</tspan>, and noise scales {<tspan font-family="'Liberation Serif',serif" font-style="italic">σ</tspan><tspan baseline-shift="-4" font-size="70%"><tspan font-family="'Liberation Serif',serif" font-style="italic">i</tspan></tspan>}<tspan baseline-shift="8" font-size="70%"><tspan font-family="'Liberation Serif',serif" font-style="italic">L</tspan></tspan><tspan baseline-shift="-7" font-size="70%"><tspan font-family="'Liberation Serif',serif" font-style="italic">i</tspan>=1</tspan></text><text x="647.33" y="1959.50" font-family="'Liberation Serif',serif" font-size="23.5" style="letter-spacing:0.361px;">Initialize <tspan font-family="'Liberation Serif',serif" font-style="italic" font-weight="bold">x</tspan><tspan baseline-shift="-4" font-size="70%">0</tspan> such that {<tspan font-family="'Liberation Serif',serif" font-style="italic" font-weight="bold">x</tspan><tspan baseline-shift="-4" font-size="70%">0</tspan>}<tspan baseline-shift="-4" font-size="70%"><tspan font-family="'Liberation Serif',serif" font-style="italic">i</tspan></tspan> ∼ <tspan font-family="'DejaVu Math TeX Gyre','DejaVu Serif',serif" font-size="21">𝒰</tspan>(0, 1)</text><text x="648.13" y="1985.00" font-family="'Liberation Serif',serif" font-size="23.5" style="letter-spacing:0.685px;"><tspan font-weight="bold">for</tspan> <tspan font-family="'Liberation Serif',serif" font-style="italic">i</tspan> = 1 <tspan font-weight="bold">to</tspan> <tspan font-family="'Liberation Serif',serif" font-style="italic">L</tspan> <tspan font-weight="bold">do</tspan></text><text x="684.34" y="2010.50" font-family="'Liberation Serif',serif" font-size="23.5" style="letter-spacing:2.926px;"><tspan font-family="'Liberation Serif',serif" font-style="italic">α</tspan><tspan baseline-shift="-4" font-size="70%"><tspan font-family="'Liberation Serif',serif" font-style="italic">i</tspan></tspan> = <tspan font-family="'Liberation Serif',serif" font-style="italic">ϵσ</tspan><tspan baseline-shift="-4" font-size="70%"><tspan font-family="'Liberation Serif',serif" font-style="italic">i</tspan></tspan>/<tspan font-family="'Liberation Serif',serif" font-style="italic">σ</tspan><tspan baseline-shift="-4" font-size="70%"><tspan font-family="'Liberation Serif',serif" font-style="italic">L</tspan></tspan></text><text x="684.63" y="2036.00" font-family="'Liberation Serif',serif" font-size="23.5" style="letter-spacing:0.904px;"><tspan font-weight="bold">for</tspan> <tspan font-family="'Liberation Serif',serif" font-style="italic">j</tspan> = 1 <tspan font-weight="bold">to</tspan> <tspan font-family="'Liberation Serif',serif" font-style="italic">T</tspan> <tspan font-weight="bold">do</tspan></text><text x="719.51" y="2062.00" font-family="'Liberation Serif',serif" font-size="23.5" style="letter-spacing:0.833px;">Sample <tspan font-family="'Liberation Serif',serif" font-style="italic" font-weight="bold">z</tspan> ∼ <tspan font-family="'DejaVu Math TeX Gyre','DejaVu Serif',serif" font-size="21">𝒩</tspan>(<tspan font-weight="bold">0</tspan>, <tspan font-family="'DejaVu Math TeX Gyre','DejaVu Serif',serif" font-size="20">𝕀</tspan><tspan baseline-shift="-4" font-size="70%"><tspan font-family="'Liberation Serif',serif" font-style="italic">N</tspan><tspan baseline-shift="-3" font-size="80%"><tspan font-family="'DejaVu Math TeX Gyre','DejaVu Serif',serif" font-size="80%">𝒳</tspan></tspan></tspan>)</text><text x="721.00" y="2087.50" font-family="'Liberation Serif',serif" font-size="23.5" style="letter-spacing:2.858px;"><tspan font-family="'Liberation Serif',serif" font-style="italic" font-weight="bold">x</tspan><tspan baseline-shift="-4" font-size="70%"><tspan font-family="'Liberation Serif',serif" font-style="italic">t</tspan></tspan> = <tspan font-family="'Liberation Serif',serif" font-style="italic" font-weight="bold">x</tspan><tspan baseline-shift="-4" font-size="70%"><tspan font-family="'Liberation Serif',serif" font-style="italic">j</tspan>−1</tspan>+<tspan font-family="'Liberation Serif',serif" font-style="italic">α</tspan><tspan baseline-shift="-4" font-size="70%"><tspan font-family="'Liberation Serif',serif" font-style="italic">i</tspan></tspan><tspan font-family="'Liberation Serif',serif" font-style="italic">s</tspan>(<tspan font-family="'Liberation Serif',serif" font-style="italic" font-weight="bold">x</tspan><tspan baseline-shift="-4" font-size="70%"><tspan font-family="'Liberation Serif',serif" font-style="italic">j</tspan>−1</tspan>, <tspan font-family="'Liberation Serif',serif" font-style="italic" font-weight="bold">ŷ</tspan>; <tspan font-family="'Liberation Serif',serif" font-style="italic" font-weight="bold">θ</tspan><tspan baseline-shift="7" font-size="70%">∗</tspan>)+√<tspan text-decoration='overline'>2<tspan font-family="'Liberation Serif',serif" font-style="italic">α</tspan><tspan baseline-shift="-4" font-size="70%"><tspan font-family="'Liberation Serif',serif" font-style="italic">i</tspan></tspan></tspan><tspan font-family="'Liberation Serif',serif" font-style="italic" font-weight="bold">z</tspan></text><text x="684.00" y="2113.00" font-family="'Liberation Serif',serif" font-size="23.5" style="letter-spacing:-0.197px;"><tspan font-weight="bold">end</tspan></text><text x="683.51" y="2139.00" font-family="'Liberation Serif',serif" font-size="23.5" style="letter-spacing:2.105px;">Set <tspan font-family="'Liberation Serif',serif" font-style="italic" font-weight="bold">x</tspan><tspan baseline-shift="-4" font-size="70%">0</tspan> = <tspan font-family="'Liberation Serif',serif" font-style="italic" font-weight="bold">x</tspan><tspan baseline-shift="-4" font-size="70%"><tspan font-family="'Liberation Serif',serif" font-style="italic">T</tspan></tspan></text><text x="647.50" y="2163.50" font-family="'Liberation Serif',serif" font-size="23.5" style="letter-spacing:0.053px;"><tspan font-weight="bold">end</tspan></text><text x="647.38" y="2192.50" font-family="'Liberation Serif',serif" font-size="23.5" style="letter-spacing:1.051px;">Denoise <tspan font-family="'Liberation Serif',serif" font-style="italic">x</tspan><tspan baseline-shift="-4" font-size="70%"><tspan font-family="'Liberation Serif',serif" font-style="italic">T</tspan></tspan> = <tspan font-family="'Liberation Serif',serif" font-style="italic">x</tspan><tspan baseline-shift="-4" font-size="70%">0</tspan> + <tspan font-family="'Liberation Serif',serif" font-style="italic">σ</tspan><tspan baseline-shift="8" font-size="70%">2</tspan><tspan baseline-shift="-5" font-size="70%"><tspan font-family="'Liberation Serif',serif" font-style="italic">L</tspan></tspan><tspan font-family="'Liberation Serif',serif" font-style="italic">s</tspan>(<tspan font-family="'Liberation Serif',serif" font-style="italic" font-weight="bold">x</tspan><tspan baseline-shift="-4" font-size="70%">0</tspan>, <tspan font-family="'Liberation Serif',serif" font-style="italic" font-weight="bold">ŷ</tspan>; <tspan font-family="'Liberation Serif',serif" font-style="italic" font-weight="bold">θ</tspan><tspan baseline-shift="7" font-size="70%">∗</tspan>)</text><text x="647.50" y="2218.00" font-family="'Liberation Serif',serif" font-size="23.5" style="letter-spacing:0.818px;"><tspan font-weight="bold">Output:</tspan> Realization <tspan font-family="'Liberation Serif',serif" font-style="italic" font-weight="bold">x</tspan><tspan baseline-shift="-4" font-size="70%"><tspan font-family="'Liberation Serif',serif" font-style="italic">T</tspan></tspan> ∼ <tspan font-family="'Liberation Serif',serif" font-style="italic">π</tspan>(<tspan font-family="'Liberation Serif',serif" font-style="italic" font-weight="bold">x</tspan>|<tspan font-family="'Liberation Serif',serif" font-style="italic" font-weight="bold">ŷ</tspan>)</text><text x="275.33" y="1742.50" font-family="'Liberation Serif',serif" font-size="30" style="letter-spacing:1.434px;"><tspan font-family="'DejaVu Math TeX Gyre','DejaVu Serif',serif" font-size="29">ℒ</tspan>(<tspan font-family="'Liberation Serif',serif" font-style="italic">θ</tspan>) =</text><text x="376.34" y="1719.00" font-family="'Liberation Serif',serif" font-size="30">1</text><text x="370.36" y="1760.00" font-family="'Liberation Serif',serif" font-size="30">2<tspan font-family="'Liberation Serif',serif" font-style="italic">L</tspan></text><text x="417.74" y="1699.00" font-family="'Liberation Serif',serif" font-size="21"><tspan font-family="'Liberation Serif',serif" font-style="italic">L</tspan></text><text x="406.42" y="1774.00" font-family="'Liberation Serif',serif" font-size="21" style="letter-spacing:3.465px;"><tspan font-family="'Liberation Serif',serif" font-style="italic">i</tspan>=1</text><text x="445.36" y="1742.50" font-family="'Liberation Serif',serif" font-size="30"><tspan font-family="'DejaVu Math TeX Gyre','DejaVu Serif',serif" font-size="29">𝔼</tspan></text><text x="466.00" y="1749.00" font-family="'Liberation Serif',serif" font-size="21.5" style="letter-spacing:2.300px;"><tspan font-family="'Liberation Serif',serif" font-style="italic" font-weight="bold">y</tspan>~<tspan font-family="'Liberation Serif',serif" font-style="italic">π</tspan>(<tspan font-family="'Liberation Serif',serif" font-style="italic" font-weight="bold">y</tspan>)</text><text x="548.86" y="1742.50" font-family="'Liberation Serif',serif" font-size="30"><tspan font-family="'DejaVu Math TeX Gyre','DejaVu Serif',serif" font-size="29">𝔼</tspan></text><text x="567.50" y="1745.00" font-family="'Liberation Serif',serif" font-size="21.5" style="letter-spacing:1.944px;"><tspan font-family="'Liberation Serif',serif" font-style="italic" font-weight="bold">x</tspan>~<tspan font-family="'Liberation Serif',serif" font-style="italic">π</tspan><tspan baseline-shift="-4" font-size="72%"><tspan font-family="'Liberation Serif',serif" font-style="italic">σ</tspan></tspan>(<tspan font-family="'Liberation Serif',serif" font-style="italic" font-weight="bold">x̃</tspan>|<tspan font-family="'Liberation Serif',serif" font-style="italic" font-weight="bold">x</tspan>)</text><text x="571.00" y="1770.00" font-family="'Liberation Serif',serif" font-size="21.5" style="letter-spacing:0.889px;"><tspan font-family="'Liberation Serif',serif" font-style="italic" font-weight="bold">x</tspan>,<tspan font-family="'Liberation Serif',serif" font-style="italic" font-weight="bold">y</tspan>~<tspan font-family="'Liberation Serif',serif" font-style="italic">π</tspan>(<tspan font-family="'Liberation Serif',serif" font-style="italic" font-weight="bold">x</tspan>,<tspan font-family="'Liberation Serif',serif" font-style="italic" font-weight="bold">y</tspan>)</text><text x="708.00" y="1742.50" font-family="'Liberation Serif',serif" font-size="30" style="letter-spacing:0.278px;"><tspan font-family="'Liberation Serif',serif" font-style="italic">σ</tspan><tspan baseline-shift="-6" font-size="72%"><tspan font-family="'Liberation Serif',serif" font-style="italic">i</tspan></tspan><tspan font-family="'Liberation Serif',serif" font-style="italic" font-weight="bold">s</tspan>(<tspan font-family="'Liberation Serif',serif" font-style="italic" font-weight="bold">x̃</tspan>, <tspan font-family="'Liberation Serif',serif" font-style="italic" font-weight="bold">y</tspan>; <tspan font-family="'Liberation Serif',serif" font-style="italic">σ</tspan><tspan baseline-shift="-6" font-size="72%"><tspan font-family="'Liberation Serif',serif" font-style="italic">i</tspan></tspan>, <tspan font-family="'Liberation Serif',serif" font-style="italic" font-weight="bold">θ</tspan>) +</text><text x="912.88" y="1719.00" font-family="'Liberation Serif',serif" font-size="30" style="letter-spacing:0.223px;"><tspan font-family="'Liberation Serif',serif" font-style="italic" font-weight="bold">x̃</tspan> − <tspan font-family="'Liberation Serif',serif" font-style="italic" font-weight="bold">x</tspan></text><text x="933.00" y="1760.00" font-family="'Liberation Serif',serif" font-size="30"><tspan font-family="'Liberation Serif',serif" font-style="italic">σ</tspan><tspan baseline-shift="-6" font-size="72%"><tspan font-family="'Liberation Serif',serif" font-style="italic">i</tspan></tspan></text><text x="991.50" y="1705.00" font-family="'Liberation Serif',serif" font-size="21">2</text><text x="991.50" y="1769.00" font-family="'Liberation Serif',serif" font-size="21">2</text><text x="2990.31" y="271.00" font-family="'Liberation Sans',sans-serif" font-size="33" fill="#35373f" stroke="none" style="letter-spacing:0.908px;">NEURAL INFORMATION</text><text x="2991.01" y="306.00" font-family="'Liberation Sans',sans-serif" font-size="33" fill="#35373f" stroke="none" style="letter-spacing:-0.228px;">PROCESSING SYSTEMS</text><circle cx="161" cy="556" r="3.4" fill="#000"/><circle cx="161" cy="677" r="3.4" fill="#000"/><circle cx="161" cy="798.5" r="3.4" fill="#000"/><circle cx="161" cy="882" r="3.4" fill="#000"/><circle cx="161" cy="1075" r="3.4" fill="#000"/><circle cx="161" cy="1157.5" r="3.4" fill="#000"/><circle cx="161" cy="1196" r="3.4" fill="#000"/><circle cx="161" cy="1236.5" r="3.4" fill="#000"/><circle cx="161" cy="1278.5" r="3.4" fill="#000"/><circle cx="161" cy="1481" r="3.4" fill="#000"/><circle cx="161" cy="1564" r="3.4" fill="#000"/><circle cx="161" cy="1644" r="3.4" fill="#000"/><circle cx="171" cy="1850.5" r="3.4" fill="#000"/><circle cx="171" cy="1971" r="3.4" fill="#000"/><circle cx="171" cy="2054.5" r="3.4" fill="#000"/><circle cx="2405" cy="1622" r="3.4" fill="#000"/><circle cx="2405" cy="1706" r="3.4" fill="#000"/><circle cx="2405" cy="1785" r="3.4" fill="#000"/><circle cx="2405" cy="1864" r="3.4" fill="#000"/><text transform="matrix(46.296 0 0 53.333 401.30 1746.67)" font-family="'DejaVu Math TeX Gyre','DejaVu Serif',serif" font-size="1" stroke="none">∑</text><text transform="matrix(38.636 0 0 104.848 539.60 1759.85)" font-family="'Liberation Serif',serif" font-size="1" stroke="none">[</text><text transform="matrix(40.000 0 0 104.848 1017.10 1759.85)" font-family="'Liberation Serif',serif" font-size="1" stroke="none">]</text><text transform="matrix(33.333 0 0 87.879 679.50 1755.64)" font-family="'Liberation Serif',serif" font-size="1" stroke="none">{</text><text transform="matrix(36.667 0 0 87.879 1000.70 1755.64)" font-family="'Liberation Serif',serif" font-size="1" stroke="none">}</text><text transform="matrix(56.667 0 0 86.957 692.82 1760.00)" font-family="'Liberation Serif',serif" font-size="1" stroke="none">‖</text><text transform="matrix(63.333 0 0 86.957 974.88 1760.00)" font-family="'Liberation Serif',serif" font-size="1" stroke="none">‖</text><rect x="372.5" y="1733.1" width="28.5" height="1.8" fill="#000"/><rect x="924" y="1734.1" width="63.5" height="1.8" fill="#000"/><rect x="648.5" y="1819.4" width="485" height="2.2" fill="#111"/><rect x="648.5" y="1852.2" width="485" height="1.6" fill="#111"/><rect x="648.5" y="2227.4" width="485" height="2.2" fill="#111"/><rect x="660.6" y="1992.5" width="0.9" height="149" fill="#222"/><rect x="697.1" y="2043.5" width="0.9" height="47.5" fill="#222"/></g></svg></body></html>
